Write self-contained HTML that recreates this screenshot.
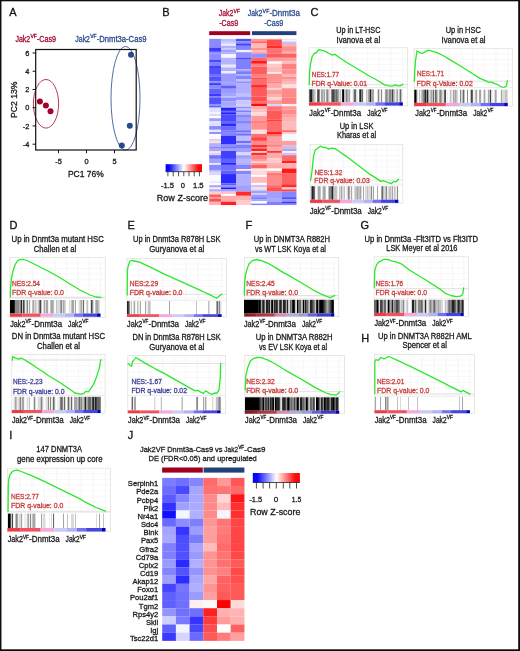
<!DOCTYPE html>
<html><head><meta charset="utf-8"><title>Figure</title>
<style>html,body{margin:0;padding:0;background:#fff;width:520px;height:651px;overflow:hidden;}.wrap{position:relative;width:520px;height:651px;}svg{position:absolute;left:0;top:0;display:block;font-family:"Liberation Sans", sans-serif;}svg.main{filter:blur(0.45px);}</style></head>
<body>
<div class="wrap">
<svg class="main" width="520" height="651" viewBox="0 0 520 651">
<rect x="0" y="0" width="520" height="651" fill="#fff"/>
<text x="9.20" y="15.80" font-size="11.00" fill="#111" stroke="#111" stroke-width="0.30">A</text>
<text x="162.30" y="16.00" font-size="11.00" fill="#111" stroke="#111" stroke-width="0.30">B</text>
<text x="310.40" y="16.20" font-size="11.00" fill="#111" stroke="#111" stroke-width="0.30">C</text>
<text x="9.50" y="228.70" font-size="11.00" fill="#111" stroke="#111" stroke-width="0.30">D</text>
<text x="127.50" y="229.20" font-size="11.00" fill="#111" stroke="#111" stroke-width="0.30">E</text>
<text x="245.50" y="229.00" font-size="11.00" fill="#111" stroke="#111" stroke-width="0.30">F</text>
<text x="360.50" y="229.00" font-size="11.00" fill="#111" stroke="#111" stroke-width="0.30">G</text>
<text x="361.20" y="342.00" font-size="11.00" fill="#111" stroke="#111" stroke-width="0.30">H</text>
<text x="9.20" y="438.80" font-size="11.00" fill="#111" stroke="#111" stroke-width="0.30">I</text>
<text x="127.70" y="438.80" font-size="11.00" fill="#111" stroke="#111" stroke-width="0.30">J</text>
<text x="15.40" y="41.80" font-size="8.30" fill="#a50b2f" textLength="14.80" lengthAdjust="spacingAndGlyphs" stroke="#a50b2f" stroke-width="0.30">Jak2</text>
<text x="30.40" y="38.31" font-size="5.15" fill="#a50b2f" textLength="6.50" lengthAdjust="spacingAndGlyphs" stroke="#a50b2f" stroke-width="0.30">VF</text>
<text x="36.90" y="41.80" font-size="8.30" fill="#a50b2f" textLength="19.20" lengthAdjust="spacingAndGlyphs" stroke="#a50b2f" stroke-width="0.30">-Cas9</text>
<text x="75.30" y="41.70" font-size="8.30" fill="#2c4b8c" textLength="14.70" lengthAdjust="spacingAndGlyphs" stroke="#2c4b8c" stroke-width="0.30">Jak2</text>
<text x="90.20" y="38.21" font-size="5.15" fill="#2c4b8c" textLength="6.50" lengthAdjust="spacingAndGlyphs" stroke="#2c4b8c" stroke-width="0.30">VF</text>
<text x="96.70" y="41.70" font-size="8.30" fill="#2c4b8c" textLength="49.80" lengthAdjust="spacingAndGlyphs" stroke="#2c4b8c" stroke-width="0.30">-Dnmt3a-Cas9</text>
<ellipse cx="46" cy="103.8" rx="12.6" ry="24.3" fill="none" stroke="#b3223f" stroke-width="0.9"/>
<ellipse cx="125.5" cy="98.3" rx="14.5" ry="51.9" fill="none" stroke="#3b5b99" stroke-width="0.9"/>
<rect x="35.7" y="49.5" width="100.5" height="100.5" fill="none" stroke="#111" stroke-width="1.2"/>
<line x1="32.60" y1="53.00" x2="35.70" y2="53.00" stroke="#111" stroke-width="1.00"/>
<text x="29.30" y="55.60" font-size="7.40" fill="#1a1a1a" text-anchor="end" stroke="#1a1a1a" stroke-width="0.30">6</text>
<line x1="32.60" y1="71.24" x2="35.70" y2="71.24" stroke="#111" stroke-width="1.00"/>
<text x="29.30" y="73.84" font-size="7.40" fill="#1a1a1a" text-anchor="end" stroke="#1a1a1a" stroke-width="0.30">4</text>
<line x1="32.60" y1="89.48" x2="35.70" y2="89.48" stroke="#111" stroke-width="1.00"/>
<text x="29.30" y="92.08" font-size="7.40" fill="#1a1a1a" text-anchor="end" stroke="#1a1a1a" stroke-width="0.30">2</text>
<line x1="32.60" y1="107.72" x2="35.70" y2="107.72" stroke="#111" stroke-width="1.00"/>
<text x="29.30" y="110.32" font-size="7.40" fill="#1a1a1a" text-anchor="end" stroke="#1a1a1a" stroke-width="0.30">0</text>
<line x1="32.60" y1="125.96" x2="35.70" y2="125.96" stroke="#111" stroke-width="1.00"/>
<text x="29.30" y="128.56" font-size="7.40" fill="#1a1a1a" text-anchor="end" stroke="#1a1a1a" stroke-width="0.30">-2</text>
<line x1="32.60" y1="144.20" x2="35.70" y2="144.20" stroke="#111" stroke-width="1.00"/>
<text x="29.30" y="146.80" font-size="7.40" fill="#1a1a1a" text-anchor="end" stroke="#1a1a1a" stroke-width="0.30">-4</text>
<line x1="58.50" y1="150.00" x2="58.50" y2="153.20" stroke="#111" stroke-width="1.00"/>
<text x="58.50" y="163.60" font-size="7.40" fill="#1a1a1a" text-anchor="middle" stroke="#1a1a1a" stroke-width="0.30">-5</text>
<line x1="86.50" y1="150.00" x2="86.50" y2="153.20" stroke="#111" stroke-width="1.00"/>
<text x="86.50" y="163.60" font-size="7.40" fill="#1a1a1a" text-anchor="middle" stroke="#1a1a1a" stroke-width="0.30">0</text>
<line x1="114.50" y1="150.00" x2="114.50" y2="153.20" stroke="#111" stroke-width="1.00"/>
<text x="114.50" y="163.60" font-size="7.40" fill="#1a1a1a" text-anchor="middle" stroke="#1a1a1a" stroke-width="0.30">5</text>
<text x="67.90" y="177.20" font-size="9.00" fill="#1a1a1a" textLength="35.90" lengthAdjust="spacingAndGlyphs" stroke="#1a1a1a" stroke-width="0.30">PC1 76%</text>
<text x="0" y="0" font-size="9.0" fill="#1a1a1a" stroke="#1a1a1a" stroke-width="0.30" textLength="36.5" lengthAdjust="spacingAndGlyphs" transform="translate(16.6,118.0) rotate(-90)">PC2 13%</text>
<circle cx="39.9" cy="101.4" r="3.0" fill="#a6002b"/>
<circle cx="45.9" cy="105.4" r="3.0" fill="#a6002b"/>
<circle cx="50.5" cy="111.3" r="3.0" fill="#a6002b"/>
<circle cx="131.0" cy="54.7" r="3.0" fill="#284a8c"/>
<circle cx="129.8" cy="125.7" r="3.0" fill="#284a8c"/>
<circle cx="121.8" cy="145.4" r="3.0" fill="#284a8c"/>
<rect x="209.20" y="38.85" width="11.85" height="8.82" fill="#8a8aff"/>
<rect x="209.20" y="47.62" width="11.85" height="4.21" fill="#3a3aff"/>
<rect x="209.20" y="51.77" width="11.85" height="1.90" fill="#8888ff"/>
<rect x="209.20" y="53.62" width="11.85" height="6.05" fill="#8c8cff"/>
<rect x="209.20" y="59.62" width="11.85" height="2.36" fill="#4545ff"/>
<rect x="209.20" y="61.93" width="11.85" height="3.74" fill="#8080ff"/>
<rect x="209.20" y="65.62" width="11.85" height="2.36" fill="#4040ff"/>
<rect x="209.20" y="67.93" width="11.85" height="6.05" fill="#5050ff"/>
<rect x="209.20" y="73.93" width="11.85" height="2.82" fill="#7070ff"/>
<rect x="209.20" y="76.70" width="11.85" height="2.36" fill="#5050ff"/>
<rect x="221.00" y="38.85" width="15.05" height="3.74" fill="#c0c0ff"/>
<rect x="221.00" y="42.54" width="15.05" height="1.44" fill="#d0d0ff"/>
<rect x="221.00" y="43.93" width="15.05" height="1.90" fill="#eeeeff"/>
<rect x="221.00" y="45.77" width="15.05" height="2.36" fill="#b0b0ff"/>
<rect x="221.00" y="48.08" width="15.05" height="1.90" fill="#c8c8ff"/>
<rect x="221.00" y="49.93" width="15.05" height="2.36" fill="#a0a0ff"/>
<rect x="221.00" y="52.24" width="15.05" height="1.90" fill="#b0b0ff"/>
<rect x="221.00" y="54.08" width="15.05" height="3.74" fill="#f5f5ff"/>
<rect x="221.00" y="57.78" width="15.05" height="6.98" fill="#b5b5ff"/>
<rect x="221.00" y="64.70" width="15.05" height="2.82" fill="#e8e8ff"/>
<rect x="221.00" y="67.47" width="15.05" height="3.74" fill="#b0b0ff"/>
<rect x="221.00" y="71.16" width="15.05" height="2.36" fill="#f0f0ff"/>
<rect x="221.00" y="73.47" width="15.05" height="5.59" fill="#9a9aff"/>
<rect x="236.00" y="38.85" width="15.25" height="2.36" fill="#4a4aff"/>
<rect x="236.00" y="41.16" width="15.25" height="2.36" fill="#8a8aff"/>
<rect x="236.00" y="43.46" width="15.25" height="2.36" fill="#4040ff"/>
<rect x="236.00" y="45.77" width="15.25" height="4.21" fill="#8585ff"/>
<rect x="236.00" y="49.93" width="15.25" height="2.36" fill="#f0f0ff"/>
<rect x="236.00" y="52.24" width="15.25" height="5.59" fill="#8f8fff"/>
<rect x="236.00" y="57.78" width="15.25" height="1.90" fill="#4848ff"/>
<rect x="236.00" y="59.62" width="15.25" height="9.75" fill="#8080ff"/>
<rect x="236.00" y="69.32" width="15.25" height="1.90" fill="#a8a8ff"/>
<rect x="236.00" y="71.16" width="15.25" height="2.82" fill="#7a7aff"/>
<rect x="236.00" y="73.93" width="15.25" height="1.90" fill="#b0b0ff"/>
<rect x="236.00" y="75.78" width="15.25" height="3.28" fill="#8585ff"/>
<rect x="251.20" y="38.85" width="15.75" height="2.36" fill="#ff9a9a"/>
<rect x="251.20" y="41.16" width="15.75" height="2.36" fill="#ff6a6a"/>
<rect x="251.20" y="43.46" width="15.75" height="4.67" fill="#ffbaba"/>
<rect x="251.20" y="48.08" width="15.75" height="1.90" fill="#ff8a8a"/>
<rect x="251.20" y="49.93" width="15.75" height="2.36" fill="#ffbcbc"/>
<rect x="251.20" y="52.24" width="15.75" height="1.44" fill="#ff9090"/>
<rect x="251.20" y="53.62" width="15.75" height="4.21" fill="#9090ff"/>
<rect x="251.20" y="57.78" width="15.75" height="3.28" fill="#ff6666"/>
<rect x="251.20" y="61.01" width="15.75" height="2.82" fill="#ff1a1a"/>
<rect x="251.20" y="63.78" width="15.75" height="2.82" fill="#ff8080"/>
<rect x="251.20" y="66.55" width="15.75" height="7.44" fill="#ff5c5c"/>
<rect x="251.20" y="73.93" width="15.75" height="3.74" fill="#ff8080"/>
<rect x="251.20" y="77.63" width="15.75" height="1.44" fill="#ff5050"/>
<rect x="266.90" y="38.85" width="15.05" height="0.97" fill="#ff9090"/>
<rect x="266.90" y="39.77" width="15.05" height="5.59" fill="#ff4c4c"/>
<rect x="266.90" y="45.31" width="15.05" height="2.82" fill="#ff2a2a"/>
<rect x="266.90" y="48.08" width="15.05" height="5.59" fill="#ff7070"/>
<rect x="266.90" y="53.62" width="15.05" height="4.21" fill="#ff5a5a"/>
<rect x="266.90" y="57.78" width="15.05" height="3.74" fill="#ff9a9a"/>
<rect x="266.90" y="61.47" width="15.05" height="2.36" fill="#f8f8ff"/>
<rect x="266.90" y="63.78" width="15.05" height="2.82" fill="#ffc8c8"/>
<rect x="266.90" y="66.55" width="15.05" height="5.59" fill="#ffbcbc"/>
<rect x="266.90" y="72.09" width="15.05" height="1.90" fill="#ffe8e8"/>
<rect x="266.90" y="73.93" width="15.05" height="5.13" fill="#ff9090"/>
<rect x="281.90" y="38.85" width="14.55" height="1.44" fill="#ffe0e0"/>
<rect x="281.90" y="40.23" width="14.55" height="1.44" fill="#f5f5ff"/>
<rect x="281.90" y="41.62" width="14.55" height="2.36" fill="#c0c0ff"/>
<rect x="281.90" y="43.93" width="14.55" height="2.36" fill="#ffb0b0"/>
<rect x="281.90" y="46.23" width="14.55" height="5.59" fill="#ff9090"/>
<rect x="281.90" y="51.77" width="14.55" height="1.90" fill="#ffb0b0"/>
<rect x="281.90" y="53.62" width="14.55" height="4.21" fill="#ff6060"/>
<rect x="281.90" y="57.78" width="14.55" height="3.74" fill="#ffa0a0"/>
<rect x="281.90" y="61.47" width="14.55" height="2.36" fill="#ffbcbc"/>
<rect x="281.90" y="63.78" width="14.55" height="5.59" fill="#ff8080"/>
<rect x="281.90" y="69.32" width="14.55" height="4.67" fill="#ff9090"/>
<rect x="281.90" y="73.93" width="14.55" height="2.82" fill="#ffb8b8"/>
<rect x="281.90" y="76.70" width="14.55" height="2.36" fill="#ff9090"/>
<rect x="209.20" y="79.00" width="11.85" height="2.36" fill="#5555ff"/>
<rect x="209.20" y="81.31" width="11.85" height="1.90" fill="#8a8aff"/>
<rect x="209.20" y="83.16" width="11.85" height="1.90" fill="#3a3aff"/>
<rect x="209.20" y="85.00" width="11.85" height="3.74" fill="#8a8aff"/>
<rect x="209.20" y="88.70" width="11.85" height="5.13" fill="#6060ff"/>
<rect x="209.20" y="93.77" width="11.85" height="2.82" fill="#3a3aff"/>
<rect x="209.20" y="96.54" width="11.85" height="1.44" fill="#8080ff"/>
<rect x="209.20" y="97.93" width="11.85" height="6.05" fill="#5050ff"/>
<rect x="209.20" y="103.93" width="11.85" height="1.90" fill="#9090ff"/>
<rect x="209.20" y="105.78" width="11.85" height="1.90" fill="#6060ff"/>
<rect x="209.20" y="107.62" width="11.85" height="4.67" fill="#e0e0ff"/>
<rect x="209.20" y="112.24" width="11.85" height="1.90" fill="#f5f5ff"/>
<rect x="209.20" y="114.09" width="11.85" height="1.90" fill="#d8d8ff"/>
<rect x="209.20" y="115.93" width="11.85" height="2.36" fill="#ffffff"/>
<rect x="209.20" y="118.24" width="11.85" height="2.82" fill="#a0a0ff"/>
<rect x="221.00" y="79.00" width="15.05" height="3.74" fill="#9a9aff"/>
<rect x="221.00" y="82.69" width="15.05" height="2.82" fill="#a0a0ff"/>
<rect x="221.00" y="85.46" width="15.05" height="3.28" fill="#5e5eff"/>
<rect x="221.00" y="88.70" width="15.05" height="5.13" fill="#9a9aff"/>
<rect x="221.00" y="93.77" width="15.05" height="2.82" fill="#a5a5ff"/>
<rect x="221.00" y="96.54" width="15.05" height="1.44" fill="#b8b8ff"/>
<rect x="221.00" y="97.93" width="15.05" height="3.28" fill="#9090ff"/>
<rect x="221.00" y="101.16" width="15.05" height="5.59" fill="#a8a8ff"/>
<rect x="221.00" y="106.70" width="15.05" height="0.97" fill="#b0b0ff"/>
<rect x="221.00" y="107.62" width="15.05" height="3.28" fill="#2525ff"/>
<rect x="221.00" y="110.86" width="15.05" height="1.44" fill="#6a6aff"/>
<rect x="221.00" y="112.24" width="15.05" height="2.36" fill="#2020ff"/>
<rect x="221.00" y="114.55" width="15.05" height="6.51" fill="#4a4aff"/>
<rect x="236.00" y="79.00" width="15.25" height="2.36" fill="#c0c0ff"/>
<rect x="236.00" y="81.31" width="15.25" height="2.36" fill="#9090ff"/>
<rect x="236.00" y="83.62" width="15.25" height="10.21" fill="#b0b0ff"/>
<rect x="236.00" y="93.77" width="15.25" height="2.82" fill="#c0c0ff"/>
<rect x="236.00" y="96.54" width="15.25" height="3.74" fill="#9a9aff"/>
<rect x="236.00" y="100.24" width="15.25" height="3.74" fill="#c8c8ff"/>
<rect x="236.00" y="103.93" width="15.25" height="2.82" fill="#d0d0ff"/>
<rect x="236.00" y="106.70" width="15.25" height="1.90" fill="#9090ff"/>
<rect x="236.00" y="108.55" width="15.25" height="1.90" fill="#c0c0ff"/>
<rect x="236.00" y="110.39" width="15.25" height="1.90" fill="#8080ff"/>
<rect x="236.00" y="112.24" width="15.25" height="2.82" fill="#b0b0ff"/>
<rect x="236.00" y="115.01" width="15.25" height="2.82" fill="#8585ff"/>
<rect x="236.00" y="117.78" width="15.25" height="3.28" fill="#a0a0ff"/>
<rect x="251.20" y="79.00" width="15.75" height="6.05" fill="#ff6a6a"/>
<rect x="251.20" y="85.00" width="15.75" height="2.82" fill="#ff2a2a"/>
<rect x="251.20" y="87.77" width="15.75" height="8.82" fill="#ff5a5a"/>
<rect x="251.20" y="96.54" width="15.75" height="4.67" fill="#ff5050"/>
<rect x="251.20" y="101.16" width="15.75" height="2.82" fill="#ff6a6a"/>
<rect x="251.20" y="103.93" width="15.75" height="2.36" fill="#ff0a0a"/>
<rect x="251.20" y="106.24" width="15.75" height="3.28" fill="#ffaaaa"/>
<rect x="251.20" y="109.47" width="15.75" height="2.82" fill="#ffc0c0"/>
<rect x="251.20" y="112.24" width="15.75" height="3.74" fill="#ffdada"/>
<rect x="251.20" y="115.93" width="15.75" height="5.13" fill="#ff9a9a"/>
<rect x="266.90" y="79.00" width="15.05" height="2.82" fill="#ff9090"/>
<rect x="266.90" y="81.77" width="15.05" height="1.90" fill="#ff8080"/>
<rect x="266.90" y="83.62" width="15.05" height="4.67" fill="#ffaaaa"/>
<rect x="266.90" y="88.23" width="15.05" height="1.90" fill="#ffcccc"/>
<rect x="266.90" y="90.08" width="15.05" height="4.67" fill="#ff9a9a"/>
<rect x="266.90" y="94.70" width="15.05" height="2.82" fill="#ffb0b0"/>
<rect x="266.90" y="97.47" width="15.05" height="2.82" fill="#ffd0d0"/>
<rect x="266.90" y="100.24" width="15.05" height="3.74" fill="#ff9a9a"/>
<rect x="266.90" y="103.93" width="15.05" height="2.36" fill="#d0d8ff"/>
<rect x="266.90" y="106.24" width="15.05" height="4.21" fill="#ff7070"/>
<rect x="266.90" y="110.39" width="15.05" height="9.28" fill="#ff5a5a"/>
<rect x="266.90" y="119.63" width="15.05" height="1.44" fill="#ff4040"/>
<rect x="281.90" y="79.00" width="14.55" height="2.82" fill="#ffaaaa"/>
<rect x="281.90" y="81.77" width="14.55" height="2.82" fill="#ffb8b8"/>
<rect x="281.90" y="84.54" width="14.55" height="3.74" fill="#ffe0e0"/>
<rect x="281.90" y="88.23" width="14.55" height="9.28" fill="#ff8a8a"/>
<rect x="281.90" y="97.47" width="14.55" height="6.51" fill="#ff8080"/>
<rect x="281.90" y="103.93" width="14.55" height="2.36" fill="#fff0f0"/>
<rect x="281.90" y="106.24" width="14.55" height="3.28" fill="#ff9a9a"/>
<rect x="281.90" y="109.47" width="14.55" height="4.67" fill="#ff8a8a"/>
<rect x="281.90" y="114.09" width="14.55" height="3.74" fill="#ffa0a0"/>
<rect x="281.90" y="117.78" width="14.55" height="3.28" fill="#ffb0b0"/>
<rect x="209.20" y="121.00" width="11.85" height="5.13" fill="#e0e0ff"/>
<rect x="209.20" y="126.08" width="11.85" height="3.74" fill="#8a8aff"/>
<rect x="209.20" y="129.77" width="11.85" height="2.36" fill="#e8e8ff"/>
<rect x="209.20" y="132.08" width="11.85" height="1.90" fill="#8a8aff"/>
<rect x="209.20" y="133.93" width="11.85" height="5.13" fill="#fafaff"/>
<rect x="209.20" y="139.01" width="11.85" height="1.90" fill="#d0d0ff"/>
<rect x="209.20" y="140.85" width="11.85" height="2.36" fill="#ffe0d8"/>
<rect x="209.20" y="143.16" width="11.85" height="3.74" fill="#b0b0ff"/>
<rect x="209.20" y="146.85" width="11.85" height="1.90" fill="#8a8aff"/>
<rect x="209.20" y="148.70" width="11.85" height="2.36" fill="#a8a8ff"/>
<rect x="209.20" y="151.01" width="11.85" height="1.90" fill="#ffe0d8"/>
<rect x="209.20" y="152.86" width="11.85" height="2.36" fill="#d8d8ff"/>
<rect x="209.20" y="155.16" width="11.85" height="3.74" fill="#7575ff"/>
<rect x="209.20" y="158.86" width="11.85" height="4.21" fill="#a0a0ff"/>
<rect x="221.00" y="121.00" width="15.05" height="2.36" fill="#6565ff"/>
<rect x="221.00" y="123.31" width="15.05" height="2.82" fill="#2a2aff"/>
<rect x="221.00" y="126.08" width="15.05" height="4.21" fill="#6a6aff"/>
<rect x="221.00" y="130.23" width="15.05" height="1.90" fill="#7575ff"/>
<rect x="221.00" y="132.08" width="15.05" height="3.74" fill="#8585ff"/>
<rect x="221.00" y="135.77" width="15.05" height="8.82" fill="#2e2eff"/>
<rect x="221.00" y="144.55" width="15.05" height="2.36" fill="#8a8aff"/>
<rect x="221.00" y="146.85" width="15.05" height="1.90" fill="#7575ff"/>
<rect x="221.00" y="148.70" width="15.05" height="2.36" fill="#a0a0ff"/>
<rect x="221.00" y="151.01" width="15.05" height="7.90" fill="#4040ff"/>
<rect x="221.00" y="158.86" width="15.05" height="4.21" fill="#6060ff"/>
<rect x="236.00" y="121.00" width="15.25" height="2.82" fill="#8585ff"/>
<rect x="236.00" y="123.77" width="15.25" height="6.51" fill="#a5a5ff"/>
<rect x="236.00" y="130.23" width="15.25" height="1.90" fill="#7070ff"/>
<rect x="236.00" y="132.08" width="15.25" height="1.90" fill="#9a9aff"/>
<rect x="236.00" y="133.93" width="15.25" height="1.90" fill="#7070ff"/>
<rect x="236.00" y="135.77" width="15.25" height="5.13" fill="#bdbdff"/>
<rect x="236.00" y="140.85" width="15.25" height="2.36" fill="#7070ff"/>
<rect x="236.00" y="143.16" width="15.25" height="1.90" fill="#b0b0ff"/>
<rect x="236.00" y="145.01" width="15.25" height="3.74" fill="#8080ff"/>
<rect x="236.00" y="148.70" width="15.25" height="3.74" fill="#a0a0ff"/>
<rect x="236.00" y="152.39" width="15.25" height="2.82" fill="#dadaff"/>
<rect x="236.00" y="155.16" width="15.25" height="3.74" fill="#a0a0ff"/>
<rect x="236.00" y="158.86" width="15.25" height="4.21" fill="#b8b8ff"/>
<rect x="251.20" y="121.00" width="15.75" height="2.82" fill="#ff8080"/>
<rect x="251.20" y="123.77" width="15.75" height="6.05" fill="#ff9090"/>
<rect x="251.20" y="129.77" width="15.75" height="4.21" fill="#ffe0e0"/>
<rect x="251.20" y="133.93" width="15.75" height="3.28" fill="#ff7070"/>
<rect x="251.20" y="137.16" width="15.75" height="3.74" fill="#ff4545"/>
<rect x="251.20" y="140.85" width="15.75" height="4.21" fill="#ff8a8a"/>
<rect x="251.20" y="145.01" width="15.75" height="2.36" fill="#ff3030"/>
<rect x="251.20" y="147.32" width="15.75" height="1.44" fill="#ff6060"/>
<rect x="251.20" y="148.70" width="15.75" height="2.36" fill="#ff2020"/>
<rect x="251.20" y="151.01" width="15.75" height="1.90" fill="#ffcccc"/>
<rect x="251.20" y="152.86" width="15.75" height="2.36" fill="#ff2a2a"/>
<rect x="251.20" y="155.16" width="15.75" height="4.67" fill="#ff8080"/>
<rect x="251.20" y="159.78" width="15.75" height="1.90" fill="#ffa0a0"/>
<rect x="251.20" y="161.63" width="15.75" height="1.44" fill="#ffd0d0"/>
<rect x="266.90" y="121.00" width="15.05" height="11.13" fill="#ff6a6a"/>
<rect x="266.90" y="132.08" width="15.05" height="1.90" fill="#ff1010"/>
<rect x="266.90" y="133.93" width="15.05" height="2.82" fill="#ff7070"/>
<rect x="266.90" y="136.70" width="15.05" height="4.21" fill="#ffa0a0"/>
<rect x="266.90" y="140.85" width="15.05" height="4.21" fill="#ff9a9a"/>
<rect x="266.90" y="145.01" width="15.05" height="1.90" fill="#ff8080"/>
<rect x="266.90" y="146.85" width="15.05" height="4.21" fill="#ffaaaa"/>
<rect x="266.90" y="151.01" width="15.05" height="1.90" fill="#ff3535"/>
<rect x="266.90" y="152.86" width="15.05" height="5.13" fill="#ffaaaa"/>
<rect x="266.90" y="157.93" width="15.05" height="1.90" fill="#ffcccc"/>
<rect x="266.90" y="159.78" width="15.05" height="3.28" fill="#ffc8c8"/>
<rect x="281.90" y="121.00" width="14.55" height="9.28" fill="#ffbcbc"/>
<rect x="281.90" y="130.23" width="14.55" height="1.90" fill="#ff6a6a"/>
<rect x="281.90" y="132.08" width="14.55" height="1.90" fill="#ffc8c8"/>
<rect x="281.90" y="133.93" width="14.55" height="6.98" fill="#f8f8ff"/>
<rect x="281.90" y="140.85" width="14.55" height="4.21" fill="#ffa0a0"/>
<rect x="281.90" y="145.01" width="14.55" height="1.90" fill="#c0c8ff"/>
<rect x="281.90" y="146.85" width="14.55" height="1.90" fill="#ffaaaa"/>
<rect x="281.90" y="148.70" width="14.55" height="2.36" fill="#a0a8ff"/>
<rect x="281.90" y="151.01" width="14.55" height="1.90" fill="#fff0f0"/>
<rect x="281.90" y="152.86" width="14.55" height="2.36" fill="#c0c8ff"/>
<rect x="281.90" y="155.16" width="14.55" height="5.59" fill="#ff6a6a"/>
<rect x="281.90" y="160.70" width="14.55" height="2.36" fill="#ff2020"/>
<rect x="209.20" y="163.00" width="11.85" height="1.90" fill="#e8e8ff"/>
<rect x="209.20" y="164.85" width="11.85" height="5.59" fill="#8a8aff"/>
<rect x="209.20" y="170.39" width="11.85" height="1.44" fill="#b0b0ff"/>
<rect x="209.20" y="171.77" width="11.85" height="3.28" fill="#d8d8ff"/>
<rect x="209.20" y="175.00" width="11.85" height="6.51" fill="#fafaff"/>
<rect x="209.20" y="181.47" width="11.85" height="1.44" fill="#e0e0ff"/>
<rect x="209.20" y="182.85" width="11.85" height="2.36" fill="#ffffff"/>
<rect x="209.20" y="185.16" width="11.85" height="2.36" fill="#a5a5ff"/>
<rect x="209.20" y="187.47" width="11.85" height="1.90" fill="#ffe8e0"/>
<rect x="209.20" y="189.32" width="11.85" height="2.36" fill="#a8a8ff"/>
<rect x="209.20" y="191.62" width="11.85" height="2.82" fill="#ffd0d0"/>
<rect x="209.20" y="194.39" width="11.85" height="2.82" fill="#ff6060"/>
<rect x="209.20" y="197.16" width="11.85" height="1.90" fill="#ff9090"/>
<rect x="209.20" y="199.01" width="11.85" height="2.82" fill="#ff5050"/>
<rect x="209.20" y="201.78" width="11.85" height="3.28" fill="#ffb0b0"/>
<rect x="221.00" y="163.00" width="15.05" height="1.90" fill="#2525ff"/>
<rect x="221.00" y="164.85" width="15.05" height="5.59" fill="#7070ff"/>
<rect x="221.00" y="170.39" width="15.05" height="3.74" fill="#6060ff"/>
<rect x="221.00" y="174.08" width="15.05" height="9.28" fill="#2a2aff"/>
<rect x="221.00" y="183.31" width="15.05" height="1.90" fill="#5a5aff"/>
<rect x="221.00" y="185.16" width="15.05" height="2.36" fill="#9090ff"/>
<rect x="221.00" y="187.47" width="15.05" height="1.90" fill="#1a1aff"/>
<rect x="221.00" y="189.32" width="15.05" height="2.36" fill="#a0a0ff"/>
<rect x="221.00" y="191.62" width="15.05" height="2.36" fill="#ffc0c0"/>
<rect x="221.00" y="193.93" width="15.05" height="1.90" fill="#ffffff"/>
<rect x="221.00" y="195.78" width="15.05" height="6.05" fill="#ffaaaa"/>
<rect x="221.00" y="201.78" width="15.05" height="3.28" fill="#ff2020"/>
<rect x="236.00" y="163.00" width="15.25" height="1.90" fill="#b0b0ff"/>
<rect x="236.00" y="164.85" width="15.25" height="4.21" fill="#8585ff"/>
<rect x="236.00" y="169.00" width="15.25" height="1.90" fill="#ffeae0"/>
<rect x="236.00" y="170.85" width="15.25" height="3.28" fill="#8585ff"/>
<rect x="236.00" y="174.08" width="15.25" height="11.13" fill="#b0b0ff"/>
<rect x="236.00" y="185.16" width="15.25" height="6.51" fill="#a0a0ff"/>
<rect x="236.00" y="191.62" width="15.25" height="4.21" fill="#ff2a2a"/>
<rect x="236.00" y="195.78" width="15.25" height="4.21" fill="#ffb0b0"/>
<rect x="236.00" y="199.93" width="15.25" height="5.13" fill="#ffcccc"/>
<rect x="251.20" y="163.00" width="15.75" height="1.90" fill="#ff9a9a"/>
<rect x="251.20" y="164.85" width="15.75" height="3.74" fill="#ff6060"/>
<rect x="251.20" y="168.54" width="15.75" height="1.90" fill="#ffe8e8"/>
<rect x="251.20" y="170.39" width="15.75" height="4.67" fill="#ffdada"/>
<rect x="251.20" y="175.00" width="15.75" height="1.90" fill="#ffffff"/>
<rect x="251.20" y="176.85" width="15.75" height="6.05" fill="#ffbcbc"/>
<rect x="251.20" y="182.85" width="15.75" height="2.36" fill="#fff8f8"/>
<rect x="251.20" y="185.16" width="15.75" height="1.90" fill="#c0c0ff"/>
<rect x="251.20" y="187.01" width="15.75" height="2.36" fill="#ffe0d8"/>
<rect x="251.20" y="189.32" width="15.75" height="1.44" fill="#d0d0ff"/>
<rect x="251.20" y="190.70" width="15.75" height="2.82" fill="#a0a0ff"/>
<rect x="251.20" y="193.47" width="15.75" height="1.44" fill="#d0d0ff"/>
<rect x="251.20" y="194.86" width="15.75" height="2.36" fill="#9a9aff"/>
<rect x="251.20" y="197.16" width="15.75" height="1.90" fill="#8080ff"/>
<rect x="251.20" y="199.01" width="15.75" height="2.36" fill="#a8a8ff"/>
<rect x="251.20" y="201.32" width="15.75" height="2.36" fill="#ffffff"/>
<rect x="251.20" y="203.63" width="15.75" height="1.44" fill="#8080ff"/>
<rect x="266.90" y="163.00" width="15.05" height="1.90" fill="#ffb0b0"/>
<rect x="266.90" y="164.85" width="15.05" height="3.74" fill="#ffaaaa"/>
<rect x="266.90" y="168.54" width="15.05" height="2.36" fill="#ffffff"/>
<rect x="266.90" y="170.85" width="15.05" height="2.36" fill="#ffaaaa"/>
<rect x="266.90" y="173.16" width="15.05" height="1.90" fill="#ff7070"/>
<rect x="266.90" y="175.00" width="15.05" height="10.21" fill="#ff8a8a"/>
<rect x="266.90" y="185.16" width="15.05" height="2.82" fill="#ff6a6a"/>
<rect x="266.90" y="187.93" width="15.05" height="3.74" fill="#ff5050"/>
<rect x="266.90" y="191.62" width="15.05" height="6.51" fill="#a0a0ff"/>
<rect x="266.90" y="198.09" width="15.05" height="3.74" fill="#a8a8ff"/>
<rect x="266.90" y="201.78" width="15.05" height="3.28" fill="#8080ff"/>
<rect x="281.90" y="163.00" width="14.55" height="5.59" fill="#ffb0b0"/>
<rect x="281.90" y="168.54" width="14.55" height="4.67" fill="#ff1a1a"/>
<rect x="281.90" y="173.16" width="14.55" height="11.13" fill="#ff6060"/>
<rect x="281.90" y="184.24" width="14.55" height="3.28" fill="#ff2a2a"/>
<rect x="281.90" y="187.47" width="14.55" height="1.90" fill="#ffd0d0"/>
<rect x="281.90" y="189.32" width="14.55" height="2.36" fill="#ff4848"/>
<rect x="281.90" y="191.62" width="14.55" height="5.59" fill="#8585ff"/>
<rect x="281.90" y="197.16" width="14.55" height="2.36" fill="#5050ff"/>
<rect x="281.90" y="199.47" width="14.55" height="2.36" fill="#9090ff"/>
<rect x="281.90" y="201.78" width="14.55" height="1.90" fill="#3535ff"/>
<rect x="281.90" y="203.63" width="14.55" height="1.44" fill="#8a8aff"/>
<rect x="209.20" y="31.20" width="41.00" height="3.90" fill="#a0001f"/>
<rect x="252.00" y="31.20" width="44.40" height="3.90" fill="#22407a"/>
<text x="218.80" y="16.30" font-size="8.50" fill="#a50b2f" textLength="14.60" lengthAdjust="spacingAndGlyphs" stroke="#a50b2f" stroke-width="0.30">Jak2</text>
<text x="233.60" y="12.73" font-size="5.27" fill="#a50b2f" textLength="6.40" lengthAdjust="spacingAndGlyphs" stroke="#a50b2f" stroke-width="0.30">VF</text>
<text x="219.20" y="26.40" font-size="8.60" fill="#a50b2f" textLength="19.00" lengthAdjust="spacingAndGlyphs" stroke="#a50b2f" stroke-width="0.30">-Cas9</text>
<text x="247.70" y="16.30" font-size="8.50" fill="#2c4b8c" textLength="14.70" lengthAdjust="spacingAndGlyphs" stroke="#2c4b8c" stroke-width="0.30">Jak2</text>
<text x="262.60" y="12.73" font-size="5.27" fill="#2c4b8c" textLength="6.80" lengthAdjust="spacingAndGlyphs" stroke="#2c4b8c" stroke-width="0.30">VF</text>
<text x="269.40" y="16.30" font-size="8.50" fill="#2c4b8c" textLength="30.60" lengthAdjust="spacingAndGlyphs" stroke="#2c4b8c" stroke-width="0.30">-Dnmt3a</text>
<text x="264.20" y="26.40" font-size="8.60" fill="#2c4b8c" textLength="19.00" lengthAdjust="spacingAndGlyphs" stroke="#2c4b8c" stroke-width="0.30">-Cas9</text>
<defs><linearGradient id="lgB" x1="0" x2="1" y1="0" y2="0"><stop offset="0" stop-color="#0000ff"/><stop offset="0.1" stop-color="#0a0aff"/><stop offset="0.5" stop-color="#ffffff"/><stop offset="0.9" stop-color="#ff0a0a"/><stop offset="1" stop-color="#ff0000"/></linearGradient></defs>
<rect x="165.60" y="164.20" width="36.40" height="7.50" fill="url(#lgB)"/>
<line x1="165.60" y1="171.70" x2="202.00" y2="171.70" stroke="#222" stroke-width="0.80"/>
<line x1="167.90" y1="171.70" x2="167.90" y2="176.30" stroke="#222" stroke-width="0.80"/>
<line x1="173.20" y1="171.70" x2="173.20" y2="176.30" stroke="#222" stroke-width="0.80"/>
<line x1="178.60" y1="171.70" x2="178.60" y2="176.30" stroke="#222" stroke-width="0.80"/>
<line x1="183.80" y1="171.70" x2="183.80" y2="176.30" stroke="#222" stroke-width="0.80"/>
<line x1="189.00" y1="171.70" x2="189.00" y2="176.30" stroke="#222" stroke-width="0.80"/>
<line x1="194.20" y1="171.70" x2="194.20" y2="176.30" stroke="#222" stroke-width="0.80"/>
<line x1="199.40" y1="171.70" x2="199.40" y2="176.30" stroke="#222" stroke-width="0.80"/>
<text x="160.90" y="187.60" font-size="7.50" fill="#1a1a1a" textLength="13.10" lengthAdjust="spacingAndGlyphs" stroke="#1a1a1a" stroke-width="0.30">-1.5</text>
<text x="182.90" y="187.60" font-size="7.50" fill="#1a1a1a" text-anchor="middle" stroke="#1a1a1a" stroke-width="0.30">0</text>
<text x="193.00" y="187.60" font-size="7.50" fill="#1a1a1a" textLength="10.60" lengthAdjust="spacingAndGlyphs" stroke="#1a1a1a" stroke-width="0.30">1.5</text>
<text x="156.80" y="201.20" font-size="9.50" fill="#1a1a1a" textLength="51.20" lengthAdjust="spacingAndGlyphs" stroke="#1a1a1a" stroke-width="0.30">Row Z-score</text>
<rect x="309.00" y="47.80" width="98.70" height="58.00" fill="#fff" stroke="#dcdcd6" stroke-width="0.7"/>
<line x1="320.73" y1="47.80" x2="320.73" y2="87.60" stroke="#f0f0f0" stroke-width="0.60"/>
<line x1="332.45" y1="47.80" x2="332.45" y2="87.60" stroke="#f0f0f0" stroke-width="0.60"/>
<line x1="344.18" y1="47.80" x2="344.18" y2="87.60" stroke="#f0f0f0" stroke-width="0.60"/>
<line x1="355.90" y1="47.80" x2="355.90" y2="87.60" stroke="#f0f0f0" stroke-width="0.60"/>
<line x1="367.63" y1="47.80" x2="367.63" y2="87.60" stroke="#f0f0f0" stroke-width="0.60"/>
<line x1="379.35" y1="47.80" x2="379.35" y2="87.60" stroke="#f0f0f0" stroke-width="0.60"/>
<line x1="391.08" y1="47.80" x2="391.08" y2="87.60" stroke="#f0f0f0" stroke-width="0.60"/>
<line x1="402.80" y1="47.80" x2="402.80" y2="87.60" stroke="#f0f0f0" stroke-width="0.60"/>
<line x1="309.00" y1="53.40" x2="407.70" y2="53.40" stroke="#f3f3f3" stroke-width="0.60"/>
<line x1="309.00" y1="59.00" x2="407.70" y2="59.00" stroke="#f3f3f3" stroke-width="0.60"/>
<line x1="309.00" y1="64.60" x2="407.70" y2="64.60" stroke="#f3f3f3" stroke-width="0.60"/>
<line x1="309.00" y1="70.20" x2="407.70" y2="70.20" stroke="#f3f3f3" stroke-width="0.60"/>
<line x1="309.00" y1="75.80" x2="407.70" y2="75.80" stroke="#f3f3f3" stroke-width="0.60"/>
<line x1="309.00" y1="81.40" x2="407.70" y2="81.40" stroke="#f3f3f3" stroke-width="0.60"/>
<line x1="309.00" y1="84.60" x2="407.70" y2="84.60" stroke="#d6d6d6" stroke-width="0.70"/>
<line x1="309.00" y1="87.60" x2="407.70" y2="87.60" stroke="#e2e2e2" stroke-width="0.70"/>
<rect x="309" y="89.30" width="1.02" height="13.00" fill="rgb(104,104,104)"/>
<rect x="310" y="89.30" width="1.02" height="13.00" fill="rgb(36,36,36)"/>
<rect x="311" y="89.30" width="1.02" height="13.00" fill="rgb(36,36,36)"/>
<rect x="312" y="89.30" width="1.02" height="13.00" fill="rgb(136,136,136)"/>
<rect x="313" y="89.30" width="1.02" height="13.00" fill="rgb(166,166,166)"/>
<rect x="314" y="89.30" width="1.02" height="13.00" fill="rgb(194,194,194)"/>
<rect x="315" y="89.30" width="1.02" height="13.00" fill="rgb(219,219,219)"/>
<rect x="317" y="89.30" width="1.02" height="13.00" fill="rgb(104,104,104)"/>
<rect x="318" y="89.30" width="1.02" height="13.00" fill="rgb(71,71,71)"/>
<rect x="319" y="89.30" width="1.02" height="13.00" fill="rgb(136,136,136)"/>
<rect x="320" y="89.30" width="1.02" height="13.00" fill="rgb(240,240,240)"/>
<rect x="321" y="89.30" width="1.02" height="13.00" fill="rgb(166,166,166)"/>
<rect x="322" y="89.30" width="1.02" height="13.00" fill="rgb(166,166,166)"/>
<rect x="323" y="89.30" width="1.02" height="13.00" fill="rgb(194,194,194)"/>
<rect x="324" y="89.30" width="1.02" height="13.00" fill="rgb(166,166,166)"/>
<rect x="325" y="89.30" width="1.02" height="13.00" fill="rgb(240,240,240)"/>
<rect x="326" y="89.30" width="1.02" height="13.00" fill="rgb(166,166,166)"/>
<rect x="327" y="89.30" width="1.02" height="13.00" fill="rgb(136,136,136)"/>
<rect x="328" y="89.30" width="1.02" height="13.00" fill="rgb(194,194,194)"/>
<rect x="329" y="89.30" width="1.02" height="13.00" fill="rgb(219,219,219)"/>
<rect x="330" y="89.30" width="1.02" height="13.00" fill="rgb(240,240,240)"/>
<rect x="331" y="89.30" width="1.02" height="13.00" fill="rgb(136,136,136)"/>
<rect x="332" y="89.30" width="1.02" height="13.00" fill="rgb(71,71,71)"/>
<rect x="333" y="89.30" width="1.02" height="13.00" fill="rgb(71,71,71)"/>
<rect x="334" y="89.30" width="1.02" height="13.00" fill="rgb(104,104,104)"/>
<rect x="335" y="89.30" width="1.02" height="13.00" fill="rgb(136,136,136)"/>
<rect x="336" y="89.30" width="1.02" height="13.00" fill="rgb(104,104,104)"/>
<rect x="337" y="89.30" width="1.02" height="13.00" fill="rgb(136,136,136)"/>
<rect x="338" y="89.30" width="1.02" height="13.00" fill="rgb(166,166,166)"/>
<rect x="339" y="89.30" width="1.02" height="13.00" fill="rgb(219,219,219)"/>
<rect x="340" y="89.30" width="1.02" height="13.00" fill="rgb(194,194,194)"/>
<rect x="341" y="89.30" width="1.02" height="13.00" fill="rgb(240,240,240)"/>
<rect x="342" y="89.30" width="1.02" height="13.00" fill="rgb(36,36,36)"/>
<rect x="343" y="89.30" width="1.02" height="13.00" fill="rgb(0,0,0)"/>
<rect x="344" y="89.30" width="1.02" height="13.00" fill="rgb(194,194,194)"/>
<rect x="345" y="89.30" width="1.02" height="13.00" fill="rgb(194,194,194)"/>
<rect x="346" y="89.30" width="1.02" height="13.00" fill="rgb(136,136,136)"/>
<rect x="347" y="89.30" width="1.02" height="13.00" fill="rgb(166,166,166)"/>
<rect x="348" y="89.30" width="1.02" height="13.00" fill="rgb(194,194,194)"/>
<rect x="349" y="89.30" width="1.02" height="13.00" fill="rgb(166,166,166)"/>
<rect x="350" y="89.30" width="1.02" height="13.00" fill="rgb(240,240,240)"/>
<rect x="352" y="89.30" width="1.02" height="13.00" fill="rgb(240,240,240)"/>
<rect x="353" y="89.30" width="1.02" height="13.00" fill="rgb(194,194,194)"/>
<rect x="354" y="89.30" width="1.02" height="13.00" fill="rgb(104,104,104)"/>
<rect x="355" y="89.30" width="1.02" height="13.00" fill="rgb(104,104,104)"/>
<rect x="356" y="89.30" width="1.02" height="13.00" fill="rgb(219,219,219)"/>
<rect x="357" y="89.30" width="1.02" height="13.00" fill="rgb(240,240,240)"/>
<rect x="359" y="89.30" width="1.02" height="13.00" fill="rgb(104,104,104)"/>
<rect x="360" y="89.30" width="1.02" height="13.00" fill="rgb(36,36,36)"/>
<rect x="361" y="89.30" width="1.02" height="13.00" fill="rgb(136,136,136)"/>
<rect x="362" y="89.30" width="1.02" height="13.00" fill="rgb(104,104,104)"/>
<rect x="363" y="89.30" width="1.02" height="13.00" fill="rgb(240,240,240)"/>
<rect x="366" y="89.30" width="1.02" height="13.00" fill="rgb(194,194,194)"/>
<rect x="367" y="89.30" width="1.02" height="13.00" fill="rgb(219,219,219)"/>
<rect x="368" y="89.30" width="1.02" height="13.00" fill="rgb(166,166,166)"/>
<rect x="369" y="89.30" width="1.02" height="13.00" fill="rgb(136,136,136)"/>
<rect x="370" y="89.30" width="1.02" height="13.00" fill="rgb(36,36,36)"/>
<rect x="371" y="89.30" width="1.02" height="13.00" fill="rgb(166,166,166)"/>
<rect x="372" y="89.30" width="1.02" height="13.00" fill="rgb(166,166,166)"/>
<rect x="373" y="89.30" width="1.02" height="13.00" fill="rgb(166,166,166)"/>
<rect x="377" y="89.30" width="1.02" height="13.00" fill="rgb(219,219,219)"/>
<rect x="378" y="89.30" width="1.02" height="13.00" fill="rgb(136,136,136)"/>
<rect x="379" y="89.30" width="1.02" height="13.00" fill="rgb(219,219,219)"/>
<rect x="380" y="89.30" width="1.02" height="13.00" fill="rgb(240,240,240)"/>
<rect x="381" y="89.30" width="1.02" height="13.00" fill="rgb(136,136,136)"/>
<rect x="382" y="89.30" width="1.02" height="13.00" fill="rgb(240,240,240)"/>
<rect x="384" y="89.30" width="1.02" height="13.00" fill="rgb(240,240,240)"/>
<rect x="385" y="89.30" width="1.02" height="13.00" fill="rgb(166,166,166)"/>
<rect x="386" y="89.30" width="1.02" height="13.00" fill="rgb(136,136,136)"/>
<rect x="387" y="89.30" width="1.02" height="13.00" fill="rgb(166,166,166)"/>
<rect x="388" y="89.30" width="1.02" height="13.00" fill="rgb(194,194,194)"/>
<rect x="389" y="89.30" width="1.02" height="13.00" fill="rgb(136,136,136)"/>
<rect x="390" y="89.30" width="1.02" height="13.00" fill="rgb(136,136,136)"/>
<rect x="391" y="89.30" width="1.02" height="13.00" fill="rgb(166,166,166)"/>
<rect x="392" y="89.30" width="1.02" height="13.00" fill="rgb(71,71,71)"/>
<rect x="393" y="89.30" width="1.02" height="13.00" fill="rgb(166,166,166)"/>
<rect x="394" y="89.30" width="1.02" height="13.00" fill="rgb(194,194,194)"/>
<rect x="395" y="89.30" width="1.02" height="13.00" fill="rgb(240,240,240)"/>
<rect x="396" y="89.30" width="1.02" height="13.00" fill="rgb(194,194,194)"/>
<rect x="397" y="89.30" width="1.02" height="13.00" fill="rgb(166,166,166)"/>
<rect x="398" y="89.30" width="1.02" height="13.00" fill="rgb(240,240,240)"/>
<rect x="399" y="89.30" width="1.02" height="13.00" fill="rgb(194,194,194)"/>
<rect x="400" y="89.30" width="1.02" height="13.00" fill="rgb(104,104,104)"/>
<rect x="401" y="89.30" width="1.02" height="13.00" fill="rgb(194,194,194)"/>
<rect x="402" y="89.30" width="1.02" height="13.00" fill="rgb(240,240,240)"/>
<rect x="309.00" y="102.30" width="12.79" height="3.30" fill="#ee3c46"/>
<rect x="321.76" y="102.30" width="19.07" height="3.30" fill="#f05262"/>
<rect x="340.80" y="102.30" width="13.26" height="3.30" fill="#f4a8dc"/>
<rect x="354.02" y="102.30" width="11.76" height="3.30" fill="#cacaf8"/>
<rect x="365.75" y="102.30" width="9.69" height="3.30" fill="#b2b2f4"/>
<rect x="375.41" y="102.30" width="8.94" height="3.30" fill="#7272f0"/>
<rect x="384.32" y="102.30" width="14.94" height="3.30" fill="#4444e2"/>
<rect x="399.24" y="102.30" width="3.59" height="3.30" fill="#0000c4"/>
<polyline points="309.20,84.40 309.60,72.00 310.50,64.00 312.00,57.00 314.00,53.50 316.00,53.00 317.50,51.00 319.00,49.60 323.00,50.60 326.00,51.60 329.00,53.50 332.00,55.00 335.00,54.40 340.00,58.00 346.00,62.00 356.00,68.00 366.00,74.00 370.00,76.50 375.10,79.00 380.10,82.00 384.20,84.60 387.20,85.60 391.30,86.10 394.30,85.60 395.40,84.80 397.40,85.80 399.90,85.80 403.00,84.40" fill="none" stroke="#2be82b" stroke-width="1.3" stroke-linejoin="round" stroke-linecap="round"/>
<text x="311.80" y="76.70" font-size="7.30" fill="#c83b3b" textLength="27.20" lengthAdjust="spacingAndGlyphs" stroke="#c83b3b" stroke-width="0.30">NES:1.77</text>
<text x="311.60" y="85.50" font-size="7.30" fill="#c83b3b" textLength="55.40" lengthAdjust="spacingAndGlyphs" stroke="#c83b3b" stroke-width="0.30">FDR q-Value: 0.01</text>
<text x="336.30" y="32.80" font-size="8.30" fill="#1a1a1a" textLength="44.10" lengthAdjust="spacingAndGlyphs" stroke="#1a1a1a" stroke-width="0.30">Up in LT-HSC</text>
<text x="336.50" y="43.00" font-size="8.30" fill="#1a1a1a" textLength="43.60" lengthAdjust="spacingAndGlyphs" stroke="#1a1a1a" stroke-width="0.30">Ivanova et al</text>
<text x="309.30" y="115.70" font-size="8.40" fill="#1a1a1a" textLength="15.20" lengthAdjust="spacingAndGlyphs" stroke="#1a1a1a" stroke-width="0.30">Jak2</text>
<text x="324.70" y="112.17" font-size="5.21" fill="#1a1a1a" textLength="5.80" lengthAdjust="spacingAndGlyphs" stroke="#1a1a1a" stroke-width="0.30">VF</text>
<text x="330.70" y="115.70" font-size="8.40" fill="#1a1a1a" textLength="30.50" lengthAdjust="spacingAndGlyphs" stroke="#1a1a1a" stroke-width="0.30">-Dnmt3a</text>
<text x="367.20" y="115.70" font-size="8.40" fill="#1a1a1a" textLength="14.00" lengthAdjust="spacingAndGlyphs" stroke="#1a1a1a" stroke-width="0.30">Jak2</text>
<text x="381.40" y="112.17" font-size="5.21" fill="#1a1a1a" textLength="6.20" lengthAdjust="spacingAndGlyphs" stroke="#1a1a1a" stroke-width="0.30">VF</text>
<rect x="414.10" y="48.30" width="98.20" height="57.90" fill="#fff" stroke="#dcdcd6" stroke-width="0.7"/>
<line x1="425.80" y1="48.30" x2="425.80" y2="87.60" stroke="#f0f0f0" stroke-width="0.60"/>
<line x1="437.50" y1="48.30" x2="437.50" y2="87.60" stroke="#f0f0f0" stroke-width="0.60"/>
<line x1="449.20" y1="48.30" x2="449.20" y2="87.60" stroke="#f0f0f0" stroke-width="0.60"/>
<line x1="460.90" y1="48.30" x2="460.90" y2="87.60" stroke="#f0f0f0" stroke-width="0.60"/>
<line x1="472.60" y1="48.30" x2="472.60" y2="87.60" stroke="#f0f0f0" stroke-width="0.60"/>
<line x1="484.30" y1="48.30" x2="484.30" y2="87.60" stroke="#f0f0f0" stroke-width="0.60"/>
<line x1="496.00" y1="48.30" x2="496.00" y2="87.60" stroke="#f0f0f0" stroke-width="0.60"/>
<line x1="507.70" y1="48.30" x2="507.70" y2="87.60" stroke="#f0f0f0" stroke-width="0.60"/>
<line x1="414.10" y1="53.90" x2="512.30" y2="53.90" stroke="#f3f3f3" stroke-width="0.60"/>
<line x1="414.10" y1="59.50" x2="512.30" y2="59.50" stroke="#f3f3f3" stroke-width="0.60"/>
<line x1="414.10" y1="65.10" x2="512.30" y2="65.10" stroke="#f3f3f3" stroke-width="0.60"/>
<line x1="414.10" y1="70.70" x2="512.30" y2="70.70" stroke="#f3f3f3" stroke-width="0.60"/>
<line x1="414.10" y1="76.30" x2="512.30" y2="76.30" stroke="#f3f3f3" stroke-width="0.60"/>
<line x1="414.10" y1="81.90" x2="512.30" y2="81.90" stroke="#f3f3f3" stroke-width="0.60"/>
<line x1="414.10" y1="81.10" x2="512.30" y2="81.10" stroke="#d6d6d6" stroke-width="0.70"/>
<line x1="414.10" y1="87.60" x2="512.30" y2="87.60" stroke="#e2e2e2" stroke-width="0.70"/>
<rect x="414" y="89.70" width="1.02" height="13.20" fill="rgb(71,71,71)"/>
<rect x="415" y="89.70" width="1.02" height="13.20" fill="rgb(0,0,0)"/>
<rect x="416" y="89.70" width="1.02" height="13.20" fill="rgb(104,104,104)"/>
<rect x="417" y="89.70" width="1.02" height="13.20" fill="rgb(219,219,219)"/>
<rect x="419" y="89.70" width="1.02" height="13.20" fill="rgb(194,194,194)"/>
<rect x="420" y="89.70" width="1.02" height="13.20" fill="rgb(240,240,240)"/>
<rect x="421" y="89.70" width="1.02" height="13.20" fill="rgb(194,194,194)"/>
<rect x="422" y="89.70" width="1.02" height="13.20" fill="rgb(166,166,166)"/>
<rect x="423" y="89.70" width="1.02" height="13.20" fill="rgb(136,136,136)"/>
<rect x="424" y="89.70" width="1.02" height="13.20" fill="rgb(104,104,104)"/>
<rect x="425" y="89.70" width="1.02" height="13.20" fill="rgb(36,36,36)"/>
<rect x="426" y="89.70" width="1.02" height="13.20" fill="rgb(136,136,136)"/>
<rect x="427" y="89.70" width="1.02" height="13.20" fill="rgb(36,36,36)"/>
<rect x="428" y="89.70" width="1.02" height="13.20" fill="rgb(166,166,166)"/>
<rect x="429" y="89.70" width="1.02" height="13.20" fill="rgb(219,219,219)"/>
<rect x="430" y="89.70" width="1.02" height="13.20" fill="rgb(194,194,194)"/>
<rect x="431" y="89.70" width="1.02" height="13.20" fill="rgb(166,166,166)"/>
<rect x="432" y="89.70" width="1.02" height="13.20" fill="rgb(194,194,194)"/>
<rect x="433" y="89.70" width="1.02" height="13.20" fill="rgb(104,104,104)"/>
<rect x="434" y="89.70" width="1.02" height="13.20" fill="rgb(219,219,219)"/>
<rect x="435" y="89.70" width="1.02" height="13.20" fill="rgb(104,104,104)"/>
<rect x="436" y="89.70" width="1.02" height="13.20" fill="rgb(136,136,136)"/>
<rect x="437" y="89.70" width="1.02" height="13.20" fill="rgb(194,194,194)"/>
<rect x="438" y="89.70" width="1.02" height="13.20" fill="rgb(240,240,240)"/>
<rect x="439" y="89.70" width="1.02" height="13.20" fill="rgb(166,166,166)"/>
<rect x="440" y="89.70" width="1.02" height="13.20" fill="rgb(136,136,136)"/>
<rect x="441" y="89.70" width="1.02" height="13.20" fill="rgb(166,166,166)"/>
<rect x="442" y="89.70" width="1.02" height="13.20" fill="rgb(219,219,219)"/>
<rect x="443" y="89.70" width="1.02" height="13.20" fill="rgb(219,219,219)"/>
<rect x="444" y="89.70" width="1.02" height="13.20" fill="rgb(104,104,104)"/>
<rect x="445" y="89.70" width="1.02" height="13.20" fill="rgb(71,71,71)"/>
<rect x="447" y="89.70" width="1.02" height="13.20" fill="rgb(240,240,240)"/>
<rect x="449" y="89.70" width="1.02" height="13.20" fill="rgb(240,240,240)"/>
<rect x="450" y="89.70" width="1.02" height="13.20" fill="rgb(194,194,194)"/>
<rect x="451" y="89.70" width="1.02" height="13.20" fill="rgb(219,219,219)"/>
<rect x="452" y="89.70" width="1.02" height="13.20" fill="rgb(240,240,240)"/>
<rect x="453" y="89.70" width="1.02" height="13.20" fill="rgb(166,166,166)"/>
<rect x="454" y="89.70" width="1.02" height="13.20" fill="rgb(194,194,194)"/>
<rect x="455" y="89.70" width="1.02" height="13.20" fill="rgb(166,166,166)"/>
<rect x="456" y="89.70" width="1.02" height="13.20" fill="rgb(194,194,194)"/>
<rect x="457" y="89.70" width="1.02" height="13.20" fill="rgb(219,219,219)"/>
<rect x="460" y="89.70" width="1.02" height="13.20" fill="rgb(136,136,136)"/>
<rect x="461" y="89.70" width="1.02" height="13.20" fill="rgb(219,219,219)"/>
<rect x="462" y="89.70" width="1.02" height="13.20" fill="rgb(194,194,194)"/>
<rect x="463" y="89.70" width="1.02" height="13.20" fill="rgb(104,104,104)"/>
<rect x="464" y="89.70" width="1.02" height="13.20" fill="rgb(194,194,194)"/>
<rect x="467" y="89.70" width="1.02" height="13.20" fill="rgb(136,136,136)"/>
<rect x="470" y="89.70" width="1.02" height="13.20" fill="rgb(194,194,194)"/>
<rect x="471" y="89.70" width="1.02" height="13.20" fill="rgb(71,71,71)"/>
<rect x="472" y="89.70" width="1.02" height="13.20" fill="rgb(104,104,104)"/>
<rect x="473" y="89.70" width="1.02" height="13.20" fill="rgb(240,240,240)"/>
<rect x="474" y="89.70" width="1.02" height="13.20" fill="rgb(240,240,240)"/>
<rect x="475" y="89.70" width="1.02" height="13.20" fill="rgb(194,194,194)"/>
<rect x="476" y="89.70" width="1.02" height="13.20" fill="rgb(166,166,166)"/>
<rect x="477" y="89.70" width="1.02" height="13.20" fill="rgb(240,240,240)"/>
<rect x="479" y="89.70" width="1.02" height="13.20" fill="rgb(166,166,166)"/>
<rect x="480" y="89.70" width="1.02" height="13.20" fill="rgb(166,166,166)"/>
<rect x="481" y="89.70" width="1.02" height="13.20" fill="rgb(240,240,240)"/>
<rect x="483" y="89.70" width="1.02" height="13.20" fill="rgb(219,219,219)"/>
<rect x="484" y="89.70" width="1.02" height="13.20" fill="rgb(166,166,166)"/>
<rect x="485" y="89.70" width="1.02" height="13.20" fill="rgb(219,219,219)"/>
<rect x="487" y="89.70" width="1.02" height="13.20" fill="rgb(240,240,240)"/>
<rect x="488" y="89.70" width="1.02" height="13.20" fill="rgb(166,166,166)"/>
<rect x="489" y="89.70" width="1.02" height="13.20" fill="rgb(194,194,194)"/>
<rect x="490" y="89.70" width="1.02" height="13.20" fill="rgb(71,71,71)"/>
<rect x="491" y="89.70" width="1.02" height="13.20" fill="rgb(219,219,219)"/>
<rect x="492" y="89.70" width="1.02" height="13.20" fill="rgb(240,240,240)"/>
<rect x="494" y="89.70" width="1.02" height="13.20" fill="rgb(219,219,219)"/>
<rect x="495" y="89.70" width="1.02" height="13.20" fill="rgb(166,166,166)"/>
<rect x="496" y="89.70" width="1.02" height="13.20" fill="rgb(194,194,194)"/>
<rect x="500" y="89.70" width="1.02" height="13.20" fill="rgb(240,240,240)"/>
<rect x="501" y="89.70" width="1.02" height="13.20" fill="rgb(166,166,166)"/>
<rect x="502" y="89.70" width="1.02" height="13.20" fill="rgb(219,219,219)"/>
<rect x="503" y="89.70" width="1.02" height="13.20" fill="rgb(219,219,219)"/>
<rect x="504" y="89.70" width="1.02" height="13.20" fill="rgb(219,219,219)"/>
<rect x="505" y="89.70" width="1.02" height="13.20" fill="rgb(194,194,194)"/>
<rect x="506" y="89.70" width="1.02" height="13.20" fill="rgb(194,194,194)"/>
<rect x="507" y="89.70" width="1.02" height="13.20" fill="rgb(219,219,219)"/>
<rect x="414.10" y="102.90" width="12.76" height="3.20" fill="#ee3c46"/>
<rect x="426.83" y="102.90" width="19.03" height="3.20" fill="#f05262"/>
<rect x="445.83" y="102.90" width="13.23" height="3.20" fill="#f4a8dc"/>
<rect x="459.03" y="102.90" width="11.73" height="3.20" fill="#cacaf8"/>
<rect x="470.73" y="102.90" width="9.67" height="3.20" fill="#b2b2f4"/>
<rect x="480.37" y="102.90" width="8.92" height="3.20" fill="#7272f0"/>
<rect x="489.26" y="102.90" width="14.91" height="3.20" fill="#4444e2"/>
<rect x="504.14" y="102.90" width="3.59" height="3.20" fill="#0000c4"/>
<polyline points="414.30,81.10 414.80,70.00 415.60,60.00 417.00,51.00 419.50,52.30 422.40,53.50 425.00,51.80 428.30,50.20 432.00,51.20 436.90,52.60 443.00,55.50 449.80,59.60 460.00,65.80 470.00,72.00 480.00,78.40 485.40,80.60 488.60,82.20 491.80,82.20 495.00,83.80 497.20,84.30 500.40,86.50 503.70,87.50 506.30,86.20 507.40,80.60" fill="none" stroke="#2be82b" stroke-width="1.3" stroke-linejoin="round" stroke-linecap="round"/>
<text x="417.00" y="76.40" font-size="7.30" fill="#c83b3b" textLength="27.00" lengthAdjust="spacingAndGlyphs" stroke="#c83b3b" stroke-width="0.30">NES:1.71</text>
<text x="416.80" y="85.60" font-size="7.30" fill="#c83b3b" textLength="55.90" lengthAdjust="spacingAndGlyphs" stroke="#c83b3b" stroke-width="0.30">FDR q-Value: 0.02</text>
<text x="445.70" y="32.80" font-size="8.30" fill="#1a1a1a" textLength="35.10" lengthAdjust="spacingAndGlyphs" stroke="#1a1a1a" stroke-width="0.30">Up in HSC</text>
<text x="441.60" y="43.00" font-size="8.30" fill="#1a1a1a" textLength="43.90" lengthAdjust="spacingAndGlyphs" stroke="#1a1a1a" stroke-width="0.30">Ivanova et al</text>
<text x="415.30" y="115.80" font-size="8.40" fill="#1a1a1a" textLength="15.20" lengthAdjust="spacingAndGlyphs" stroke="#1a1a1a" stroke-width="0.30">Jak2</text>
<text x="430.70" y="112.27" font-size="5.21" fill="#1a1a1a" textLength="5.80" lengthAdjust="spacingAndGlyphs" stroke="#1a1a1a" stroke-width="0.30">VF</text>
<text x="436.70" y="115.80" font-size="8.40" fill="#1a1a1a" textLength="30.50" lengthAdjust="spacingAndGlyphs" stroke="#1a1a1a" stroke-width="0.30">-Dnmt3a</text>
<text x="473.20" y="115.80" font-size="8.40" fill="#1a1a1a" textLength="14.00" lengthAdjust="spacingAndGlyphs" stroke="#1a1a1a" stroke-width="0.30">Jak2</text>
<text x="487.40" y="112.27" font-size="5.21" fill="#1a1a1a" textLength="6.20" lengthAdjust="spacingAndGlyphs" stroke="#1a1a1a" stroke-width="0.30">VF</text>
<rect x="310.10" y="144.30" width="92.70" height="58.90" fill="#fff" stroke="#dcdcd6" stroke-width="0.7"/>
<line x1="321.12" y1="144.30" x2="321.12" y2="185.00" stroke="#f0f0f0" stroke-width="0.60"/>
<line x1="332.15" y1="144.30" x2="332.15" y2="185.00" stroke="#f0f0f0" stroke-width="0.60"/>
<line x1="343.17" y1="144.30" x2="343.17" y2="185.00" stroke="#f0f0f0" stroke-width="0.60"/>
<line x1="354.20" y1="144.30" x2="354.20" y2="185.00" stroke="#f0f0f0" stroke-width="0.60"/>
<line x1="365.22" y1="144.30" x2="365.22" y2="185.00" stroke="#f0f0f0" stroke-width="0.60"/>
<line x1="376.25" y1="144.30" x2="376.25" y2="185.00" stroke="#f0f0f0" stroke-width="0.60"/>
<line x1="387.27" y1="144.30" x2="387.27" y2="185.00" stroke="#f0f0f0" stroke-width="0.60"/>
<line x1="398.30" y1="144.30" x2="398.30" y2="185.00" stroke="#f0f0f0" stroke-width="0.60"/>
<line x1="310.10" y1="149.90" x2="402.80" y2="149.90" stroke="#f3f3f3" stroke-width="0.60"/>
<line x1="310.10" y1="155.50" x2="402.80" y2="155.50" stroke="#f3f3f3" stroke-width="0.60"/>
<line x1="310.10" y1="161.10" x2="402.80" y2="161.10" stroke="#f3f3f3" stroke-width="0.60"/>
<line x1="310.10" y1="166.70" x2="402.80" y2="166.70" stroke="#f3f3f3" stroke-width="0.60"/>
<line x1="310.10" y1="172.30" x2="402.80" y2="172.30" stroke="#f3f3f3" stroke-width="0.60"/>
<line x1="310.10" y1="177.90" x2="402.80" y2="177.90" stroke="#f3f3f3" stroke-width="0.60"/>
<line x1="310.10" y1="183.50" x2="402.80" y2="183.50" stroke="#f3f3f3" stroke-width="0.60"/>
<line x1="310.10" y1="180.00" x2="402.80" y2="180.00" stroke="#d6d6d6" stroke-width="0.70"/>
<line x1="310.10" y1="185.00" x2="402.80" y2="185.00" stroke="#e2e2e2" stroke-width="0.70"/>
<rect x="310" y="186.20" width="1.02" height="13.50" fill="rgb(219,219,219)"/>
<rect x="311" y="186.20" width="1.02" height="13.50" fill="rgb(136,136,136)"/>
<rect x="312" y="186.20" width="1.02" height="13.50" fill="rgb(36,36,36)"/>
<rect x="313" y="186.20" width="1.02" height="13.50" fill="rgb(71,71,71)"/>
<rect x="314" y="186.20" width="1.02" height="13.50" fill="rgb(104,104,104)"/>
<rect x="315" y="186.20" width="1.02" height="13.50" fill="rgb(240,240,240)"/>
<rect x="317" y="186.20" width="1.02" height="13.50" fill="rgb(219,219,219)"/>
<rect x="318" y="186.20" width="1.02" height="13.50" fill="rgb(166,166,166)"/>
<rect x="319" y="186.20" width="1.02" height="13.50" fill="rgb(166,166,166)"/>
<rect x="320" y="186.20" width="1.02" height="13.50" fill="rgb(194,194,194)"/>
<rect x="322" y="186.20" width="1.02" height="13.50" fill="rgb(219,219,219)"/>
<rect x="323" y="186.20" width="1.02" height="13.50" fill="rgb(166,166,166)"/>
<rect x="324" y="186.20" width="1.02" height="13.50" fill="rgb(166,166,166)"/>
<rect x="325" y="186.20" width="1.02" height="13.50" fill="rgb(194,194,194)"/>
<rect x="328" y="186.20" width="1.02" height="13.50" fill="rgb(194,194,194)"/>
<rect x="329" y="186.20" width="1.02" height="13.50" fill="rgb(136,136,136)"/>
<rect x="330" y="186.20" width="1.02" height="13.50" fill="rgb(136,136,136)"/>
<rect x="331" y="186.20" width="1.02" height="13.50" fill="rgb(104,104,104)"/>
<rect x="332" y="186.20" width="1.02" height="13.50" fill="rgb(36,36,36)"/>
<rect x="333" y="186.20" width="1.02" height="13.50" fill="rgb(166,166,166)"/>
<rect x="334" y="186.20" width="1.02" height="13.50" fill="rgb(194,194,194)"/>
<rect x="335" y="186.20" width="1.02" height="13.50" fill="rgb(194,194,194)"/>
<rect x="336" y="186.20" width="1.02" height="13.50" fill="rgb(194,194,194)"/>
<rect x="337" y="186.20" width="1.02" height="13.50" fill="rgb(240,240,240)"/>
<rect x="339" y="186.20" width="1.02" height="13.50" fill="rgb(194,194,194)"/>
<rect x="340" y="186.20" width="1.02" height="13.50" fill="rgb(219,219,219)"/>
<rect x="341" y="186.20" width="1.02" height="13.50" fill="rgb(166,166,166)"/>
<rect x="342" y="186.20" width="1.02" height="13.50" fill="rgb(219,219,219)"/>
<rect x="343" y="186.20" width="1.02" height="13.50" fill="rgb(219,219,219)"/>
<rect x="344" y="186.20" width="1.02" height="13.50" fill="rgb(194,194,194)"/>
<rect x="346" y="186.20" width="1.02" height="13.50" fill="rgb(240,240,240)"/>
<rect x="347" y="186.20" width="1.02" height="13.50" fill="rgb(219,219,219)"/>
<rect x="348" y="186.20" width="1.02" height="13.50" fill="rgb(136,136,136)"/>
<rect x="349" y="186.20" width="1.02" height="13.50" fill="rgb(166,166,166)"/>
<rect x="350" y="186.20" width="1.02" height="13.50" fill="rgb(240,240,240)"/>
<rect x="351" y="186.20" width="1.02" height="13.50" fill="rgb(166,166,166)"/>
<rect x="352" y="186.20" width="1.02" height="13.50" fill="rgb(240,240,240)"/>
<rect x="354" y="186.20" width="1.02" height="13.50" fill="rgb(219,219,219)"/>
<rect x="355" y="186.20" width="1.02" height="13.50" fill="rgb(194,194,194)"/>
<rect x="356" y="186.20" width="1.02" height="13.50" fill="rgb(194,194,194)"/>
<rect x="357" y="186.20" width="1.02" height="13.50" fill="rgb(166,166,166)"/>
<rect x="358" y="186.20" width="1.02" height="13.50" fill="rgb(194,194,194)"/>
<rect x="359" y="186.20" width="1.02" height="13.50" fill="rgb(194,194,194)"/>
<rect x="360" y="186.20" width="1.02" height="13.50" fill="rgb(166,166,166)"/>
<rect x="361" y="186.20" width="1.02" height="13.50" fill="rgb(219,219,219)"/>
<rect x="363" y="186.20" width="1.02" height="13.50" fill="rgb(166,166,166)"/>
<rect x="365" y="186.20" width="1.02" height="13.50" fill="rgb(219,219,219)"/>
<rect x="366" y="186.20" width="1.02" height="13.50" fill="rgb(219,219,219)"/>
<rect x="367" y="186.20" width="1.02" height="13.50" fill="rgb(194,194,194)"/>
<rect x="368" y="186.20" width="1.02" height="13.50" fill="rgb(219,219,219)"/>
<rect x="369" y="186.20" width="1.02" height="13.50" fill="rgb(219,219,219)"/>
<rect x="370" y="186.20" width="1.02" height="13.50" fill="rgb(219,219,219)"/>
<rect x="371" y="186.20" width="1.02" height="13.50" fill="rgb(136,136,136)"/>
<rect x="372" y="186.20" width="1.02" height="13.50" fill="rgb(240,240,240)"/>
<rect x="373" y="186.20" width="1.02" height="13.50" fill="rgb(166,166,166)"/>
<rect x="377" y="186.20" width="1.02" height="13.50" fill="rgb(166,166,166)"/>
<rect x="381" y="186.20" width="1.02" height="13.50" fill="rgb(166,166,166)"/>
<rect x="382" y="186.20" width="1.02" height="13.50" fill="rgb(104,104,104)"/>
<rect x="383" y="186.20" width="1.02" height="13.50" fill="rgb(194,194,194)"/>
<rect x="384" y="186.20" width="1.02" height="13.50" fill="rgb(219,219,219)"/>
<rect x="385" y="186.20" width="1.02" height="13.50" fill="rgb(194,194,194)"/>
<rect x="386" y="186.20" width="1.02" height="13.50" fill="rgb(136,136,136)"/>
<rect x="387" y="186.20" width="1.02" height="13.50" fill="rgb(240,240,240)"/>
<rect x="388" y="186.20" width="1.02" height="13.50" fill="rgb(219,219,219)"/>
<rect x="389" y="186.20" width="1.02" height="13.50" fill="rgb(194,194,194)"/>
<rect x="390" y="186.20" width="1.02" height="13.50" fill="rgb(194,194,194)"/>
<rect x="391" y="186.20" width="1.02" height="13.50" fill="rgb(219,219,219)"/>
<rect x="392" y="186.20" width="1.02" height="13.50" fill="rgb(166,166,166)"/>
<rect x="393" y="186.20" width="1.02" height="13.50" fill="rgb(240,240,240)"/>
<rect x="394" y="186.20" width="1.02" height="13.50" fill="rgb(194,194,194)"/>
<rect x="395" y="186.20" width="1.02" height="13.50" fill="rgb(219,219,219)"/>
<rect x="396" y="186.20" width="1.02" height="13.50" fill="rgb(240,240,240)"/>
<rect x="397" y="186.20" width="1.02" height="13.50" fill="rgb(136,136,136)"/>
<rect x="310.10" y="199.70" width="12.03" height="3.20" fill="#ee3c46"/>
<rect x="322.10" y="199.70" width="17.93" height="3.20" fill="#f05262"/>
<rect x="340.00" y="199.70" width="12.47" height="3.20" fill="#f4a8dc"/>
<rect x="352.44" y="199.70" width="11.05" height="3.20" fill="#cacaf8"/>
<rect x="363.46" y="199.70" width="9.11" height="3.20" fill="#b2b2f4"/>
<rect x="372.55" y="199.70" width="8.41" height="3.20" fill="#7272f0"/>
<rect x="380.92" y="199.70" width="14.05" height="3.20" fill="#4444e2"/>
<rect x="394.95" y="199.70" width="3.38" height="3.20" fill="#0000c4"/>
<polyline points="310.50,180.30 311.20,177.10 312.50,166.90 313.50,156.10 315.10,150.20 316.75,149.10 318.50,147.50 320.50,146.20 323.20,147.50 325.90,147.50 328.60,149.10 331.80,148.10 335.00,148.60 338.30,150.75 345.80,156.10 358.00,165.30 370.00,174.40 375.40,177.60 380.75,181.40 382.90,180.60 389.40,183.00 391.50,183.50 393.70,181.40 395.80,182.00 398.50,179.20" fill="none" stroke="#2be82b" stroke-width="1.3" stroke-linejoin="round" stroke-linecap="round"/>
<text x="314.40" y="174.60" font-size="7.30" fill="#c83b3b" textLength="27.90" lengthAdjust="spacingAndGlyphs" stroke="#c83b3b" stroke-width="0.30">NES:1.32</text>
<text x="314.30" y="183.30" font-size="7.30" fill="#c83b3b" textLength="55.40" lengthAdjust="spacingAndGlyphs" stroke="#c83b3b" stroke-width="0.30">FDR q-value: 0.03</text>
<text x="339.70" y="128.50" font-size="8.30" fill="#1a1a1a" textLength="33.70" lengthAdjust="spacingAndGlyphs" stroke="#1a1a1a" stroke-width="0.30">Up in LSK</text>
<text x="337.00" y="138.20" font-size="8.30" fill="#1a1a1a" textLength="39.20" lengthAdjust="spacingAndGlyphs" stroke="#1a1a1a" stroke-width="0.30">Kharas et al</text>
<text x="309.90" y="213.70" font-size="8.40" fill="#1a1a1a" textLength="15.20" lengthAdjust="spacingAndGlyphs" stroke="#1a1a1a" stroke-width="0.30">Jak2</text>
<text x="325.30" y="210.17" font-size="5.21" fill="#1a1a1a" textLength="5.80" lengthAdjust="spacingAndGlyphs" stroke="#1a1a1a" stroke-width="0.30">VF</text>
<text x="331.30" y="213.70" font-size="8.40" fill="#1a1a1a" textLength="30.50" lengthAdjust="spacingAndGlyphs" stroke="#1a1a1a" stroke-width="0.30">-Dnmt3a</text>
<text x="367.80" y="213.70" font-size="8.40" fill="#1a1a1a" textLength="14.00" lengthAdjust="spacingAndGlyphs" stroke="#1a1a1a" stroke-width="0.30">Jak2</text>
<text x="382.00" y="210.17" font-size="5.21" fill="#1a1a1a" textLength="6.20" lengthAdjust="spacingAndGlyphs" stroke="#1a1a1a" stroke-width="0.30">VF</text>
<rect x="10.00" y="257.30" width="95.20" height="60.20" fill="#fff" stroke="#dcdcd6" stroke-width="0.7"/>
<line x1="21.31" y1="257.30" x2="21.31" y2="298.20" stroke="#f0f0f0" stroke-width="0.60"/>
<line x1="32.62" y1="257.30" x2="32.62" y2="298.20" stroke="#f0f0f0" stroke-width="0.60"/>
<line x1="43.94" y1="257.30" x2="43.94" y2="298.20" stroke="#f0f0f0" stroke-width="0.60"/>
<line x1="55.25" y1="257.30" x2="55.25" y2="298.20" stroke="#f0f0f0" stroke-width="0.60"/>
<line x1="66.56" y1="257.30" x2="66.56" y2="298.20" stroke="#f0f0f0" stroke-width="0.60"/>
<line x1="77.88" y1="257.30" x2="77.88" y2="298.20" stroke="#f0f0f0" stroke-width="0.60"/>
<line x1="89.19" y1="257.30" x2="89.19" y2="298.20" stroke="#f0f0f0" stroke-width="0.60"/>
<line x1="100.50" y1="257.30" x2="100.50" y2="298.20" stroke="#f0f0f0" stroke-width="0.60"/>
<line x1="10.00" y1="262.90" x2="105.20" y2="262.90" stroke="#f3f3f3" stroke-width="0.60"/>
<line x1="10.00" y1="268.50" x2="105.20" y2="268.50" stroke="#f3f3f3" stroke-width="0.60"/>
<line x1="10.00" y1="274.10" x2="105.20" y2="274.10" stroke="#f3f3f3" stroke-width="0.60"/>
<line x1="10.00" y1="279.70" x2="105.20" y2="279.70" stroke="#f3f3f3" stroke-width="0.60"/>
<line x1="10.00" y1="285.30" x2="105.20" y2="285.30" stroke="#f3f3f3" stroke-width="0.60"/>
<line x1="10.00" y1="290.90" x2="105.20" y2="290.90" stroke="#f3f3f3" stroke-width="0.60"/>
<line x1="10.00" y1="296.50" x2="105.20" y2="296.50" stroke="#f3f3f3" stroke-width="0.60"/>
<line x1="10.00" y1="297.50" x2="105.20" y2="297.50" stroke="#d6d6d6" stroke-width="0.70"/>
<line x1="10.00" y1="298.20" x2="105.20" y2="298.20" stroke="#e2e2e2" stroke-width="0.70"/>
<rect x="10" y="300.00" width="1.02" height="13.50" fill="rgb(0,0,0)"/>
<rect x="11" y="300.00" width="1.02" height="13.50" fill="rgb(0,0,0)"/>
<rect x="12" y="300.00" width="1.02" height="13.50" fill="rgb(0,0,0)"/>
<rect x="13" y="300.00" width="1.02" height="13.50" fill="rgb(0,0,0)"/>
<rect x="14" y="300.00" width="1.02" height="13.50" fill="rgb(36,36,36)"/>
<rect x="15" y="300.00" width="1.02" height="13.50" fill="rgb(136,136,136)"/>
<rect x="16" y="300.00" width="1.02" height="13.50" fill="rgb(136,136,136)"/>
<rect x="17" y="300.00" width="1.02" height="13.50" fill="rgb(136,136,136)"/>
<rect x="18" y="300.00" width="1.02" height="13.50" fill="rgb(136,136,136)"/>
<rect x="19" y="300.00" width="1.02" height="13.50" fill="rgb(166,166,166)"/>
<rect x="20" y="300.00" width="1.02" height="13.50" fill="rgb(136,136,136)"/>
<rect x="21" y="300.00" width="1.02" height="13.50" fill="rgb(36,36,36)"/>
<rect x="22" y="300.00" width="1.02" height="13.50" fill="rgb(194,194,194)"/>
<rect x="23" y="300.00" width="1.02" height="13.50" fill="rgb(71,71,71)"/>
<rect x="24" y="300.00" width="1.02" height="13.50" fill="rgb(136,136,136)"/>
<rect x="25" y="300.00" width="1.02" height="13.50" fill="rgb(240,240,240)"/>
<rect x="26" y="300.00" width="1.02" height="13.50" fill="rgb(194,194,194)"/>
<rect x="27" y="300.00" width="1.02" height="13.50" fill="rgb(136,136,136)"/>
<rect x="28" y="300.00" width="1.02" height="13.50" fill="rgb(240,240,240)"/>
<rect x="29" y="300.00" width="1.02" height="13.50" fill="rgb(166,166,166)"/>
<rect x="30" y="300.00" width="1.02" height="13.50" fill="rgb(240,240,240)"/>
<rect x="32" y="300.00" width="1.02" height="13.50" fill="rgb(194,194,194)"/>
<rect x="33" y="300.00" width="1.02" height="13.50" fill="rgb(166,166,166)"/>
<rect x="34" y="300.00" width="1.02" height="13.50" fill="rgb(219,219,219)"/>
<rect x="35" y="300.00" width="1.02" height="13.50" fill="rgb(194,194,194)"/>
<rect x="36" y="300.00" width="1.02" height="13.50" fill="rgb(219,219,219)"/>
<rect x="37" y="300.00" width="1.02" height="13.50" fill="rgb(240,240,240)"/>
<rect x="38" y="300.00" width="1.02" height="13.50" fill="rgb(194,194,194)"/>
<rect x="39" y="300.00" width="1.02" height="13.50" fill="rgb(136,136,136)"/>
<rect x="40" y="300.00" width="1.02" height="13.50" fill="rgb(71,71,71)"/>
<rect x="41" y="300.00" width="1.02" height="13.50" fill="rgb(194,194,194)"/>
<rect x="43" y="300.00" width="1.02" height="13.50" fill="rgb(219,219,219)"/>
<rect x="44" y="300.00" width="1.02" height="13.50" fill="rgb(166,166,166)"/>
<rect x="45" y="300.00" width="1.02" height="13.50" fill="rgb(219,219,219)"/>
<rect x="46" y="300.00" width="1.02" height="13.50" fill="rgb(166,166,166)"/>
<rect x="47" y="300.00" width="1.02" height="13.50" fill="rgb(166,166,166)"/>
<rect x="48" y="300.00" width="1.02" height="13.50" fill="rgb(240,240,240)"/>
<rect x="50" y="300.00" width="1.02" height="13.50" fill="rgb(194,194,194)"/>
<rect x="51" y="300.00" width="1.02" height="13.50" fill="rgb(166,166,166)"/>
<rect x="52" y="300.00" width="1.02" height="13.50" fill="rgb(166,166,166)"/>
<rect x="53" y="300.00" width="1.02" height="13.50" fill="rgb(194,194,194)"/>
<rect x="54" y="300.00" width="1.02" height="13.50" fill="rgb(240,240,240)"/>
<rect x="56" y="300.00" width="1.02" height="13.50" fill="rgb(194,194,194)"/>
<rect x="57" y="300.00" width="1.02" height="13.50" fill="rgb(219,219,219)"/>
<rect x="58" y="300.00" width="1.02" height="13.50" fill="rgb(219,219,219)"/>
<rect x="59" y="300.00" width="1.02" height="13.50" fill="rgb(219,219,219)"/>
<rect x="60" y="300.00" width="1.02" height="13.50" fill="rgb(166,166,166)"/>
<rect x="61" y="300.00" width="1.02" height="13.50" fill="rgb(136,136,136)"/>
<rect x="62" y="300.00" width="1.02" height="13.50" fill="rgb(219,219,219)"/>
<rect x="63" y="300.00" width="1.02" height="13.50" fill="rgb(166,166,166)"/>
<rect x="64" y="300.00" width="1.02" height="13.50" fill="rgb(194,194,194)"/>
<rect x="65" y="300.00" width="1.02" height="13.50" fill="rgb(219,219,219)"/>
<rect x="69" y="300.00" width="1.02" height="13.50" fill="rgb(219,219,219)"/>
<rect x="70" y="300.00" width="1.02" height="13.50" fill="rgb(240,240,240)"/>
<rect x="71" y="300.00" width="1.02" height="13.50" fill="rgb(194,194,194)"/>
<rect x="72" y="300.00" width="1.02" height="13.50" fill="rgb(166,166,166)"/>
<rect x="73" y="300.00" width="1.02" height="13.50" fill="rgb(166,166,166)"/>
<rect x="74" y="300.00" width="1.02" height="13.50" fill="rgb(240,240,240)"/>
<rect x="75" y="300.00" width="1.02" height="13.50" fill="rgb(166,166,166)"/>
<rect x="78" y="300.00" width="1.02" height="13.50" fill="rgb(240,240,240)"/>
<rect x="79" y="300.00" width="1.02" height="13.50" fill="rgb(219,219,219)"/>
<rect x="80" y="300.00" width="1.02" height="13.50" fill="rgb(194,194,194)"/>
<rect x="81" y="300.00" width="1.02" height="13.50" fill="rgb(166,166,166)"/>
<rect x="82" y="300.00" width="1.02" height="13.50" fill="rgb(219,219,219)"/>
<rect x="83" y="300.00" width="1.02" height="13.50" fill="rgb(104,104,104)"/>
<rect x="84" y="300.00" width="1.02" height="13.50" fill="rgb(240,240,240)"/>
<rect x="86" y="300.00" width="1.02" height="13.50" fill="rgb(219,219,219)"/>
<rect x="87" y="300.00" width="1.02" height="13.50" fill="rgb(194,194,194)"/>
<rect x="88" y="300.00" width="1.02" height="13.50" fill="rgb(240,240,240)"/>
<rect x="90" y="300.00" width="1.02" height="13.50" fill="rgb(219,219,219)"/>
<rect x="91" y="300.00" width="1.02" height="13.50" fill="rgb(71,71,71)"/>
<rect x="92" y="300.00" width="1.02" height="13.50" fill="rgb(136,136,136)"/>
<rect x="93" y="300.00" width="1.02" height="13.50" fill="rgb(219,219,219)"/>
<rect x="95" y="300.00" width="1.02" height="13.50" fill="rgb(194,194,194)"/>
<rect x="96" y="300.00" width="1.02" height="13.50" fill="rgb(166,166,166)"/>
<rect x="97" y="300.00" width="1.02" height="13.50" fill="rgb(166,166,166)"/>
<rect x="98" y="300.00" width="1.02" height="13.50" fill="rgb(194,194,194)"/>
<rect x="99" y="300.00" width="1.02" height="13.50" fill="rgb(219,219,219)"/>
<rect x="10.00" y="313.50" width="12.34" height="3.30" fill="#ee3c46"/>
<rect x="22.31" y="313.50" width="18.40" height="3.30" fill="#f05262"/>
<rect x="40.68" y="313.50" width="12.79" height="3.30" fill="#f4a8dc"/>
<rect x="53.44" y="313.50" width="11.34" height="3.30" fill="#cacaf8"/>
<rect x="64.75" y="313.50" width="9.35" height="3.30" fill="#b2b2f4"/>
<rect x="74.07" y="313.50" width="8.63" height="3.30" fill="#7272f0"/>
<rect x="82.67" y="313.50" width="14.42" height="3.30" fill="#4444e2"/>
<rect x="97.06" y="313.50" width="3.47" height="3.30" fill="#0000c4"/>
<polyline points="10.30,297.00 10.50,288.00 11.50,278.00 13.00,271.00 15.00,265.00 17.00,261.50 19.00,259.60 24.00,259.50 28.00,261.00 38.00,266.00 48.00,271.00 58.00,276.50 70.00,284.00 75.00,287.00 80.00,290.00 85.00,292.50 90.00,295.00 96.00,297.00 101.00,297.30" fill="none" stroke="#2be82b" stroke-width="1.3" stroke-linejoin="round" stroke-linecap="round"/>
<text x="12.00" y="285.80" font-size="7.30" fill="#c83b3b" textLength="28.00" lengthAdjust="spacingAndGlyphs" stroke="#c83b3b" stroke-width="0.30">NES:2.54</text>
<text x="12.00" y="294.80" font-size="7.30" fill="#c83b3b" textLength="51.90" lengthAdjust="spacingAndGlyphs" stroke="#c83b3b" stroke-width="0.30">FDR q-value: 0.0</text>
<text x="11.50" y="242.00" font-size="8.30" fill="#1a1a1a" textLength="92.30" lengthAdjust="spacingAndGlyphs" stroke="#1a1a1a" stroke-width="0.30">Up in Dnmt3a mutant HSC</text>
<text x="33.80" y="252.00" font-size="8.30" fill="#1a1a1a" textLength="42.50" lengthAdjust="spacingAndGlyphs" stroke="#1a1a1a" stroke-width="0.30">Challen et al</text>
<text x="10.20" y="326.70" font-size="8.40" fill="#1a1a1a" textLength="15.20" lengthAdjust="spacingAndGlyphs" stroke="#1a1a1a" stroke-width="0.30">Jak2</text>
<text x="25.60" y="323.17" font-size="5.21" fill="#1a1a1a" textLength="5.80" lengthAdjust="spacingAndGlyphs" stroke="#1a1a1a" stroke-width="0.30">VF</text>
<text x="31.60" y="326.70" font-size="8.40" fill="#1a1a1a" textLength="30.50" lengthAdjust="spacingAndGlyphs" stroke="#1a1a1a" stroke-width="0.30">-Dnmt3a</text>
<text x="68.10" y="326.70" font-size="8.40" fill="#1a1a1a" textLength="14.00" lengthAdjust="spacingAndGlyphs" stroke="#1a1a1a" stroke-width="0.30">Jak2</text>
<text x="82.30" y="323.17" font-size="5.21" fill="#1a1a1a" textLength="6.20" lengthAdjust="spacingAndGlyphs" stroke="#1a1a1a" stroke-width="0.30">VF</text>
<rect x="11.80" y="354.40" width="93.30" height="58.80" fill="#fff" stroke="#dcdcd6" stroke-width="0.7"/>
<line x1="22.90" y1="354.40" x2="22.90" y2="395.50" stroke="#f0f0f0" stroke-width="0.60"/>
<line x1="34.00" y1="354.40" x2="34.00" y2="395.50" stroke="#f0f0f0" stroke-width="0.60"/>
<line x1="45.10" y1="354.40" x2="45.10" y2="395.50" stroke="#f0f0f0" stroke-width="0.60"/>
<line x1="56.20" y1="354.40" x2="56.20" y2="395.50" stroke="#f0f0f0" stroke-width="0.60"/>
<line x1="67.30" y1="354.40" x2="67.30" y2="395.50" stroke="#f0f0f0" stroke-width="0.60"/>
<line x1="78.40" y1="354.40" x2="78.40" y2="395.50" stroke="#f0f0f0" stroke-width="0.60"/>
<line x1="89.50" y1="354.40" x2="89.50" y2="395.50" stroke="#f0f0f0" stroke-width="0.60"/>
<line x1="100.60" y1="354.40" x2="100.60" y2="395.50" stroke="#f0f0f0" stroke-width="0.60"/>
<line x1="11.80" y1="360.00" x2="105.10" y2="360.00" stroke="#f3f3f3" stroke-width="0.60"/>
<line x1="11.80" y1="365.60" x2="105.10" y2="365.60" stroke="#f3f3f3" stroke-width="0.60"/>
<line x1="11.80" y1="371.20" x2="105.10" y2="371.20" stroke="#f3f3f3" stroke-width="0.60"/>
<line x1="11.80" y1="376.80" x2="105.10" y2="376.80" stroke="#f3f3f3" stroke-width="0.60"/>
<line x1="11.80" y1="382.40" x2="105.10" y2="382.40" stroke="#f3f3f3" stroke-width="0.60"/>
<line x1="11.80" y1="388.00" x2="105.10" y2="388.00" stroke="#f3f3f3" stroke-width="0.60"/>
<line x1="11.80" y1="393.60" x2="105.10" y2="393.60" stroke="#f3f3f3" stroke-width="0.60"/>
<line x1="11.80" y1="360.00" x2="105.10" y2="360.00" stroke="#d6d6d6" stroke-width="0.70"/>
<line x1="11.80" y1="395.50" x2="105.10" y2="395.50" stroke="#e2e2e2" stroke-width="0.70"/>
<rect x="13" y="396.80" width="1.02" height="13.20" fill="rgb(240,240,240)"/>
<rect x="14" y="396.80" width="1.02" height="13.20" fill="rgb(219,219,219)"/>
<rect x="15" y="396.80" width="1.02" height="13.20" fill="rgb(166,166,166)"/>
<rect x="16" y="396.80" width="1.02" height="13.20" fill="rgb(194,194,194)"/>
<rect x="17" y="396.80" width="1.02" height="13.20" fill="rgb(240,240,240)"/>
<rect x="18" y="396.80" width="1.02" height="13.20" fill="rgb(219,219,219)"/>
<rect x="19" y="396.80" width="1.02" height="13.20" fill="rgb(194,194,194)"/>
<rect x="20" y="396.80" width="1.02" height="13.20" fill="rgb(136,136,136)"/>
<rect x="21" y="396.80" width="1.02" height="13.20" fill="rgb(219,219,219)"/>
<rect x="22" y="396.80" width="1.02" height="13.20" fill="rgb(166,166,166)"/>
<rect x="23" y="396.80" width="1.02" height="13.20" fill="rgb(166,166,166)"/>
<rect x="24" y="396.80" width="1.02" height="13.20" fill="rgb(240,240,240)"/>
<rect x="26" y="396.80" width="1.02" height="13.20" fill="rgb(240,240,240)"/>
<rect x="27" y="396.80" width="1.02" height="13.20" fill="rgb(219,219,219)"/>
<rect x="28" y="396.80" width="1.02" height="13.20" fill="rgb(240,240,240)"/>
<rect x="29" y="396.80" width="1.02" height="13.20" fill="rgb(194,194,194)"/>
<rect x="33" y="396.80" width="1.02" height="13.20" fill="rgb(219,219,219)"/>
<rect x="34" y="396.80" width="1.02" height="13.20" fill="rgb(136,136,136)"/>
<rect x="35" y="396.80" width="1.02" height="13.20" fill="rgb(219,219,219)"/>
<rect x="37" y="396.80" width="1.02" height="13.20" fill="rgb(240,240,240)"/>
<rect x="38" y="396.80" width="1.02" height="13.20" fill="rgb(219,219,219)"/>
<rect x="39" y="396.80" width="1.02" height="13.20" fill="rgb(219,219,219)"/>
<rect x="40" y="396.80" width="1.02" height="13.20" fill="rgb(194,194,194)"/>
<rect x="41" y="396.80" width="1.02" height="13.20" fill="rgb(136,136,136)"/>
<rect x="42" y="396.80" width="1.02" height="13.20" fill="rgb(194,194,194)"/>
<rect x="43" y="396.80" width="1.02" height="13.20" fill="rgb(240,240,240)"/>
<rect x="45" y="396.80" width="1.02" height="13.20" fill="rgb(240,240,240)"/>
<rect x="46" y="396.80" width="1.02" height="13.20" fill="rgb(219,219,219)"/>
<rect x="47" y="396.80" width="1.02" height="13.20" fill="rgb(219,219,219)"/>
<rect x="48" y="396.80" width="1.02" height="13.20" fill="rgb(136,136,136)"/>
<rect x="49" y="396.80" width="1.02" height="13.20" fill="rgb(240,240,240)"/>
<rect x="50" y="396.80" width="1.02" height="13.20" fill="rgb(136,136,136)"/>
<rect x="51" y="396.80" width="1.02" height="13.20" fill="rgb(240,240,240)"/>
<rect x="52" y="396.80" width="1.02" height="13.20" fill="rgb(219,219,219)"/>
<rect x="53" y="396.80" width="1.02" height="13.20" fill="rgb(104,104,104)"/>
<rect x="54" y="396.80" width="1.02" height="13.20" fill="rgb(166,166,166)"/>
<rect x="55" y="396.80" width="1.02" height="13.20" fill="rgb(240,240,240)"/>
<rect x="57" y="396.80" width="1.02" height="13.20" fill="rgb(240,240,240)"/>
<rect x="58" y="396.80" width="1.02" height="13.20" fill="rgb(240,240,240)"/>
<rect x="59" y="396.80" width="1.02" height="13.20" fill="rgb(219,219,219)"/>
<rect x="60" y="396.80" width="1.02" height="13.20" fill="rgb(136,136,136)"/>
<rect x="61" y="396.80" width="1.02" height="13.20" fill="rgb(104,104,104)"/>
<rect x="62" y="396.80" width="1.02" height="13.20" fill="rgb(136,136,136)"/>
<rect x="63" y="396.80" width="1.02" height="13.20" fill="rgb(219,219,219)"/>
<rect x="64" y="396.80" width="1.02" height="13.20" fill="rgb(104,104,104)"/>
<rect x="65" y="396.80" width="1.02" height="13.20" fill="rgb(219,219,219)"/>
<rect x="67" y="396.80" width="1.02" height="13.20" fill="rgb(194,194,194)"/>
<rect x="68" y="396.80" width="1.02" height="13.20" fill="rgb(104,104,104)"/>
<rect x="69" y="396.80" width="1.02" height="13.20" fill="rgb(194,194,194)"/>
<rect x="70" y="396.80" width="1.02" height="13.20" fill="rgb(219,219,219)"/>
<rect x="71" y="396.80" width="1.02" height="13.20" fill="rgb(104,104,104)"/>
<rect x="72" y="396.80" width="1.02" height="13.20" fill="rgb(219,219,219)"/>
<rect x="74" y="396.80" width="1.02" height="13.20" fill="rgb(166,166,166)"/>
<rect x="75" y="396.80" width="1.02" height="13.20" fill="rgb(166,166,166)"/>
<rect x="76" y="396.80" width="1.02" height="13.20" fill="rgb(166,166,166)"/>
<rect x="77" y="396.80" width="1.02" height="13.20" fill="rgb(194,194,194)"/>
<rect x="78" y="396.80" width="1.02" height="13.20" fill="rgb(166,166,166)"/>
<rect x="79" y="396.80" width="1.02" height="13.20" fill="rgb(104,104,104)"/>
<rect x="80" y="396.80" width="1.02" height="13.20" fill="rgb(166,166,166)"/>
<rect x="81" y="396.80" width="1.02" height="13.20" fill="rgb(136,136,136)"/>
<rect x="82" y="396.80" width="1.02" height="13.20" fill="rgb(194,194,194)"/>
<rect x="83" y="396.80" width="1.02" height="13.20" fill="rgb(194,194,194)"/>
<rect x="84" y="396.80" width="1.02" height="13.20" fill="rgb(136,136,136)"/>
<rect x="85" y="396.80" width="1.02" height="13.20" fill="rgb(36,36,36)"/>
<rect x="86" y="396.80" width="1.02" height="13.20" fill="rgb(166,166,166)"/>
<rect x="87" y="396.80" width="1.02" height="13.20" fill="rgb(166,166,166)"/>
<rect x="88" y="396.80" width="1.02" height="13.20" fill="rgb(104,104,104)"/>
<rect x="89" y="396.80" width="1.02" height="13.20" fill="rgb(104,104,104)"/>
<rect x="90" y="396.80" width="1.02" height="13.20" fill="rgb(104,104,104)"/>
<rect x="91" y="396.80" width="1.02" height="13.20" fill="rgb(166,166,166)"/>
<rect x="92" y="396.80" width="1.02" height="13.20" fill="rgb(71,71,71)"/>
<rect x="93" y="396.80" width="1.02" height="13.20" fill="rgb(36,36,36)"/>
<rect x="94" y="396.80" width="1.02" height="13.20" fill="rgb(136,136,136)"/>
<rect x="95" y="396.80" width="1.02" height="13.20" fill="rgb(36,36,36)"/>
<rect x="96" y="396.80" width="1.02" height="13.20" fill="rgb(71,71,71)"/>
<rect x="97" y="396.80" width="1.02" height="13.20" fill="rgb(104,104,104)"/>
<rect x="98" y="396.80" width="1.02" height="13.20" fill="rgb(104,104,104)"/>
<rect x="99" y="396.80" width="1.02" height="13.20" fill="rgb(104,104,104)"/>
<rect x="100" y="396.80" width="1.02" height="13.20" fill="rgb(136,136,136)"/>
<rect x="11.80" y="410.00" width="12.11" height="3.00" fill="#ee3c46"/>
<rect x="23.88" y="410.00" width="18.06" height="3.00" fill="#f05262"/>
<rect x="41.90" y="410.00" width="12.55" height="3.00" fill="#f4a8dc"/>
<rect x="54.42" y="410.00" width="11.13" height="3.00" fill="#cacaf8"/>
<rect x="65.52" y="410.00" width="9.18" height="3.00" fill="#b2b2f4"/>
<rect x="74.67" y="410.00" width="8.47" height="3.00" fill="#7272f0"/>
<rect x="83.11" y="410.00" width="14.15" height="3.00" fill="#4444e2"/>
<rect x="97.23" y="410.00" width="3.40" height="3.00" fill="#0000c4"/>
<polyline points="12.30,360.20 12.80,356.70 15.50,358.10 18.75,359.10 20.90,358.10 24.10,359.50 29.50,362.90 36.00,367.20 43.50,372.00 47.80,375.30 60.00,382.50 75.00,393.00 80.40,394.10 83.60,393.50 85.75,391.40 88.40,391.90 91.10,388.20 93.80,383.90 96.50,376.90 98.70,370.40 99.90,365.00 100.80,359.70" fill="none" stroke="#2be82b" stroke-width="1.3" stroke-linejoin="round" stroke-linecap="round"/>
<text x="12.90" y="384.30" font-size="7.30" fill="#3d3d96" textLength="29.60" lengthAdjust="spacingAndGlyphs" stroke="#3d3d96" stroke-width="0.30">NES:-2.23</text>
<text x="12.90" y="393.50" font-size="7.30" fill="#3d3d96" textLength="51.60" lengthAdjust="spacingAndGlyphs" stroke="#3d3d96" stroke-width="0.30">FDR q-value: 0.0</text>
<text x="11.80" y="338.80" font-size="8.30" fill="#1a1a1a" textLength="93.20" lengthAdjust="spacingAndGlyphs" stroke="#1a1a1a" stroke-width="0.30">DN in Dnmt3a mutant HSC</text>
<text x="37.00" y="348.80" font-size="8.30" fill="#1a1a1a" textLength="43.00" lengthAdjust="spacingAndGlyphs" stroke="#1a1a1a" stroke-width="0.30">Challen et al</text>
<text x="11.90" y="423.30" font-size="8.40" fill="#1a1a1a" textLength="15.20" lengthAdjust="spacingAndGlyphs" stroke="#1a1a1a" stroke-width="0.30">Jak2</text>
<text x="27.30" y="419.77" font-size="5.21" fill="#1a1a1a" textLength="5.80" lengthAdjust="spacingAndGlyphs" stroke="#1a1a1a" stroke-width="0.30">VF</text>
<text x="33.30" y="423.30" font-size="8.40" fill="#1a1a1a" textLength="30.50" lengthAdjust="spacingAndGlyphs" stroke="#1a1a1a" stroke-width="0.30">-Dnmt3a</text>
<text x="69.80" y="423.30" font-size="8.40" fill="#1a1a1a" textLength="14.00" lengthAdjust="spacingAndGlyphs" stroke="#1a1a1a" stroke-width="0.30">Jak2</text>
<text x="84.00" y="419.77" font-size="5.21" fill="#1a1a1a" textLength="6.20" lengthAdjust="spacingAndGlyphs" stroke="#1a1a1a" stroke-width="0.30">VF</text>
<rect x="127.00" y="258.50" width="99.60" height="58.40" fill="#fff" stroke="#dcdcd6" stroke-width="0.7"/>
<line x1="138.82" y1="258.50" x2="138.82" y2="300.30" stroke="#f0f0f0" stroke-width="0.60"/>
<line x1="150.65" y1="258.50" x2="150.65" y2="300.30" stroke="#f0f0f0" stroke-width="0.60"/>
<line x1="162.47" y1="258.50" x2="162.47" y2="300.30" stroke="#f0f0f0" stroke-width="0.60"/>
<line x1="174.30" y1="258.50" x2="174.30" y2="300.30" stroke="#f0f0f0" stroke-width="0.60"/>
<line x1="186.12" y1="258.50" x2="186.12" y2="300.30" stroke="#f0f0f0" stroke-width="0.60"/>
<line x1="197.95" y1="258.50" x2="197.95" y2="300.30" stroke="#f0f0f0" stroke-width="0.60"/>
<line x1="209.77" y1="258.50" x2="209.77" y2="300.30" stroke="#f0f0f0" stroke-width="0.60"/>
<line x1="221.60" y1="258.50" x2="221.60" y2="300.30" stroke="#f0f0f0" stroke-width="0.60"/>
<line x1="127.00" y1="264.10" x2="226.60" y2="264.10" stroke="#f3f3f3" stroke-width="0.60"/>
<line x1="127.00" y1="269.70" x2="226.60" y2="269.70" stroke="#f3f3f3" stroke-width="0.60"/>
<line x1="127.00" y1="275.30" x2="226.60" y2="275.30" stroke="#f3f3f3" stroke-width="0.60"/>
<line x1="127.00" y1="280.90" x2="226.60" y2="280.90" stroke="#f3f3f3" stroke-width="0.60"/>
<line x1="127.00" y1="286.50" x2="226.60" y2="286.50" stroke="#f3f3f3" stroke-width="0.60"/>
<line x1="127.00" y1="292.10" x2="226.60" y2="292.10" stroke="#f3f3f3" stroke-width="0.60"/>
<line x1="127.00" y1="297.70" x2="226.60" y2="297.70" stroke="#f3f3f3" stroke-width="0.60"/>
<line x1="127.00" y1="294.40" x2="226.60" y2="294.40" stroke="#d6d6d6" stroke-width="0.70"/>
<line x1="127.00" y1="300.30" x2="226.60" y2="300.30" stroke="#e2e2e2" stroke-width="0.70"/>
<rect x="127" y="301.10" width="1.02" height="13.10" fill="rgb(36,36,36)"/>
<rect x="128" y="301.10" width="1.02" height="13.10" fill="rgb(71,71,71)"/>
<rect x="129" y="301.10" width="1.02" height="13.10" fill="rgb(136,136,136)"/>
<rect x="130" y="301.10" width="1.02" height="13.10" fill="rgb(240,240,240)"/>
<rect x="131" y="301.10" width="1.02" height="13.10" fill="rgb(194,194,194)"/>
<rect x="133" y="301.10" width="1.02" height="13.10" fill="rgb(219,219,219)"/>
<rect x="134" y="301.10" width="1.02" height="13.10" fill="rgb(166,166,166)"/>
<rect x="135" y="301.10" width="1.02" height="13.10" fill="rgb(240,240,240)"/>
<rect x="137" y="301.10" width="1.02" height="13.10" fill="rgb(194,194,194)"/>
<rect x="138" y="301.10" width="1.02" height="13.10" fill="rgb(219,219,219)"/>
<rect x="139" y="301.10" width="1.02" height="13.10" fill="rgb(240,240,240)"/>
<rect x="140" y="301.10" width="1.02" height="13.10" fill="rgb(166,166,166)"/>
<rect x="145" y="301.10" width="1.02" height="13.10" fill="rgb(166,166,166)"/>
<rect x="146" y="301.10" width="1.02" height="13.10" fill="rgb(240,240,240)"/>
<rect x="147" y="301.10" width="1.02" height="13.10" fill="rgb(240,240,240)"/>
<rect x="148" y="301.10" width="1.02" height="13.10" fill="rgb(194,194,194)"/>
<rect x="149" y="301.10" width="1.02" height="13.10" fill="rgb(194,194,194)"/>
<rect x="150" y="301.10" width="1.02" height="13.10" fill="rgb(219,219,219)"/>
<rect x="169" y="301.10" width="1.02" height="13.10" fill="rgb(166,166,166)"/>
<rect x="196" y="301.10" width="1.02" height="13.10" fill="rgb(194,194,194)"/>
<rect x="208" y="301.10" width="1.02" height="13.10" fill="rgb(194,194,194)"/>
<rect x="209" y="301.10" width="1.02" height="13.10" fill="rgb(219,219,219)"/>
<rect x="216" y="301.10" width="1.02" height="13.10" fill="rgb(166,166,166)"/>
<rect x="217" y="301.10" width="1.02" height="13.10" fill="rgb(104,104,104)"/>
<rect x="218" y="301.10" width="1.02" height="13.10" fill="rgb(194,194,194)"/>
<rect x="219" y="301.10" width="1.02" height="13.10" fill="rgb(136,136,136)"/>
<rect x="220" y="301.10" width="1.02" height="13.10" fill="rgb(219,219,219)"/>
<rect x="221" y="301.10" width="1.02" height="13.10" fill="rgb(240,240,240)"/>
<rect x="127.00" y="314.20" width="12.90" height="2.70" fill="#ee3c46"/>
<rect x="139.87" y="314.20" width="19.23" height="2.70" fill="#f05262"/>
<rect x="159.07" y="314.20" width="13.37" height="2.70" fill="#f4a8dc"/>
<rect x="172.41" y="314.20" width="11.85" height="2.70" fill="#cacaf8"/>
<rect x="184.23" y="314.20" width="9.77" height="2.70" fill="#b2b2f4"/>
<rect x="193.98" y="314.20" width="9.02" height="2.70" fill="#7272f0"/>
<rect x="202.96" y="314.20" width="15.07" height="2.70" fill="#4444e2"/>
<rect x="218.01" y="314.20" width="3.62" height="2.70" fill="#0000c4"/>
<polyline points="127.20,294.90 127.40,270.10 128.30,265.80 129.90,261.00 131.50,260.50 134.75,261.00 140.10,262.40 150.90,267.40 163.80,273.90 180.00,281.20 200.00,290.10 203.70,292.00 209.20,294.40 216.50,298.30 221.60,294.30" fill="none" stroke="#2be82b" stroke-width="1.3" stroke-linejoin="round" stroke-linecap="round"/>
<text x="129.70" y="285.70" font-size="7.30" fill="#c83b3b" textLength="28.40" lengthAdjust="spacingAndGlyphs" stroke="#c83b3b" stroke-width="0.30">NES:2.29</text>
<text x="129.70" y="295.10" font-size="7.30" fill="#c83b3b" textLength="52.80" lengthAdjust="spacingAndGlyphs" stroke="#c83b3b" stroke-width="0.30">FDR q-value: 0.0</text>
<text x="133.00" y="242.00" font-size="8.30" fill="#1a1a1a" textLength="87.50" lengthAdjust="spacingAndGlyphs" stroke="#1a1a1a" stroke-width="0.30">Up in Dnmt3a R878H LSK</text>
<text x="149.30" y="252.00" font-size="8.30" fill="#1a1a1a" textLength="55.00" lengthAdjust="spacingAndGlyphs" stroke="#1a1a1a" stroke-width="0.30">Guryanova et al</text>
<text x="127.10" y="326.60" font-size="8.40" fill="#1a1a1a" textLength="15.20" lengthAdjust="spacingAndGlyphs" stroke="#1a1a1a" stroke-width="0.30">Jak2</text>
<text x="142.50" y="323.07" font-size="5.21" fill="#1a1a1a" textLength="5.80" lengthAdjust="spacingAndGlyphs" stroke="#1a1a1a" stroke-width="0.30">VF</text>
<text x="148.50" y="326.60" font-size="8.40" fill="#1a1a1a" textLength="30.50" lengthAdjust="spacingAndGlyphs" stroke="#1a1a1a" stroke-width="0.30">-Dnmt3a</text>
<text x="185.00" y="326.60" font-size="8.40" fill="#1a1a1a" textLength="14.00" lengthAdjust="spacingAndGlyphs" stroke="#1a1a1a" stroke-width="0.30">Jak2</text>
<text x="199.20" y="323.07" font-size="5.21" fill="#1a1a1a" textLength="6.20" lengthAdjust="spacingAndGlyphs" stroke="#1a1a1a" stroke-width="0.30">VF</text>
<rect x="127.80" y="355.40" width="97.60" height="58.00" fill="#fff" stroke="#dcdcd6" stroke-width="0.7"/>
<line x1="139.40" y1="355.40" x2="139.40" y2="395.50" stroke="#f0f0f0" stroke-width="0.60"/>
<line x1="151.00" y1="355.40" x2="151.00" y2="395.50" stroke="#f0f0f0" stroke-width="0.60"/>
<line x1="162.60" y1="355.40" x2="162.60" y2="395.50" stroke="#f0f0f0" stroke-width="0.60"/>
<line x1="174.20" y1="355.40" x2="174.20" y2="395.50" stroke="#f0f0f0" stroke-width="0.60"/>
<line x1="185.80" y1="355.40" x2="185.80" y2="395.50" stroke="#f0f0f0" stroke-width="0.60"/>
<line x1="197.40" y1="355.40" x2="197.40" y2="395.50" stroke="#f0f0f0" stroke-width="0.60"/>
<line x1="209.00" y1="355.40" x2="209.00" y2="395.50" stroke="#f0f0f0" stroke-width="0.60"/>
<line x1="220.60" y1="355.40" x2="220.60" y2="395.50" stroke="#f0f0f0" stroke-width="0.60"/>
<line x1="127.80" y1="361.00" x2="225.40" y2="361.00" stroke="#f3f3f3" stroke-width="0.60"/>
<line x1="127.80" y1="366.60" x2="225.40" y2="366.60" stroke="#f3f3f3" stroke-width="0.60"/>
<line x1="127.80" y1="372.20" x2="225.40" y2="372.20" stroke="#f3f3f3" stroke-width="0.60"/>
<line x1="127.80" y1="377.80" x2="225.40" y2="377.80" stroke="#f3f3f3" stroke-width="0.60"/>
<line x1="127.80" y1="383.40" x2="225.40" y2="383.40" stroke="#f3f3f3" stroke-width="0.60"/>
<line x1="127.80" y1="389.00" x2="225.40" y2="389.00" stroke="#f3f3f3" stroke-width="0.60"/>
<line x1="127.80" y1="363.50" x2="225.40" y2="363.50" stroke="#d6d6d6" stroke-width="0.70"/>
<line x1="127.80" y1="395.50" x2="225.40" y2="395.50" stroke="#e2e2e2" stroke-width="0.70"/>
<rect x="131" y="396.80" width="1.02" height="13.60" fill="rgb(194,194,194)"/>
<rect x="132" y="396.80" width="1.02" height="13.60" fill="rgb(104,104,104)"/>
<rect x="133" y="396.80" width="1.02" height="13.60" fill="rgb(240,240,240)"/>
<rect x="134" y="396.80" width="1.02" height="13.60" fill="rgb(166,166,166)"/>
<rect x="135" y="396.80" width="1.02" height="13.60" fill="rgb(166,166,166)"/>
<rect x="154" y="396.80" width="1.02" height="13.60" fill="rgb(219,219,219)"/>
<rect x="155" y="396.80" width="1.02" height="13.60" fill="rgb(240,240,240)"/>
<rect x="160" y="396.80" width="1.02" height="13.60" fill="rgb(240,240,240)"/>
<rect x="161" y="396.80" width="1.02" height="13.60" fill="rgb(194,194,194)"/>
<rect x="181" y="396.80" width="1.02" height="13.60" fill="rgb(219,219,219)"/>
<rect x="182" y="396.80" width="1.02" height="13.60" fill="rgb(194,194,194)"/>
<rect x="196" y="396.80" width="1.02" height="13.60" fill="rgb(166,166,166)"/>
<rect x="197" y="396.80" width="1.02" height="13.60" fill="rgb(136,136,136)"/>
<rect x="203" y="396.80" width="1.02" height="13.60" fill="rgb(166,166,166)"/>
<rect x="204" y="396.80" width="1.02" height="13.60" fill="rgb(240,240,240)"/>
<rect x="205" y="396.80" width="1.02" height="13.60" fill="rgb(166,166,166)"/>
<rect x="206" y="396.80" width="1.02" height="13.60" fill="rgb(219,219,219)"/>
<rect x="212" y="396.80" width="1.02" height="13.60" fill="rgb(219,219,219)"/>
<rect x="213" y="396.80" width="1.02" height="13.60" fill="rgb(240,240,240)"/>
<rect x="215" y="396.80" width="1.02" height="13.60" fill="rgb(240,240,240)"/>
<rect x="216" y="396.80" width="1.02" height="13.60" fill="rgb(194,194,194)"/>
<rect x="217" y="396.80" width="1.02" height="13.60" fill="rgb(194,194,194)"/>
<rect x="218" y="396.80" width="1.02" height="13.60" fill="rgb(166,166,166)"/>
<rect x="219" y="396.80" width="1.02" height="13.60" fill="rgb(136,136,136)"/>
<rect x="220" y="396.80" width="1.02" height="13.60" fill="rgb(166,166,166)"/>
<rect x="127.80" y="410.40" width="12.65" height="2.80" fill="#ee3c46"/>
<rect x="140.42" y="410.40" width="18.87" height="2.80" fill="#f05262"/>
<rect x="159.26" y="410.40" width="13.11" height="2.80" fill="#f4a8dc"/>
<rect x="172.34" y="410.40" width="11.63" height="2.80" fill="#cacaf8"/>
<rect x="183.94" y="410.40" width="9.59" height="2.80" fill="#b2b2f4"/>
<rect x="193.50" y="410.40" width="8.85" height="2.80" fill="#7272f0"/>
<rect x="202.32" y="410.40" width="14.79" height="2.80" fill="#4444e2"/>
<rect x="217.07" y="410.40" width="3.56" height="2.80" fill="#0000c4"/>
<polyline points="128.10,363.80 129.90,365.00 131.70,366.30 132.60,361.30 133.70,360.50 135.80,357.50 145.50,363.40 155.20,368.80 163.80,373.10 180.00,382.40 195.00,390.90 197.70,390.30 200.40,391.90 203.10,393.50 205.75,390.90 209.00,393.00 212.20,394.40 214.40,393.00 216.50,393.50 218.90,390.30 219.70,383.30 220.30,378.00 220.60,363.40" fill="none" stroke="#2be82b" stroke-width="1.3" stroke-linejoin="round" stroke-linecap="round"/>
<text x="131.40" y="383.70" font-size="7.30" fill="#3d3d96" textLength="30.60" lengthAdjust="spacingAndGlyphs" stroke="#3d3d96" stroke-width="0.30">NES:-1.67</text>
<text x="131.40" y="393.30" font-size="7.30" fill="#3d3d96" textLength="55.60" lengthAdjust="spacingAndGlyphs" stroke="#3d3d96" stroke-width="0.30">FDR q-value: 0.02</text>
<text x="132.50" y="339.50" font-size="8.30" fill="#1a1a1a" textLength="88.30" lengthAdjust="spacingAndGlyphs" stroke="#1a1a1a" stroke-width="0.30">DN in Dnmt3a R878H LSK</text>
<text x="149.30" y="350.00" font-size="8.30" fill="#1a1a1a" textLength="55.00" lengthAdjust="spacingAndGlyphs" stroke="#1a1a1a" stroke-width="0.30">Guryanova et al</text>
<text x="128.10" y="423.30" font-size="8.40" fill="#1a1a1a" textLength="15.20" lengthAdjust="spacingAndGlyphs" stroke="#1a1a1a" stroke-width="0.30">Jak2</text>
<text x="143.50" y="419.77" font-size="5.21" fill="#1a1a1a" textLength="5.80" lengthAdjust="spacingAndGlyphs" stroke="#1a1a1a" stroke-width="0.30">VF</text>
<text x="149.50" y="423.30" font-size="8.40" fill="#1a1a1a" textLength="30.50" lengthAdjust="spacingAndGlyphs" stroke="#1a1a1a" stroke-width="0.30">-Dnmt3a</text>
<text x="186.00" y="423.30" font-size="8.40" fill="#1a1a1a" textLength="14.00" lengthAdjust="spacingAndGlyphs" stroke="#1a1a1a" stroke-width="0.30">Jak2</text>
<text x="200.20" y="419.77" font-size="5.21" fill="#1a1a1a" textLength="6.20" lengthAdjust="spacingAndGlyphs" stroke="#1a1a1a" stroke-width="0.30">VF</text>
<rect x="244.30" y="257.30" width="94.50" height="59.40" fill="#fff" stroke="#dcdcd6" stroke-width="0.7"/>
<line x1="255.54" y1="257.30" x2="255.54" y2="298.80" stroke="#f0f0f0" stroke-width="0.60"/>
<line x1="266.78" y1="257.30" x2="266.78" y2="298.80" stroke="#f0f0f0" stroke-width="0.60"/>
<line x1="278.01" y1="257.30" x2="278.01" y2="298.80" stroke="#f0f0f0" stroke-width="0.60"/>
<line x1="289.25" y1="257.30" x2="289.25" y2="298.80" stroke="#f0f0f0" stroke-width="0.60"/>
<line x1="300.49" y1="257.30" x2="300.49" y2="298.80" stroke="#f0f0f0" stroke-width="0.60"/>
<line x1="311.73" y1="257.30" x2="311.73" y2="298.80" stroke="#f0f0f0" stroke-width="0.60"/>
<line x1="322.96" y1="257.30" x2="322.96" y2="298.80" stroke="#f0f0f0" stroke-width="0.60"/>
<line x1="334.20" y1="257.30" x2="334.20" y2="298.80" stroke="#f0f0f0" stroke-width="0.60"/>
<line x1="244.30" y1="262.90" x2="338.80" y2="262.90" stroke="#f3f3f3" stroke-width="0.60"/>
<line x1="244.30" y1="268.50" x2="338.80" y2="268.50" stroke="#f3f3f3" stroke-width="0.60"/>
<line x1="244.30" y1="274.10" x2="338.80" y2="274.10" stroke="#f3f3f3" stroke-width="0.60"/>
<line x1="244.30" y1="279.70" x2="338.80" y2="279.70" stroke="#f3f3f3" stroke-width="0.60"/>
<line x1="244.30" y1="285.30" x2="338.80" y2="285.30" stroke="#f3f3f3" stroke-width="0.60"/>
<line x1="244.30" y1="290.90" x2="338.80" y2="290.90" stroke="#f3f3f3" stroke-width="0.60"/>
<line x1="244.30" y1="296.50" x2="338.80" y2="296.50" stroke="#f3f3f3" stroke-width="0.60"/>
<line x1="244.30" y1="295.50" x2="338.80" y2="295.50" stroke="#d6d6d6" stroke-width="0.70"/>
<line x1="244.30" y1="298.80" x2="338.80" y2="298.80" stroke="#e2e2e2" stroke-width="0.70"/>
<rect x="244" y="299.80" width="1.02" height="13.50" fill="rgb(0,0,0)"/>
<rect x="245" y="299.80" width="1.02" height="13.50" fill="rgb(0,0,0)"/>
<rect x="246" y="299.80" width="1.02" height="13.50" fill="rgb(0,0,0)"/>
<rect x="247" y="299.80" width="1.02" height="13.50" fill="rgb(0,0,0)"/>
<rect x="248" y="299.80" width="1.02" height="13.50" fill="rgb(0,0,0)"/>
<rect x="249" y="299.80" width="1.02" height="13.50" fill="rgb(0,0,0)"/>
<rect x="250" y="299.80" width="1.02" height="13.50" fill="rgb(0,0,0)"/>
<rect x="251" y="299.80" width="1.02" height="13.50" fill="rgb(0,0,0)"/>
<rect x="252" y="299.80" width="1.02" height="13.50" fill="rgb(0,0,0)"/>
<rect x="253" y="299.80" width="1.02" height="13.50" fill="rgb(0,0,0)"/>
<rect x="254" y="299.80" width="1.02" height="13.50" fill="rgb(0,0,0)"/>
<rect x="255" y="299.80" width="1.02" height="13.50" fill="rgb(0,0,0)"/>
<rect x="256" y="299.80" width="1.02" height="13.50" fill="rgb(0,0,0)"/>
<rect x="257" y="299.80" width="1.02" height="13.50" fill="rgb(0,0,0)"/>
<rect x="258" y="299.80" width="1.02" height="13.50" fill="rgb(36,36,36)"/>
<rect x="259" y="299.80" width="1.02" height="13.50" fill="rgb(0,0,0)"/>
<rect x="260" y="299.80" width="1.02" height="13.50" fill="rgb(36,36,36)"/>
<rect x="261" y="299.80" width="1.02" height="13.50" fill="rgb(166,166,166)"/>
<rect x="262" y="299.80" width="1.02" height="13.50" fill="rgb(71,71,71)"/>
<rect x="263" y="299.80" width="1.02" height="13.50" fill="rgb(36,36,36)"/>
<rect x="264" y="299.80" width="1.02" height="13.50" fill="rgb(104,104,104)"/>
<rect x="265" y="299.80" width="1.02" height="13.50" fill="rgb(194,194,194)"/>
<rect x="266" y="299.80" width="1.02" height="13.50" fill="rgb(36,36,36)"/>
<rect x="267" y="299.80" width="1.02" height="13.50" fill="rgb(36,36,36)"/>
<rect x="268" y="299.80" width="1.02" height="13.50" fill="rgb(71,71,71)"/>
<rect x="269" y="299.80" width="1.02" height="13.50" fill="rgb(36,36,36)"/>
<rect x="270" y="299.80" width="1.02" height="13.50" fill="rgb(194,194,194)"/>
<rect x="271" y="299.80" width="1.02" height="13.50" fill="rgb(36,36,36)"/>
<rect x="272" y="299.80" width="1.02" height="13.50" fill="rgb(0,0,0)"/>
<rect x="273" y="299.80" width="1.02" height="13.50" fill="rgb(166,166,166)"/>
<rect x="274" y="299.80" width="1.02" height="13.50" fill="rgb(36,36,36)"/>
<rect x="275" y="299.80" width="1.02" height="13.50" fill="rgb(71,71,71)"/>
<rect x="276" y="299.80" width="1.02" height="13.50" fill="rgb(36,36,36)"/>
<rect x="277" y="299.80" width="1.02" height="13.50" fill="rgb(71,71,71)"/>
<rect x="278" y="299.80" width="1.02" height="13.50" fill="rgb(194,194,194)"/>
<rect x="279" y="299.80" width="1.02" height="13.50" fill="rgb(71,71,71)"/>
<rect x="280" y="299.80" width="1.02" height="13.50" fill="rgb(36,36,36)"/>
<rect x="281" y="299.80" width="1.02" height="13.50" fill="rgb(71,71,71)"/>
<rect x="282" y="299.80" width="1.02" height="13.50" fill="rgb(194,194,194)"/>
<rect x="283" y="299.80" width="1.02" height="13.50" fill="rgb(36,36,36)"/>
<rect x="284" y="299.80" width="1.02" height="13.50" fill="rgb(36,36,36)"/>
<rect x="285" y="299.80" width="1.02" height="13.50" fill="rgb(71,71,71)"/>
<rect x="286" y="299.80" width="1.02" height="13.50" fill="rgb(166,166,166)"/>
<rect x="287" y="299.80" width="1.02" height="13.50" fill="rgb(36,36,36)"/>
<rect x="288" y="299.80" width="1.02" height="13.50" fill="rgb(194,194,194)"/>
<rect x="289" y="299.80" width="1.02" height="13.50" fill="rgb(219,219,219)"/>
<rect x="290" y="299.80" width="1.02" height="13.50" fill="rgb(104,104,104)"/>
<rect x="291" y="299.80" width="1.02" height="13.50" fill="rgb(136,136,136)"/>
<rect x="292" y="299.80" width="1.02" height="13.50" fill="rgb(36,36,36)"/>
<rect x="293" y="299.80" width="1.02" height="13.50" fill="rgb(0,0,0)"/>
<rect x="294" y="299.80" width="1.02" height="13.50" fill="rgb(36,36,36)"/>
<rect x="295" y="299.80" width="1.02" height="13.50" fill="rgb(194,194,194)"/>
<rect x="296" y="299.80" width="1.02" height="13.50" fill="rgb(219,219,219)"/>
<rect x="297" y="299.80" width="1.02" height="13.50" fill="rgb(0,0,0)"/>
<rect x="298" y="299.80" width="1.02" height="13.50" fill="rgb(104,104,104)"/>
<rect x="299" y="299.80" width="1.02" height="13.50" fill="rgb(104,104,104)"/>
<rect x="300" y="299.80" width="1.02" height="13.50" fill="rgb(104,104,104)"/>
<rect x="301" y="299.80" width="1.02" height="13.50" fill="rgb(194,194,194)"/>
<rect x="302" y="299.80" width="1.02" height="13.50" fill="rgb(166,166,166)"/>
<rect x="303" y="299.80" width="1.02" height="13.50" fill="rgb(0,0,0)"/>
<rect x="304" y="299.80" width="1.02" height="13.50" fill="rgb(136,136,136)"/>
<rect x="305" y="299.80" width="1.02" height="13.50" fill="rgb(36,36,36)"/>
<rect x="306" y="299.80" width="1.02" height="13.50" fill="rgb(104,104,104)"/>
<rect x="307" y="299.80" width="1.02" height="13.50" fill="rgb(104,104,104)"/>
<rect x="308" y="299.80" width="1.02" height="13.50" fill="rgb(166,166,166)"/>
<rect x="309" y="299.80" width="1.02" height="13.50" fill="rgb(194,194,194)"/>
<rect x="310" y="299.80" width="1.02" height="13.50" fill="rgb(36,36,36)"/>
<rect x="311" y="299.80" width="1.02" height="13.50" fill="rgb(36,36,36)"/>
<rect x="312" y="299.80" width="1.02" height="13.50" fill="rgb(71,71,71)"/>
<rect x="313" y="299.80" width="1.02" height="13.50" fill="rgb(104,104,104)"/>
<rect x="314" y="299.80" width="1.02" height="13.50" fill="rgb(136,136,136)"/>
<rect x="315" y="299.80" width="1.02" height="13.50" fill="rgb(194,194,194)"/>
<rect x="316" y="299.80" width="1.02" height="13.50" fill="rgb(36,36,36)"/>
<rect x="317" y="299.80" width="1.02" height="13.50" fill="rgb(0,0,0)"/>
<rect x="318" y="299.80" width="1.02" height="13.50" fill="rgb(136,136,136)"/>
<rect x="319" y="299.80" width="1.02" height="13.50" fill="rgb(36,36,36)"/>
<rect x="320" y="299.80" width="1.02" height="13.50" fill="rgb(0,0,0)"/>
<rect x="321" y="299.80" width="1.02" height="13.50" fill="rgb(0,0,0)"/>
<rect x="322" y="299.80" width="1.02" height="13.50" fill="rgb(0,0,0)"/>
<rect x="323" y="299.80" width="1.02" height="13.50" fill="rgb(36,36,36)"/>
<rect x="324" y="299.80" width="1.02" height="13.50" fill="rgb(71,71,71)"/>
<rect x="325" y="299.80" width="1.02" height="13.50" fill="rgb(104,104,104)"/>
<rect x="326" y="299.80" width="1.02" height="13.50" fill="rgb(136,136,136)"/>
<rect x="327" y="299.80" width="1.02" height="13.50" fill="rgb(166,166,166)"/>
<rect x="328" y="299.80" width="1.02" height="13.50" fill="rgb(136,136,136)"/>
<rect x="329" y="299.80" width="1.02" height="13.50" fill="rgb(104,104,104)"/>
<rect x="330" y="299.80" width="1.02" height="13.50" fill="rgb(71,71,71)"/>
<rect x="331" y="299.80" width="1.02" height="13.50" fill="rgb(36,36,36)"/>
<rect x="332" y="299.80" width="1.02" height="13.50" fill="rgb(0,0,0)"/>
<rect x="333" y="299.80" width="1.02" height="13.50" fill="rgb(36,36,36)"/>
<rect x="244.30" y="313.30" width="12.26" height="3.20" fill="#ee3c46"/>
<rect x="256.53" y="313.30" width="18.28" height="3.20" fill="#f05262"/>
<rect x="274.78" y="313.30" width="12.71" height="3.20" fill="#f4a8dc"/>
<rect x="287.45" y="313.30" width="11.27" height="3.20" fill="#cacaf8"/>
<rect x="298.69" y="313.30" width="9.29" height="3.20" fill="#b2b2f4"/>
<rect x="307.95" y="313.30" width="8.57" height="3.20" fill="#7272f0"/>
<rect x="316.49" y="313.30" width="14.32" height="3.20" fill="#4444e2"/>
<rect x="330.78" y="313.30" width="3.45" height="3.20" fill="#0000c4"/>
<defs><linearGradient id="dkF1" x1="0" x2="1"><stop offset="0" stop-color="#000" stop-opacity="0.5"/><stop offset="0.2" stop-color="#000" stop-opacity="0.3"/><stop offset="0.4" stop-color="#000" stop-opacity="0.15"/><stop offset="1" stop-color="#000" stop-opacity="0.1"/></linearGradient></defs>
<rect x="244.30" y="313.30" width="89.90" height="3.20" fill="url(#dkF1)"/>
<polyline points="244.30,295.00 244.60,283.20 245.40,275.70 247.00,269.20 249.10,263.80 252.40,260.60 256.70,259.50 261.50,260.60 268.00,263.30 275.50,267.60 283.00,272.40 289.50,275.90 300.00,282.00 310.00,288.00 315.40,291.20 320.75,293.90 326.10,296.10 330.40,297.70 334.70,295.50" fill="none" stroke="#2be82b" stroke-width="1.3" stroke-linejoin="round" stroke-linecap="round"/>
<text x="246.20" y="285.80" font-size="7.30" fill="#c83b3b" textLength="28.60" lengthAdjust="spacingAndGlyphs" stroke="#c83b3b" stroke-width="0.30">NES:2.45</text>
<text x="246.20" y="295.20" font-size="7.30" fill="#c83b3b" textLength="51.80" lengthAdjust="spacingAndGlyphs" stroke="#c83b3b" stroke-width="0.30">FDR q-value: 0.0</text>
<text x="253.80" y="242.00" font-size="8.30" fill="#1a1a1a" textLength="76.20" lengthAdjust="spacingAndGlyphs" stroke="#1a1a1a" stroke-width="0.30">Up in DNMT3A R882H</text>
<text x="255.00" y="252.00" font-size="8.30" fill="#1a1a1a" textLength="71.00" lengthAdjust="spacingAndGlyphs" stroke="#1a1a1a" stroke-width="0.30">vs WT LSK Koya et al</text>
<text x="244.00" y="326.60" font-size="8.40" fill="#1a1a1a" textLength="15.20" lengthAdjust="spacingAndGlyphs" stroke="#1a1a1a" stroke-width="0.30">Jak2</text>
<text x="259.40" y="323.07" font-size="5.21" fill="#1a1a1a" textLength="5.80" lengthAdjust="spacingAndGlyphs" stroke="#1a1a1a" stroke-width="0.30">VF</text>
<text x="265.40" y="326.60" font-size="8.40" fill="#1a1a1a" textLength="30.50" lengthAdjust="spacingAndGlyphs" stroke="#1a1a1a" stroke-width="0.30">-Dnmt3a</text>
<text x="301.90" y="326.60" font-size="8.40" fill="#1a1a1a" textLength="14.00" lengthAdjust="spacingAndGlyphs" stroke="#1a1a1a" stroke-width="0.30">Jak2</text>
<text x="316.10" y="323.07" font-size="5.21" fill="#1a1a1a" textLength="6.20" lengthAdjust="spacingAndGlyphs" stroke="#1a1a1a" stroke-width="0.30">VF</text>
<rect x="244.80" y="355.50" width="99.60" height="58.20" fill="#fff" stroke="#dcdcd6" stroke-width="0.7"/>
<line x1="256.60" y1="355.50" x2="256.60" y2="396.30" stroke="#f0f0f0" stroke-width="0.60"/>
<line x1="268.40" y1="355.50" x2="268.40" y2="396.30" stroke="#f0f0f0" stroke-width="0.60"/>
<line x1="280.20" y1="355.50" x2="280.20" y2="396.30" stroke="#f0f0f0" stroke-width="0.60"/>
<line x1="292.00" y1="355.50" x2="292.00" y2="396.30" stroke="#f0f0f0" stroke-width="0.60"/>
<line x1="303.80" y1="355.50" x2="303.80" y2="396.30" stroke="#f0f0f0" stroke-width="0.60"/>
<line x1="315.60" y1="355.50" x2="315.60" y2="396.30" stroke="#f0f0f0" stroke-width="0.60"/>
<line x1="327.40" y1="355.50" x2="327.40" y2="396.30" stroke="#f0f0f0" stroke-width="0.60"/>
<line x1="339.20" y1="355.50" x2="339.20" y2="396.30" stroke="#f0f0f0" stroke-width="0.60"/>
<line x1="244.80" y1="361.10" x2="344.40" y2="361.10" stroke="#f3f3f3" stroke-width="0.60"/>
<line x1="244.80" y1="366.70" x2="344.40" y2="366.70" stroke="#f3f3f3" stroke-width="0.60"/>
<line x1="244.80" y1="372.30" x2="344.40" y2="372.30" stroke="#f3f3f3" stroke-width="0.60"/>
<line x1="244.80" y1="377.90" x2="344.40" y2="377.90" stroke="#f3f3f3" stroke-width="0.60"/>
<line x1="244.80" y1="383.50" x2="344.40" y2="383.50" stroke="#f3f3f3" stroke-width="0.60"/>
<line x1="244.80" y1="389.10" x2="344.40" y2="389.10" stroke="#f3f3f3" stroke-width="0.60"/>
<line x1="244.80" y1="394.70" x2="344.40" y2="394.70" stroke="#f3f3f3" stroke-width="0.60"/>
<line x1="244.80" y1="391.60" x2="344.40" y2="391.60" stroke="#d6d6d6" stroke-width="0.70"/>
<line x1="244.80" y1="396.30" x2="344.40" y2="396.30" stroke="#e2e2e2" stroke-width="0.70"/>
<rect x="245" y="397.30" width="1.02" height="13.45" fill="rgb(0,0,0)"/>
<rect x="246" y="397.30" width="1.02" height="13.45" fill="rgb(0,0,0)"/>
<rect x="247" y="397.30" width="1.02" height="13.45" fill="rgb(0,0,0)"/>
<rect x="248" y="397.30" width="1.02" height="13.45" fill="rgb(0,0,0)"/>
<rect x="249" y="397.30" width="1.02" height="13.45" fill="rgb(0,0,0)"/>
<rect x="250" y="397.30" width="1.02" height="13.45" fill="rgb(0,0,0)"/>
<rect x="251" y="397.30" width="1.02" height="13.45" fill="rgb(0,0,0)"/>
<rect x="252" y="397.30" width="1.02" height="13.45" fill="rgb(0,0,0)"/>
<rect x="253" y="397.30" width="1.02" height="13.45" fill="rgb(0,0,0)"/>
<rect x="254" y="397.30" width="1.02" height="13.45" fill="rgb(0,0,0)"/>
<rect x="255" y="397.30" width="1.02" height="13.45" fill="rgb(0,0,0)"/>
<rect x="256" y="397.30" width="1.02" height="13.45" fill="rgb(0,0,0)"/>
<rect x="257" y="397.30" width="1.02" height="13.45" fill="rgb(0,0,0)"/>
<rect x="258" y="397.30" width="1.02" height="13.45" fill="rgb(0,0,0)"/>
<rect x="259" y="397.30" width="1.02" height="13.45" fill="rgb(36,36,36)"/>
<rect x="260" y="397.30" width="1.02" height="13.45" fill="rgb(71,71,71)"/>
<rect x="261" y="397.30" width="1.02" height="13.45" fill="rgb(104,104,104)"/>
<rect x="262" y="397.30" width="1.02" height="13.45" fill="rgb(71,71,71)"/>
<rect x="263" y="397.30" width="1.02" height="13.45" fill="rgb(0,0,0)"/>
<rect x="264" y="397.30" width="1.02" height="13.45" fill="rgb(136,136,136)"/>
<rect x="265" y="397.30" width="1.02" height="13.45" fill="rgb(71,71,71)"/>
<rect x="266" y="397.30" width="1.02" height="13.45" fill="rgb(71,71,71)"/>
<rect x="267" y="397.30" width="1.02" height="13.45" fill="rgb(104,104,104)"/>
<rect x="268" y="397.30" width="1.02" height="13.45" fill="rgb(36,36,36)"/>
<rect x="269" y="397.30" width="1.02" height="13.45" fill="rgb(136,136,136)"/>
<rect x="270" y="397.30" width="1.02" height="13.45" fill="rgb(36,36,36)"/>
<rect x="271" y="397.30" width="1.02" height="13.45" fill="rgb(71,71,71)"/>
<rect x="272" y="397.30" width="1.02" height="13.45" fill="rgb(36,36,36)"/>
<rect x="273" y="397.30" width="1.02" height="13.45" fill="rgb(0,0,0)"/>
<rect x="274" y="397.30" width="1.02" height="13.45" fill="rgb(194,194,194)"/>
<rect x="275" y="397.30" width="1.02" height="13.45" fill="rgb(0,0,0)"/>
<rect x="276" y="397.30" width="1.02" height="13.45" fill="rgb(36,36,36)"/>
<rect x="277" y="397.30" width="1.02" height="13.45" fill="rgb(36,36,36)"/>
<rect x="278" y="397.30" width="1.02" height="13.45" fill="rgb(36,36,36)"/>
<rect x="279" y="397.30" width="1.02" height="13.45" fill="rgb(71,71,71)"/>
<rect x="280" y="397.30" width="1.02" height="13.45" fill="rgb(194,194,194)"/>
<rect x="281" y="397.30" width="1.02" height="13.45" fill="rgb(219,219,219)"/>
<rect x="282" y="397.30" width="1.02" height="13.45" fill="rgb(71,71,71)"/>
<rect x="283" y="397.30" width="1.02" height="13.45" fill="rgb(36,36,36)"/>
<rect x="284" y="397.30" width="1.02" height="13.45" fill="rgb(36,36,36)"/>
<rect x="285" y="397.30" width="1.02" height="13.45" fill="rgb(71,71,71)"/>
<rect x="286" y="397.30" width="1.02" height="13.45" fill="rgb(136,136,136)"/>
<rect x="287" y="397.30" width="1.02" height="13.45" fill="rgb(36,36,36)"/>
<rect x="288" y="397.30" width="1.02" height="13.45" fill="rgb(0,0,0)"/>
<rect x="289" y="397.30" width="1.02" height="13.45" fill="rgb(71,71,71)"/>
<rect x="290" y="397.30" width="1.02" height="13.45" fill="rgb(136,136,136)"/>
<rect x="291" y="397.30" width="1.02" height="13.45" fill="rgb(104,104,104)"/>
<rect x="292" y="397.30" width="1.02" height="13.45" fill="rgb(136,136,136)"/>
<rect x="293" y="397.30" width="1.02" height="13.45" fill="rgb(136,136,136)"/>
<rect x="294" y="397.30" width="1.02" height="13.45" fill="rgb(71,71,71)"/>
<rect x="295" y="397.30" width="1.02" height="13.45" fill="rgb(136,136,136)"/>
<rect x="296" y="397.30" width="1.02" height="13.45" fill="rgb(104,104,104)"/>
<rect x="297" y="397.30" width="1.02" height="13.45" fill="rgb(0,0,0)"/>
<rect x="298" y="397.30" width="1.02" height="13.45" fill="rgb(36,36,36)"/>
<rect x="299" y="397.30" width="1.02" height="13.45" fill="rgb(194,194,194)"/>
<rect x="300" y="397.30" width="1.02" height="13.45" fill="rgb(36,36,36)"/>
<rect x="301" y="397.30" width="1.02" height="13.45" fill="rgb(36,36,36)"/>
<rect x="302" y="397.30" width="1.02" height="13.45" fill="rgb(104,104,104)"/>
<rect x="303" y="397.30" width="1.02" height="13.45" fill="rgb(104,104,104)"/>
<rect x="304" y="397.30" width="1.02" height="13.45" fill="rgb(136,136,136)"/>
<rect x="305" y="397.30" width="1.02" height="13.45" fill="rgb(136,136,136)"/>
<rect x="306" y="397.30" width="1.02" height="13.45" fill="rgb(0,0,0)"/>
<rect x="307" y="397.30" width="1.02" height="13.45" fill="rgb(36,36,36)"/>
<rect x="308" y="397.30" width="1.02" height="13.45" fill="rgb(166,166,166)"/>
<rect x="309" y="397.30" width="1.02" height="13.45" fill="rgb(194,194,194)"/>
<rect x="310" y="397.30" width="1.02" height="13.45" fill="rgb(104,104,104)"/>
<rect x="311" y="397.30" width="1.02" height="13.45" fill="rgb(104,104,104)"/>
<rect x="312" y="397.30" width="1.02" height="13.45" fill="rgb(136,136,136)"/>
<rect x="313" y="397.30" width="1.02" height="13.45" fill="rgb(71,71,71)"/>
<rect x="314" y="397.30" width="1.02" height="13.45" fill="rgb(104,104,104)"/>
<rect x="315" y="397.30" width="1.02" height="13.45" fill="rgb(240,240,240)"/>
<rect x="316" y="397.30" width="1.02" height="13.45" fill="rgb(0,0,0)"/>
<rect x="317" y="397.30" width="1.02" height="13.45" fill="rgb(0,0,0)"/>
<rect x="318" y="397.30" width="1.02" height="13.45" fill="rgb(36,36,36)"/>
<rect x="319" y="397.30" width="1.02" height="13.45" fill="rgb(104,104,104)"/>
<rect x="320" y="397.30" width="1.02" height="13.45" fill="rgb(166,166,166)"/>
<rect x="321" y="397.30" width="1.02" height="13.45" fill="rgb(36,36,36)"/>
<rect x="322" y="397.30" width="1.02" height="13.45" fill="rgb(71,71,71)"/>
<rect x="323" y="397.30" width="1.02" height="13.45" fill="rgb(136,136,136)"/>
<rect x="324" y="397.30" width="1.02" height="13.45" fill="rgb(0,0,0)"/>
<rect x="325" y="397.30" width="1.02" height="13.45" fill="rgb(36,36,36)"/>
<rect x="326" y="397.30" width="1.02" height="13.45" fill="rgb(71,71,71)"/>
<rect x="327" y="397.30" width="1.02" height="13.45" fill="rgb(36,36,36)"/>
<rect x="328" y="397.30" width="1.02" height="13.45" fill="rgb(36,36,36)"/>
<rect x="329" y="397.30" width="1.02" height="13.45" fill="rgb(104,104,104)"/>
<rect x="330" y="397.30" width="1.02" height="13.45" fill="rgb(136,136,136)"/>
<rect x="331" y="397.30" width="1.02" height="13.45" fill="rgb(36,36,36)"/>
<rect x="332" y="397.30" width="1.02" height="13.45" fill="rgb(36,36,36)"/>
<rect x="333" y="397.30" width="1.02" height="13.45" fill="rgb(0,0,0)"/>
<rect x="334" y="397.30" width="1.02" height="13.45" fill="rgb(71,71,71)"/>
<rect x="335" y="397.30" width="1.02" height="13.45" fill="rgb(104,104,104)"/>
<rect x="336" y="397.30" width="1.02" height="13.45" fill="rgb(36,36,36)"/>
<rect x="337" y="397.30" width="1.02" height="13.45" fill="rgb(36,36,36)"/>
<rect x="338" y="397.30" width="1.02" height="13.45" fill="rgb(136,136,136)"/>
<rect x="244.80" y="410.75" width="12.87" height="2.95" fill="#ee3c46"/>
<rect x="257.64" y="410.75" width="19.19" height="2.95" fill="#f05262"/>
<rect x="276.80" y="410.75" width="13.34" height="2.95" fill="#f4a8dc"/>
<rect x="290.11" y="410.75" width="11.83" height="2.95" fill="#cacaf8"/>
<rect x="301.91" y="410.75" width="9.75" height="2.95" fill="#b2b2f4"/>
<rect x="311.64" y="410.75" width="9.00" height="2.95" fill="#7272f0"/>
<rect x="320.60" y="410.75" width="15.04" height="2.95" fill="#4444e2"/>
<rect x="335.61" y="410.75" width="3.62" height="2.95" fill="#0000c4"/>
<defs><linearGradient id="dkF2" x1="0" x2="1"><stop offset="0" stop-color="#000" stop-opacity="0.5"/><stop offset="0.2" stop-color="#000" stop-opacity="0.3"/><stop offset="0.4" stop-color="#000" stop-opacity="0.15"/><stop offset="1" stop-color="#000" stop-opacity="0.1"/></linearGradient></defs>
<rect x="244.80" y="410.75" width="94.40" height="2.95" fill="url(#dkF2)"/>
<polyline points="245.20,389.80 245.50,382.30 245.90,375.80 247.50,368.30 250.20,361.30 253.40,358.60 257.20,357.30 261.50,357.70 268.00,360.20 275.50,364.00 283.00,368.80 289.50,372.60 300.00,378.50 310.00,384.40 315.40,387.60 320.75,390.30 326.10,393.00 331.50,394.60 335.80,395.20 338.20,393.50 339.60,391.80" fill="none" stroke="#2be82b" stroke-width="1.3" stroke-linejoin="round" stroke-linecap="round"/>
<text x="246.20" y="384.00" font-size="7.30" fill="#c83b3b" textLength="28.40" lengthAdjust="spacingAndGlyphs" stroke="#c83b3b" stroke-width="0.30">NES:2.32</text>
<text x="246.20" y="393.40" font-size="7.30" fill="#c83b3b" textLength="51.80" lengthAdjust="spacingAndGlyphs" stroke="#c83b3b" stroke-width="0.30">FDR q-value: 0.0</text>
<text x="255.80" y="339.50" font-size="8.30" fill="#1a1a1a" textLength="76.70" lengthAdjust="spacingAndGlyphs" stroke="#1a1a1a" stroke-width="0.30">Up in DNMT3A R882H</text>
<text x="259.00" y="349.50" font-size="8.30" fill="#1a1a1a" textLength="68.00" lengthAdjust="spacingAndGlyphs" stroke="#1a1a1a" stroke-width="0.30">vs EV LSK Koya et al</text>
<text x="245.10" y="422.90" font-size="8.40" fill="#1a1a1a" textLength="15.20" lengthAdjust="spacingAndGlyphs" stroke="#1a1a1a" stroke-width="0.30">Jak2</text>
<text x="260.50" y="419.37" font-size="5.21" fill="#1a1a1a" textLength="5.80" lengthAdjust="spacingAndGlyphs" stroke="#1a1a1a" stroke-width="0.30">VF</text>
<text x="266.50" y="422.90" font-size="8.40" fill="#1a1a1a" textLength="30.50" lengthAdjust="spacingAndGlyphs" stroke="#1a1a1a" stroke-width="0.30">-Dnmt3a</text>
<text x="303.00" y="422.90" font-size="8.40" fill="#1a1a1a" textLength="14.00" lengthAdjust="spacingAndGlyphs" stroke="#1a1a1a" stroke-width="0.30">Jak2</text>
<text x="317.20" y="419.37" font-size="5.21" fill="#1a1a1a" textLength="6.20" lengthAdjust="spacingAndGlyphs" stroke="#1a1a1a" stroke-width="0.30">VF</text>
<rect x="374.10" y="256.80" width="94.40" height="59.50" fill="#fff" stroke="#dcdcd6" stroke-width="0.7"/>
<line x1="385.30" y1="256.80" x2="385.30" y2="298.80" stroke="#f0f0f0" stroke-width="0.60"/>
<line x1="396.50" y1="256.80" x2="396.50" y2="298.80" stroke="#f0f0f0" stroke-width="0.60"/>
<line x1="407.70" y1="256.80" x2="407.70" y2="298.80" stroke="#f0f0f0" stroke-width="0.60"/>
<line x1="418.90" y1="256.80" x2="418.90" y2="298.80" stroke="#f0f0f0" stroke-width="0.60"/>
<line x1="430.10" y1="256.80" x2="430.10" y2="298.80" stroke="#f0f0f0" stroke-width="0.60"/>
<line x1="441.30" y1="256.80" x2="441.30" y2="298.80" stroke="#f0f0f0" stroke-width="0.60"/>
<line x1="452.50" y1="256.80" x2="452.50" y2="298.80" stroke="#f0f0f0" stroke-width="0.60"/>
<line x1="463.70" y1="256.80" x2="463.70" y2="298.80" stroke="#f0f0f0" stroke-width="0.60"/>
<line x1="374.10" y1="262.40" x2="468.50" y2="262.40" stroke="#f3f3f3" stroke-width="0.60"/>
<line x1="374.10" y1="268.00" x2="468.50" y2="268.00" stroke="#f3f3f3" stroke-width="0.60"/>
<line x1="374.10" y1="273.60" x2="468.50" y2="273.60" stroke="#f3f3f3" stroke-width="0.60"/>
<line x1="374.10" y1="279.20" x2="468.50" y2="279.20" stroke="#f3f3f3" stroke-width="0.60"/>
<line x1="374.10" y1="284.80" x2="468.50" y2="284.80" stroke="#f3f3f3" stroke-width="0.60"/>
<line x1="374.10" y1="290.40" x2="468.50" y2="290.40" stroke="#f3f3f3" stroke-width="0.60"/>
<line x1="374.10" y1="296.00" x2="468.50" y2="296.00" stroke="#f3f3f3" stroke-width="0.60"/>
<line x1="374.10" y1="288.60" x2="468.50" y2="288.60" stroke="#d6d6d6" stroke-width="0.70"/>
<line x1="374.10" y1="298.80" x2="468.50" y2="298.80" stroke="#e2e2e2" stroke-width="0.70"/>
<rect x="374" y="299.80" width="1.02" height="13.10" fill="rgb(104,104,104)"/>
<rect x="375" y="299.80" width="1.02" height="13.10" fill="rgb(104,104,104)"/>
<rect x="376" y="299.80" width="1.02" height="13.10" fill="rgb(71,71,71)"/>
<rect x="377" y="299.80" width="1.02" height="13.10" fill="rgb(0,0,0)"/>
<rect x="378" y="299.80" width="1.02" height="13.10" fill="rgb(104,104,104)"/>
<rect x="379" y="299.80" width="1.02" height="13.10" fill="rgb(219,219,219)"/>
<rect x="380" y="299.80" width="1.02" height="13.10" fill="rgb(71,71,71)"/>
<rect x="381" y="299.80" width="1.02" height="13.10" fill="rgb(71,71,71)"/>
<rect x="382" y="299.80" width="1.02" height="13.10" fill="rgb(104,104,104)"/>
<rect x="383" y="299.80" width="1.02" height="13.10" fill="rgb(166,166,166)"/>
<rect x="384" y="299.80" width="1.02" height="13.10" fill="rgb(104,104,104)"/>
<rect x="385" y="299.80" width="1.02" height="13.10" fill="rgb(104,104,104)"/>
<rect x="386" y="299.80" width="1.02" height="13.10" fill="rgb(219,219,219)"/>
<rect x="387" y="299.80" width="1.02" height="13.10" fill="rgb(166,166,166)"/>
<rect x="388" y="299.80" width="1.02" height="13.10" fill="rgb(0,0,0)"/>
<rect x="389" y="299.80" width="1.02" height="13.10" fill="rgb(104,104,104)"/>
<rect x="390" y="299.80" width="1.02" height="13.10" fill="rgb(166,166,166)"/>
<rect x="391" y="299.80" width="1.02" height="13.10" fill="rgb(136,136,136)"/>
<rect x="392" y="299.80" width="1.02" height="13.10" fill="rgb(36,36,36)"/>
<rect x="393" y="299.80" width="1.02" height="13.10" fill="rgb(166,166,166)"/>
<rect x="394" y="299.80" width="1.02" height="13.10" fill="rgb(136,136,136)"/>
<rect x="395" y="299.80" width="1.02" height="13.10" fill="rgb(136,136,136)"/>
<rect x="396" y="299.80" width="1.02" height="13.10" fill="rgb(71,71,71)"/>
<rect x="397" y="299.80" width="1.02" height="13.10" fill="rgb(71,71,71)"/>
<rect x="398" y="299.80" width="1.02" height="13.10" fill="rgb(104,104,104)"/>
<rect x="399" y="299.80" width="1.02" height="13.10" fill="rgb(136,136,136)"/>
<rect x="400" y="299.80" width="1.02" height="13.10" fill="rgb(219,219,219)"/>
<rect x="401" y="299.80" width="1.02" height="13.10" fill="rgb(194,194,194)"/>
<rect x="402" y="299.80" width="1.02" height="13.10" fill="rgb(194,194,194)"/>
<rect x="403" y="299.80" width="1.02" height="13.10" fill="rgb(136,136,136)"/>
<rect x="404" y="299.80" width="1.02" height="13.10" fill="rgb(219,219,219)"/>
<rect x="405" y="299.80" width="1.02" height="13.10" fill="rgb(240,240,240)"/>
<rect x="406" y="299.80" width="1.02" height="13.10" fill="rgb(219,219,219)"/>
<rect x="407" y="299.80" width="1.02" height="13.10" fill="rgb(194,194,194)"/>
<rect x="408" y="299.80" width="1.02" height="13.10" fill="rgb(240,240,240)"/>
<rect x="411" y="299.80" width="1.02" height="13.10" fill="rgb(219,219,219)"/>
<rect x="412" y="299.80" width="1.02" height="13.10" fill="rgb(36,36,36)"/>
<rect x="413" y="299.80" width="1.02" height="13.10" fill="rgb(36,36,36)"/>
<rect x="414" y="299.80" width="1.02" height="13.10" fill="rgb(166,166,166)"/>
<rect x="415" y="299.80" width="1.02" height="13.10" fill="rgb(104,104,104)"/>
<rect x="416" y="299.80" width="1.02" height="13.10" fill="rgb(194,194,194)"/>
<rect x="417" y="299.80" width="1.02" height="13.10" fill="rgb(219,219,219)"/>
<rect x="418" y="299.80" width="1.02" height="13.10" fill="rgb(136,136,136)"/>
<rect x="419" y="299.80" width="1.02" height="13.10" fill="rgb(136,136,136)"/>
<rect x="420" y="299.80" width="1.02" height="13.10" fill="rgb(136,136,136)"/>
<rect x="421" y="299.80" width="1.02" height="13.10" fill="rgb(104,104,104)"/>
<rect x="422" y="299.80" width="1.02" height="13.10" fill="rgb(136,136,136)"/>
<rect x="423" y="299.80" width="1.02" height="13.10" fill="rgb(219,219,219)"/>
<rect x="424" y="299.80" width="1.02" height="13.10" fill="rgb(194,194,194)"/>
<rect x="425" y="299.80" width="1.02" height="13.10" fill="rgb(36,36,36)"/>
<rect x="426" y="299.80" width="1.02" height="13.10" fill="rgb(194,194,194)"/>
<rect x="427" y="299.80" width="1.02" height="13.10" fill="rgb(240,240,240)"/>
<rect x="428" y="299.80" width="1.02" height="13.10" fill="rgb(219,219,219)"/>
<rect x="429" y="299.80" width="1.02" height="13.10" fill="rgb(166,166,166)"/>
<rect x="430" y="299.80" width="1.02" height="13.10" fill="rgb(136,136,136)"/>
<rect x="431" y="299.80" width="1.02" height="13.10" fill="rgb(166,166,166)"/>
<rect x="432" y="299.80" width="1.02" height="13.10" fill="rgb(194,194,194)"/>
<rect x="433" y="299.80" width="1.02" height="13.10" fill="rgb(136,136,136)"/>
<rect x="434" y="299.80" width="1.02" height="13.10" fill="rgb(104,104,104)"/>
<rect x="435" y="299.80" width="1.02" height="13.10" fill="rgb(166,166,166)"/>
<rect x="436" y="299.80" width="1.02" height="13.10" fill="rgb(194,194,194)"/>
<rect x="437" y="299.80" width="1.02" height="13.10" fill="rgb(194,194,194)"/>
<rect x="438" y="299.80" width="1.02" height="13.10" fill="rgb(166,166,166)"/>
<rect x="439" y="299.80" width="1.02" height="13.10" fill="rgb(194,194,194)"/>
<rect x="440" y="299.80" width="1.02" height="13.10" fill="rgb(194,194,194)"/>
<rect x="441" y="299.80" width="1.02" height="13.10" fill="rgb(219,219,219)"/>
<rect x="442" y="299.80" width="1.02" height="13.10" fill="rgb(219,219,219)"/>
<rect x="444" y="299.80" width="1.02" height="13.10" fill="rgb(240,240,240)"/>
<rect x="445" y="299.80" width="1.02" height="13.10" fill="rgb(194,194,194)"/>
<rect x="446" y="299.80" width="1.02" height="13.10" fill="rgb(219,219,219)"/>
<rect x="447" y="299.80" width="1.02" height="13.10" fill="rgb(194,194,194)"/>
<rect x="448" y="299.80" width="1.02" height="13.10" fill="rgb(136,136,136)"/>
<rect x="449" y="299.80" width="1.02" height="13.10" fill="rgb(104,104,104)"/>
<rect x="450" y="299.80" width="1.02" height="13.10" fill="rgb(136,136,136)"/>
<rect x="451" y="299.80" width="1.02" height="13.10" fill="rgb(104,104,104)"/>
<rect x="452" y="299.80" width="1.02" height="13.10" fill="rgb(36,36,36)"/>
<rect x="453" y="299.80" width="1.02" height="13.10" fill="rgb(36,36,36)"/>
<rect x="454" y="299.80" width="1.02" height="13.10" fill="rgb(71,71,71)"/>
<rect x="455" y="299.80" width="1.02" height="13.10" fill="rgb(104,104,104)"/>
<rect x="456" y="299.80" width="1.02" height="13.10" fill="rgb(166,166,166)"/>
<rect x="457" y="299.80" width="1.02" height="13.10" fill="rgb(104,104,104)"/>
<rect x="458" y="299.80" width="1.02" height="13.10" fill="rgb(36,36,36)"/>
<rect x="459" y="299.80" width="1.02" height="13.10" fill="rgb(71,71,71)"/>
<rect x="460" y="299.80" width="1.02" height="13.10" fill="rgb(136,136,136)"/>
<rect x="461" y="299.80" width="1.02" height="13.10" fill="rgb(104,104,104)"/>
<rect x="462" y="299.80" width="1.02" height="13.10" fill="rgb(36,36,36)"/>
<rect x="463" y="299.80" width="1.02" height="13.10" fill="rgb(104,104,104)"/>
<rect x="374.10" y="312.90" width="12.22" height="3.10" fill="#ee3c46"/>
<rect x="386.29" y="312.90" width="18.22" height="3.10" fill="#f05262"/>
<rect x="404.47" y="312.90" width="12.66" height="3.10" fill="#f4a8dc"/>
<rect x="417.11" y="312.90" width="11.23" height="3.10" fill="#cacaf8"/>
<rect x="428.31" y="312.90" width="9.26" height="3.10" fill="#b2b2f4"/>
<rect x="437.54" y="312.90" width="8.54" height="3.10" fill="#7272f0"/>
<rect x="446.05" y="312.90" width="14.28" height="3.10" fill="#4444e2"/>
<rect x="460.30" y="312.90" width="3.43" height="3.10" fill="#0000c4"/>
<polyline points="374.30,287.50 374.50,278.00 374.80,270.30 376.50,264.90 378.60,262.20 380.75,261.10 384.00,259.30 388.30,259.70 391.50,260.80 396.90,262.20 402.30,264.40 409.80,270.30 425.00,279.50 440.00,289.10 445.40,293.40 450.75,295.50 456.10,296.60 460.40,296.10 462.60,294.50 463.70,288.00" fill="none" stroke="#2be82b" stroke-width="1.3" stroke-linejoin="round" stroke-linecap="round"/>
<text x="375.60" y="285.70" font-size="7.30" fill="#c83b3b" textLength="27.60" lengthAdjust="spacingAndGlyphs" stroke="#c83b3b" stroke-width="0.30">NES:1.76</text>
<text x="375.60" y="295.00" font-size="7.30" fill="#c83b3b" textLength="51.50" lengthAdjust="spacingAndGlyphs" stroke="#c83b3b" stroke-width="0.30">FDR q-value: 0.0</text>
<text x="364.50" y="242.00" font-size="8.30" fill="#1a1a1a" textLength="113.50" lengthAdjust="spacingAndGlyphs" stroke="#1a1a1a" stroke-width="0.30">Up in Dnmt3a -Flt3ITD vs Flt3ITD</text>
<text x="386.30" y="251.30" font-size="8.30" fill="#1a1a1a" textLength="71.20" lengthAdjust="spacingAndGlyphs" stroke="#1a1a1a" stroke-width="0.30">LSK Meyer et al 2016</text>
<text x="374.40" y="326.10" font-size="8.40" fill="#1a1a1a" textLength="15.20" lengthAdjust="spacingAndGlyphs" stroke="#1a1a1a" stroke-width="0.30">Jak2</text>
<text x="389.80" y="322.57" font-size="5.21" fill="#1a1a1a" textLength="5.80" lengthAdjust="spacingAndGlyphs" stroke="#1a1a1a" stroke-width="0.30">VF</text>
<text x="395.80" y="326.10" font-size="8.40" fill="#1a1a1a" textLength="30.50" lengthAdjust="spacingAndGlyphs" stroke="#1a1a1a" stroke-width="0.30">-Dnmt3a</text>
<text x="432.30" y="326.10" font-size="8.40" fill="#1a1a1a" textLength="14.00" lengthAdjust="spacingAndGlyphs" stroke="#1a1a1a" stroke-width="0.30">Jak2</text>
<text x="446.50" y="322.57" font-size="5.21" fill="#1a1a1a" textLength="6.20" lengthAdjust="spacingAndGlyphs" stroke="#1a1a1a" stroke-width="0.30">VF</text>
<rect x="374.50" y="354.50" width="100.10" height="58.70" fill="#fff" stroke="#dcdcd6" stroke-width="0.7"/>
<line x1="386.43" y1="354.50" x2="386.43" y2="396.20" stroke="#f0f0f0" stroke-width="0.60"/>
<line x1="398.35" y1="354.50" x2="398.35" y2="396.20" stroke="#f0f0f0" stroke-width="0.60"/>
<line x1="410.28" y1="354.50" x2="410.28" y2="396.20" stroke="#f0f0f0" stroke-width="0.60"/>
<line x1="422.20" y1="354.50" x2="422.20" y2="396.20" stroke="#f0f0f0" stroke-width="0.60"/>
<line x1="434.13" y1="354.50" x2="434.13" y2="396.20" stroke="#f0f0f0" stroke-width="0.60"/>
<line x1="446.05" y1="354.50" x2="446.05" y2="396.20" stroke="#f0f0f0" stroke-width="0.60"/>
<line x1="457.98" y1="354.50" x2="457.98" y2="396.20" stroke="#f0f0f0" stroke-width="0.60"/>
<line x1="469.90" y1="354.50" x2="469.90" y2="396.20" stroke="#f0f0f0" stroke-width="0.60"/>
<line x1="374.50" y1="360.10" x2="474.60" y2="360.10" stroke="#f3f3f3" stroke-width="0.60"/>
<line x1="374.50" y1="365.70" x2="474.60" y2="365.70" stroke="#f3f3f3" stroke-width="0.60"/>
<line x1="374.50" y1="371.30" x2="474.60" y2="371.30" stroke="#f3f3f3" stroke-width="0.60"/>
<line x1="374.50" y1="376.90" x2="474.60" y2="376.90" stroke="#f3f3f3" stroke-width="0.60"/>
<line x1="374.50" y1="382.50" x2="474.60" y2="382.50" stroke="#f3f3f3" stroke-width="0.60"/>
<line x1="374.50" y1="388.10" x2="474.60" y2="388.10" stroke="#f3f3f3" stroke-width="0.60"/>
<line x1="374.50" y1="393.70" x2="474.60" y2="393.70" stroke="#f3f3f3" stroke-width="0.60"/>
<line x1="374.50" y1="394.00" x2="474.60" y2="394.00" stroke="#d6d6d6" stroke-width="0.70"/>
<line x1="374.50" y1="396.20" x2="474.60" y2="396.20" stroke="#e2e2e2" stroke-width="0.70"/>
<rect x="375" y="396.80" width="1.02" height="13.40" fill="rgb(166,166,166)"/>
<rect x="380" y="396.80" width="1.02" height="13.40" fill="rgb(166,166,166)"/>
<rect x="385" y="396.80" width="1.02" height="13.40" fill="rgb(136,136,136)"/>
<rect x="386" y="396.80" width="1.02" height="13.40" fill="rgb(194,194,194)"/>
<rect x="387" y="396.80" width="1.02" height="13.40" fill="rgb(166,166,166)"/>
<rect x="388" y="396.80" width="1.02" height="13.40" fill="rgb(194,194,194)"/>
<rect x="397" y="396.80" width="1.02" height="13.40" fill="rgb(194,194,194)"/>
<rect x="400" y="396.80" width="1.02" height="13.40" fill="rgb(219,219,219)"/>
<rect x="408" y="396.80" width="1.02" height="13.40" fill="rgb(194,194,194)"/>
<rect x="417" y="396.80" width="1.02" height="13.40" fill="rgb(194,194,194)"/>
<rect x="459" y="396.80" width="1.02" height="13.40" fill="rgb(194,194,194)"/>
<rect x="462" y="396.80" width="1.02" height="13.40" fill="rgb(166,166,166)"/>
<rect x="374.50" y="410.20" width="13.00" height="3.00" fill="#ee3c46"/>
<rect x="387.47" y="410.20" width="19.40" height="3.00" fill="#f05262"/>
<rect x="406.84" y="410.20" width="13.48" height="3.00" fill="#f4a8dc"/>
<rect x="420.29" y="410.20" width="11.95" height="3.00" fill="#cacaf8"/>
<rect x="432.22" y="410.20" width="9.86" height="3.00" fill="#b2b2f4"/>
<rect x="442.04" y="410.20" width="9.09" height="3.00" fill="#7272f0"/>
<rect x="451.11" y="410.20" width="15.20" height="3.00" fill="#4444e2"/>
<rect x="466.27" y="410.20" width="3.66" height="3.00" fill="#0000c4"/>
<polyline points="374.80,393.50 374.80,361.80 375.90,359.50 378.10,360.50 380.75,357.50 384.00,358.80 388.80,356.50 396.90,360.20 409.80,366.10 425.00,373.60 440.00,381.20 450.75,386.60 458.80,390.60 461.00,391.90 463.10,390.30 464.70,391.40 469.90,394.10" fill="none" stroke="#2be82b" stroke-width="1.3" stroke-linejoin="round" stroke-linecap="round"/>
<text x="376.90" y="383.90" font-size="7.30" fill="#c83b3b" textLength="27.30" lengthAdjust="spacingAndGlyphs" stroke="#c83b3b" stroke-width="0.30">NES:2.01</text>
<text x="376.90" y="393.30" font-size="7.30" fill="#c83b3b" textLength="52.60" lengthAdjust="spacingAndGlyphs" stroke="#c83b3b" stroke-width="0.30">FDR q-value: 0.0</text>
<text x="378.00" y="338.80" font-size="8.30" fill="#1a1a1a" textLength="93.80" lengthAdjust="spacingAndGlyphs" stroke="#1a1a1a" stroke-width="0.30">Up in DNMT3A R882H AML</text>
<text x="402.50" y="348.30" font-size="8.30" fill="#1a1a1a" textLength="44.50" lengthAdjust="spacingAndGlyphs" stroke="#1a1a1a" stroke-width="0.30">Spencer et al</text>
<text x="374.70" y="422.90" font-size="8.40" fill="#1a1a1a" textLength="15.20" lengthAdjust="spacingAndGlyphs" stroke="#1a1a1a" stroke-width="0.30">Jak2</text>
<text x="390.10" y="419.37" font-size="5.21" fill="#1a1a1a" textLength="5.80" lengthAdjust="spacingAndGlyphs" stroke="#1a1a1a" stroke-width="0.30">VF</text>
<text x="396.10" y="422.90" font-size="8.40" fill="#1a1a1a" textLength="30.50" lengthAdjust="spacingAndGlyphs" stroke="#1a1a1a" stroke-width="0.30">-Dnmt3a</text>
<text x="432.60" y="422.90" font-size="8.40" fill="#1a1a1a" textLength="14.00" lengthAdjust="spacingAndGlyphs" stroke="#1a1a1a" stroke-width="0.30">Jak2</text>
<text x="446.80" y="419.37" font-size="5.21" fill="#1a1a1a" textLength="6.20" lengthAdjust="spacingAndGlyphs" stroke="#1a1a1a" stroke-width="0.30">VF</text>
<rect x="7.40" y="468.20" width="103.00" height="63.50" fill="#fff" stroke="#dcdcd6" stroke-width="0.7"/>
<line x1="19.66" y1="468.20" x2="19.66" y2="512.30" stroke="#f0f0f0" stroke-width="0.60"/>
<line x1="31.93" y1="468.20" x2="31.93" y2="512.30" stroke="#f0f0f0" stroke-width="0.60"/>
<line x1="44.19" y1="468.20" x2="44.19" y2="512.30" stroke="#f0f0f0" stroke-width="0.60"/>
<line x1="56.45" y1="468.20" x2="56.45" y2="512.30" stroke="#f0f0f0" stroke-width="0.60"/>
<line x1="68.71" y1="468.20" x2="68.71" y2="512.30" stroke="#f0f0f0" stroke-width="0.60"/>
<line x1="80.98" y1="468.20" x2="80.98" y2="512.30" stroke="#f0f0f0" stroke-width="0.60"/>
<line x1="93.24" y1="468.20" x2="93.24" y2="512.30" stroke="#f0f0f0" stroke-width="0.60"/>
<line x1="105.50" y1="468.20" x2="105.50" y2="512.30" stroke="#f0f0f0" stroke-width="0.60"/>
<line x1="7.40" y1="473.80" x2="110.40" y2="473.80" stroke="#f3f3f3" stroke-width="0.60"/>
<line x1="7.40" y1="479.40" x2="110.40" y2="479.40" stroke="#f3f3f3" stroke-width="0.60"/>
<line x1="7.40" y1="485.00" x2="110.40" y2="485.00" stroke="#f3f3f3" stroke-width="0.60"/>
<line x1="7.40" y1="490.60" x2="110.40" y2="490.60" stroke="#f3f3f3" stroke-width="0.60"/>
<line x1="7.40" y1="496.20" x2="110.40" y2="496.20" stroke="#f3f3f3" stroke-width="0.60"/>
<line x1="7.40" y1="501.80" x2="110.40" y2="501.80" stroke="#f3f3f3" stroke-width="0.60"/>
<line x1="7.40" y1="507.40" x2="110.40" y2="507.40" stroke="#f3f3f3" stroke-width="0.60"/>
<line x1="7.40" y1="511.30" x2="110.40" y2="511.30" stroke="#d6d6d6" stroke-width="0.70"/>
<line x1="7.40" y1="512.30" x2="110.40" y2="512.30" stroke="#e2e2e2" stroke-width="0.70"/>
<rect x="8" y="513.60" width="1.02" height="14.40" fill="rgb(0,0,0)"/>
<rect x="9" y="513.60" width="1.02" height="14.40" fill="rgb(0,0,0)"/>
<rect x="10" y="513.60" width="1.02" height="14.40" fill="rgb(71,71,71)"/>
<rect x="11" y="513.60" width="1.02" height="14.40" fill="rgb(194,194,194)"/>
<rect x="12" y="513.60" width="1.02" height="14.40" fill="rgb(71,71,71)"/>
<rect x="13" y="513.60" width="1.02" height="14.40" fill="rgb(240,240,240)"/>
<rect x="15" y="513.60" width="1.02" height="14.40" fill="rgb(194,194,194)"/>
<rect x="16" y="513.60" width="1.02" height="14.40" fill="rgb(136,136,136)"/>
<rect x="17" y="513.60" width="1.02" height="14.40" fill="rgb(166,166,166)"/>
<rect x="18" y="513.60" width="1.02" height="14.40" fill="rgb(240,240,240)"/>
<rect x="19" y="513.60" width="1.02" height="14.40" fill="rgb(219,219,219)"/>
<rect x="20" y="513.60" width="1.02" height="14.40" fill="rgb(219,219,219)"/>
<rect x="21" y="513.60" width="1.02" height="14.40" fill="rgb(166,166,166)"/>
<rect x="22" y="513.60" width="1.02" height="14.40" fill="rgb(240,240,240)"/>
<rect x="24" y="513.60" width="1.02" height="14.40" fill="rgb(240,240,240)"/>
<rect x="25" y="513.60" width="1.02" height="14.40" fill="rgb(240,240,240)"/>
<rect x="26" y="513.60" width="1.02" height="14.40" fill="rgb(240,240,240)"/>
<rect x="27" y="513.60" width="1.02" height="14.40" fill="rgb(194,194,194)"/>
<rect x="28" y="513.60" width="1.02" height="14.40" fill="rgb(166,166,166)"/>
<rect x="29" y="513.60" width="1.02" height="14.40" fill="rgb(240,240,240)"/>
<rect x="30" y="513.60" width="1.02" height="14.40" fill="rgb(136,136,136)"/>
<rect x="31" y="513.60" width="1.02" height="14.40" fill="rgb(240,240,240)"/>
<rect x="32" y="513.60" width="1.02" height="14.40" fill="rgb(194,194,194)"/>
<rect x="33" y="513.60" width="1.02" height="14.40" fill="rgb(166,166,166)"/>
<rect x="34" y="513.60" width="1.02" height="14.40" fill="rgb(166,166,166)"/>
<rect x="35" y="513.60" width="1.02" height="14.40" fill="rgb(219,219,219)"/>
<rect x="41" y="513.60" width="1.02" height="14.40" fill="rgb(166,166,166)"/>
<rect x="42" y="513.60" width="1.02" height="14.40" fill="rgb(240,240,240)"/>
<rect x="43" y="513.60" width="1.02" height="14.40" fill="rgb(219,219,219)"/>
<rect x="44" y="513.60" width="1.02" height="14.40" fill="rgb(219,219,219)"/>
<rect x="45" y="513.60" width="1.02" height="14.40" fill="rgb(240,240,240)"/>
<rect x="49" y="513.60" width="1.02" height="14.40" fill="rgb(240,240,240)"/>
<rect x="51" y="513.60" width="1.02" height="14.40" fill="rgb(219,219,219)"/>
<rect x="53" y="513.60" width="1.02" height="14.40" fill="rgb(104,104,104)"/>
<rect x="54" y="513.60" width="1.02" height="14.40" fill="rgb(240,240,240)"/>
<rect x="63" y="513.60" width="1.02" height="14.40" fill="rgb(166,166,166)"/>
<rect x="67" y="513.60" width="1.02" height="14.40" fill="rgb(194,194,194)"/>
<rect x="71" y="513.60" width="1.02" height="14.40" fill="rgb(219,219,219)"/>
<rect x="72" y="513.60" width="1.02" height="14.40" fill="rgb(219,219,219)"/>
<rect x="73" y="513.60" width="1.02" height="14.40" fill="rgb(219,219,219)"/>
<rect x="75" y="513.60" width="1.02" height="14.40" fill="rgb(194,194,194)"/>
<rect x="96" y="513.60" width="1.02" height="14.40" fill="rgb(219,219,219)"/>
<rect x="99" y="513.60" width="1.02" height="14.40" fill="rgb(166,166,166)"/>
<rect x="103" y="513.60" width="1.02" height="14.40" fill="rgb(194,194,194)"/>
<rect x="7.40" y="528.00" width="13.37" height="3.50" fill="#ee3c46"/>
<rect x="20.74" y="528.00" width="19.94" height="3.50" fill="#f05262"/>
<rect x="40.66" y="528.00" width="13.86" height="3.50" fill="#f4a8dc"/>
<rect x="54.49" y="528.00" width="12.29" height="3.50" fill="#cacaf8"/>
<rect x="66.75" y="528.00" width="10.13" height="3.50" fill="#b2b2f4"/>
<rect x="76.85" y="528.00" width="9.35" height="3.50" fill="#7272f0"/>
<rect x="86.17" y="528.00" width="15.63" height="3.50" fill="#4444e2"/>
<rect x="101.77" y="528.00" width="3.76" height="3.50" fill="#0000c4"/>
<polyline points="8.10,511.30 8.30,485.50 8.80,479.00 9.90,474.75 11.50,472.60 13.70,470.70 17.40,470.20 21.20,471.50 30.90,475.30 43.80,481.20 60.00,489.20 80.00,498.90 85.40,502.20 90.75,504.90 96.10,507.50 101.50,509.70 105.50,511.10" fill="none" stroke="#2be82b" stroke-width="1.3" stroke-linejoin="round" stroke-linecap="round"/>
<text x="11.10" y="498.80" font-size="7.30" fill="#c83b3b" textLength="27.80" lengthAdjust="spacingAndGlyphs" stroke="#c83b3b" stroke-width="0.30">NES:2.77</text>
<text x="11.10" y="508.10" font-size="7.30" fill="#c83b3b" textLength="52.20" lengthAdjust="spacingAndGlyphs" stroke="#c83b3b" stroke-width="0.30">FDR q-value: 0.0</text>
<text x="36.30" y="452.00" font-size="8.30" fill="#1a1a1a" textLength="45.70" lengthAdjust="spacingAndGlyphs" stroke="#1a1a1a" stroke-width="0.30">147 DNMT3A</text>
<text x="17.00" y="461.80" font-size="8.30" fill="#1a1a1a" textLength="85.50" lengthAdjust="spacingAndGlyphs" stroke="#1a1a1a" stroke-width="0.30">gene expression up core</text>
<text x="7.70" y="542.30" font-size="8.40" fill="#1a1a1a" textLength="15.20" lengthAdjust="spacingAndGlyphs" stroke="#1a1a1a" stroke-width="0.30">Jak2</text>
<text x="23.10" y="538.77" font-size="5.21" fill="#1a1a1a" textLength="5.80" lengthAdjust="spacingAndGlyphs" stroke="#1a1a1a" stroke-width="0.30">VF</text>
<text x="29.10" y="542.30" font-size="8.40" fill="#1a1a1a" textLength="30.50" lengthAdjust="spacingAndGlyphs" stroke="#1a1a1a" stroke-width="0.30">-Dnmt3a</text>
<text x="65.60" y="542.30" font-size="8.40" fill="#1a1a1a" textLength="14.00" lengthAdjust="spacingAndGlyphs" stroke="#1a1a1a" stroke-width="0.30">Jak2</text>
<text x="79.80" y="538.77" font-size="5.21" fill="#1a1a1a" textLength="6.20" lengthAdjust="spacingAndGlyphs" stroke="#1a1a1a" stroke-width="0.30">VF</text>
<rect x="162.20" y="477.90" width="13.75" height="8.20" fill="#7c7cff"/>
<rect x="175.90" y="477.90" width="13.75" height="8.20" fill="#7070ff"/>
<rect x="189.60" y="477.90" width="13.75" height="8.20" fill="#8585ff"/>
<rect x="203.30" y="477.90" width="13.75" height="8.20" fill="#ff6b6b"/>
<rect x="217.00" y="477.90" width="13.75" height="8.20" fill="#ff9999"/>
<rect x="230.70" y="477.90" width="13.75" height="8.20" fill="#ff5555"/>
<rect x="162.20" y="486.04" width="13.75" height="8.20" fill="#6c6cff"/>
<rect x="175.90" y="486.04" width="13.75" height="8.20" fill="#4848ff"/>
<rect x="189.60" y="486.04" width="13.75" height="8.20" fill="#a5a5ff"/>
<rect x="203.30" y="486.04" width="13.75" height="8.20" fill="#ff7070"/>
<rect x="217.00" y="486.04" width="13.75" height="8.20" fill="#ff7575"/>
<rect x="230.70" y="486.04" width="13.75" height="8.20" fill="#ff6a6a"/>
<rect x="162.20" y="494.19" width="13.75" height="8.20" fill="#5a5aff"/>
<rect x="175.90" y="494.19" width="13.75" height="8.20" fill="#8585ff"/>
<rect x="189.60" y="494.19" width="13.75" height="8.20" fill="#a8a8ff"/>
<rect x="203.30" y="494.19" width="13.75" height="8.20" fill="#ff8a8a"/>
<rect x="217.00" y="494.19" width="13.75" height="8.20" fill="#ffd5d5"/>
<rect x="230.70" y="494.19" width="13.75" height="8.20" fill="#ff1515"/>
<rect x="162.20" y="502.33" width="13.75" height="8.20" fill="#3030ff"/>
<rect x="175.90" y="502.33" width="13.75" height="8.20" fill="#a0a0ff"/>
<rect x="189.60" y="502.33" width="13.75" height="8.20" fill="#aaaaff"/>
<rect x="203.30" y="502.33" width="13.75" height="8.20" fill="#ff8a8a"/>
<rect x="217.00" y="502.33" width="13.75" height="8.20" fill="#ffbcbc"/>
<rect x="230.70" y="502.33" width="13.75" height="8.20" fill="#ff3030"/>
<rect x="162.20" y="510.48" width="13.75" height="8.20" fill="#1010ff"/>
<rect x="175.90" y="510.48" width="13.75" height="8.20" fill="#f5f5ff"/>
<rect x="189.60" y="510.48" width="13.75" height="8.20" fill="#b0b0ff"/>
<rect x="203.30" y="510.48" width="13.75" height="8.20" fill="#ff8a8a"/>
<rect x="217.00" y="510.48" width="13.75" height="8.20" fill="#f5f5ff"/>
<rect x="230.70" y="510.48" width="13.75" height="8.20" fill="#ff3030"/>
<rect x="162.20" y="518.62" width="13.75" height="8.20" fill="#6a6aff"/>
<rect x="175.90" y="518.62" width="13.75" height="8.20" fill="#8d8dff"/>
<rect x="189.60" y="518.62" width="13.75" height="8.20" fill="#8080ff"/>
<rect x="203.30" y="518.62" width="13.75" height="8.20" fill="#ff9696"/>
<rect x="217.00" y="518.62" width="13.75" height="8.20" fill="#ff7575"/>
<rect x="230.70" y="518.62" width="13.75" height="8.20" fill="#ff4545"/>
<rect x="162.20" y="526.77" width="13.75" height="8.20" fill="#a5a5ff"/>
<rect x="175.90" y="526.77" width="13.75" height="8.20" fill="#3535ff"/>
<rect x="189.60" y="526.77" width="13.75" height="8.20" fill="#9d9dff"/>
<rect x="203.30" y="526.77" width="13.75" height="8.20" fill="#ff9f9f"/>
<rect x="217.00" y="526.77" width="13.75" height="8.20" fill="#ff7a7a"/>
<rect x="230.70" y="526.77" width="13.75" height="8.20" fill="#ff4545"/>
<rect x="162.20" y="534.91" width="13.75" height="8.20" fill="#aaaaff"/>
<rect x="175.90" y="534.91" width="13.75" height="8.20" fill="#4d4dff"/>
<rect x="189.60" y="534.91" width="13.75" height="8.20" fill="#7b7bff"/>
<rect x="203.30" y="534.91" width="13.75" height="8.20" fill="#ff9c9c"/>
<rect x="217.00" y="534.91" width="13.75" height="8.20" fill="#ff7373"/>
<rect x="230.70" y="534.91" width="13.75" height="8.20" fill="#ff4545"/>
<rect x="162.20" y="543.06" width="13.75" height="8.20" fill="#8080ff"/>
<rect x="175.90" y="543.06" width="13.75" height="8.20" fill="#4f4fff"/>
<rect x="189.60" y="543.06" width="13.75" height="8.20" fill="#a6a6ff"/>
<rect x="203.30" y="543.06" width="13.75" height="8.20" fill="#ffbcbc"/>
<rect x="217.00" y="543.06" width="13.75" height="8.20" fill="#ff6a6a"/>
<rect x="230.70" y="543.06" width="13.75" height="8.20" fill="#ff4545"/>
<rect x="162.20" y="551.20" width="13.75" height="8.20" fill="#7f7fff"/>
<rect x="175.90" y="551.20" width="13.75" height="8.20" fill="#5050ff"/>
<rect x="189.60" y="551.20" width="13.75" height="8.20" fill="#9a9aff"/>
<rect x="203.30" y="551.20" width="13.75" height="8.20" fill="#ff9494"/>
<rect x="217.00" y="551.20" width="13.75" height="8.20" fill="#ff7373"/>
<rect x="230.70" y="551.20" width="13.75" height="8.20" fill="#ff4848"/>
<rect x="162.20" y="559.35" width="13.75" height="8.20" fill="#9b9bff"/>
<rect x="175.90" y="559.35" width="13.75" height="8.20" fill="#2a2aff"/>
<rect x="189.60" y="559.35" width="13.75" height="8.20" fill="#b0b0ff"/>
<rect x="203.30" y="559.35" width="13.75" height="8.20" fill="#ff9494"/>
<rect x="217.00" y="559.35" width="13.75" height="8.20" fill="#ff7070"/>
<rect x="230.70" y="559.35" width="13.75" height="8.20" fill="#ff5a5a"/>
<rect x="162.20" y="567.50" width="13.75" height="8.20" fill="#8484ff"/>
<rect x="175.90" y="567.50" width="13.75" height="8.20" fill="#5252ff"/>
<rect x="189.60" y="567.50" width="13.75" height="8.20" fill="#9494ff"/>
<rect x="203.30" y="567.50" width="13.75" height="8.20" fill="#ff9090"/>
<rect x="217.00" y="567.50" width="13.75" height="8.20" fill="#ff8080"/>
<rect x="230.70" y="567.50" width="13.75" height="8.20" fill="#ff4848"/>
<rect x="162.20" y="575.64" width="13.75" height="8.20" fill="#a0a0ff"/>
<rect x="175.90" y="575.64" width="13.75" height="8.20" fill="#2c2cff"/>
<rect x="189.60" y="575.64" width="13.75" height="8.20" fill="#a8a8ff"/>
<rect x="203.30" y="575.64" width="13.75" height="8.20" fill="#ffa8a8"/>
<rect x="217.00" y="575.64" width="13.75" height="8.20" fill="#ff6262"/>
<rect x="230.70" y="575.64" width="13.75" height="8.20" fill="#ff5050"/>
<rect x="162.20" y="583.78" width="13.75" height="8.20" fill="#4545ff"/>
<rect x="175.90" y="583.78" width="13.75" height="8.20" fill="#7575ff"/>
<rect x="189.60" y="583.78" width="13.75" height="8.20" fill="#b0b0ff"/>
<rect x="203.30" y="583.78" width="13.75" height="8.20" fill="#ff9494"/>
<rect x="217.00" y="583.78" width="13.75" height="8.20" fill="#ff6060"/>
<rect x="230.70" y="583.78" width="13.75" height="8.20" fill="#ff5a5a"/>
<rect x="162.20" y="591.93" width="13.75" height="8.20" fill="#6060ff"/>
<rect x="175.90" y="591.93" width="13.75" height="8.20" fill="#7070ff"/>
<rect x="189.60" y="591.93" width="13.75" height="8.20" fill="#9c9cff"/>
<rect x="203.30" y="591.93" width="13.75" height="8.20" fill="#ffa0a0"/>
<rect x="217.00" y="591.93" width="13.75" height="8.20" fill="#ff5a5a"/>
<rect x="230.70" y="591.93" width="13.75" height="8.20" fill="#ff5a5a"/>
<rect x="162.20" y="600.07" width="13.75" height="8.20" fill="#6060ff"/>
<rect x="175.90" y="600.07" width="13.75" height="8.20" fill="#7070ff"/>
<rect x="189.60" y="600.07" width="13.75" height="8.20" fill="#fff0f0"/>
<rect x="203.30" y="600.07" width="13.75" height="8.20" fill="#fffafa"/>
<rect x="217.00" y="600.07" width="13.75" height="8.20" fill="#ff0000"/>
<rect x="230.70" y="600.07" width="13.75" height="8.20" fill="#ffdada"/>
<rect x="162.20" y="608.22" width="13.75" height="8.20" fill="#9494ff"/>
<rect x="175.90" y="608.22" width="13.75" height="8.20" fill="#7070ff"/>
<rect x="189.60" y="608.22" width="13.75" height="8.20" fill="#7070ff"/>
<rect x="203.30" y="608.22" width="13.75" height="8.20" fill="#ff2020"/>
<rect x="217.00" y="608.22" width="13.75" height="8.20" fill="#ffb0b0"/>
<rect x="230.70" y="608.22" width="13.75" height="8.20" fill="#ffb4b4"/>
<rect x="162.20" y="616.37" width="13.75" height="8.20" fill="#d0d0ff"/>
<rect x="175.90" y="616.37" width="13.75" height="8.20" fill="#7a7aff"/>
<rect x="189.60" y="616.37" width="13.75" height="8.20" fill="#3535ff"/>
<rect x="203.30" y="616.37" width="13.75" height="8.20" fill="#ff3c3c"/>
<rect x="217.00" y="616.37" width="13.75" height="8.20" fill="#ff9c9c"/>
<rect x="230.70" y="616.37" width="13.75" height="8.20" fill="#ffb0b0"/>
<rect x="162.20" y="624.51" width="13.75" height="8.20" fill="#6060ff"/>
<rect x="175.90" y="624.51" width="13.75" height="8.20" fill="#f5f5ff"/>
<rect x="189.60" y="624.51" width="13.75" height="8.20" fill="#4848ff"/>
<rect x="203.30" y="624.51" width="13.75" height="8.20" fill="#ff4c4c"/>
<rect x="217.00" y="624.51" width="13.75" height="8.20" fill="#ffffff"/>
<rect x="230.70" y="624.51" width="13.75" height="8.20" fill="#ff6060"/>
<rect x="162.20" y="632.65" width="13.75" height="8.20" fill="#3838ff"/>
<rect x="175.90" y="632.65" width="13.75" height="8.20" fill="#d5d5ff"/>
<rect x="189.60" y="632.65" width="13.75" height="8.20" fill="#6a6aff"/>
<rect x="203.30" y="632.65" width="13.75" height="8.20" fill="#ff5a5a"/>
<rect x="217.00" y="632.65" width="13.75" height="8.20" fill="#ff7c7c"/>
<rect x="230.70" y="632.65" width="13.75" height="8.20" fill="#ffa0a0"/>
<text x="0" y="0" font-size="7.9" fill="#1a1a1a" stroke="#1a1a1a" stroke-width="0.30" text-anchor="end" transform="translate(158.2,486.34) scale(0.96,1)">Serpinh1</text>
<text x="0" y="0" font-size="7.9" fill="#1a1a1a" stroke="#1a1a1a" stroke-width="0.30" text-anchor="end" transform="translate(158.2,494.49) scale(0.96,1)">Pde2a</text>
<text x="0" y="0" font-size="7.9" fill="#1a1a1a" stroke="#1a1a1a" stroke-width="0.30" text-anchor="end" transform="translate(158.2,502.63) scale(0.96,1)">Pcbp4</text>
<text x="0" y="0" font-size="7.9" fill="#1a1a1a" stroke="#1a1a1a" stroke-width="0.30" text-anchor="end" transform="translate(158.2,510.78) scale(0.96,1)">Plk2</text>
<text x="0" y="0" font-size="7.9" fill="#1a1a1a" stroke="#1a1a1a" stroke-width="0.30" text-anchor="end" transform="translate(158.2,518.92) scale(0.96,1)">Nr4a1</text>
<text x="0" y="0" font-size="7.9" fill="#1a1a1a" stroke="#1a1a1a" stroke-width="0.30" text-anchor="end" transform="translate(158.2,527.07) scale(0.96,1)">Sdc4</text>
<text x="0" y="0" font-size="7.9" fill="#1a1a1a" stroke="#1a1a1a" stroke-width="0.30" text-anchor="end" transform="translate(158.2,535.21) scale(0.96,1)">Blnk</text>
<text x="0" y="0" font-size="7.9" fill="#1a1a1a" stroke="#1a1a1a" stroke-width="0.30" text-anchor="end" transform="translate(158.2,543.36) scale(0.96,1)">Pax5</text>
<text x="0" y="0" font-size="7.9" fill="#1a1a1a" stroke="#1a1a1a" stroke-width="0.30" text-anchor="end" transform="translate(158.2,551.50) scale(0.96,1)">Gfra2</text>
<text x="0" y="0" font-size="7.9" fill="#1a1a1a" stroke="#1a1a1a" stroke-width="0.30" text-anchor="end" transform="translate(158.2,559.65) scale(0.96,1)">Cd79a</text>
<text x="0" y="0" font-size="7.9" fill="#1a1a1a" stroke="#1a1a1a" stroke-width="0.30" text-anchor="end" transform="translate(158.2,567.79) scale(0.96,1)">Cplx2</text>
<text x="0" y="0" font-size="7.9" fill="#1a1a1a" stroke="#1a1a1a" stroke-width="0.30" text-anchor="end" transform="translate(158.2,575.94) scale(0.96,1)">Cd19</text>
<text x="0" y="0" font-size="7.9" fill="#1a1a1a" stroke="#1a1a1a" stroke-width="0.30" text-anchor="end" transform="translate(158.2,584.08) scale(0.96,1)">Akap12</text>
<text x="0" y="0" font-size="7.9" fill="#1a1a1a" stroke="#1a1a1a" stroke-width="0.30" text-anchor="end" transform="translate(158.2,592.23) scale(0.96,1)">Foxo1</text>
<text x="0" y="0" font-size="7.9" fill="#1a1a1a" stroke="#1a1a1a" stroke-width="0.30" text-anchor="end" transform="translate(158.2,600.37) scale(0.96,1)">Pou2af1</text>
<text x="0" y="0" font-size="7.9" fill="#1a1a1a" stroke="#1a1a1a" stroke-width="0.30" text-anchor="end" transform="translate(158.2,608.52) scale(0.96,1)">Tgm2</text>
<text x="0" y="0" font-size="7.9" fill="#1a1a1a" stroke="#1a1a1a" stroke-width="0.30" text-anchor="end" transform="translate(158.2,616.66) scale(0.96,1)">Rps4y2</text>
<text x="0" y="0" font-size="7.9" fill="#1a1a1a" stroke="#1a1a1a" stroke-width="0.30" text-anchor="end" transform="translate(158.2,624.81) scale(0.96,1)">Skil</text>
<text x="0" y="0" font-size="7.9" fill="#1a1a1a" stroke="#1a1a1a" stroke-width="0.30" text-anchor="end" transform="translate(158.2,632.95) scale(0.96,1)">Igj</text>
<text x="0" y="0" font-size="7.9" fill="#1a1a1a" stroke="#1a1a1a" stroke-width="0.30" text-anchor="end" transform="translate(158.2,641.10) scale(0.96,1)">Tsc22d1</text>
<rect x="162.10" y="467.50" width="40.70" height="5.10" fill="#a0001f"/>
<rect x="203.60" y="467.50" width="40.80" height="5.10" fill="#22407a"/>
<text x="140.00" y="452.20" font-size="8.10" fill="#1a1a1a" textLength="82.50" lengthAdjust="spacingAndGlyphs" stroke="#1a1a1a" stroke-width="0.30">Jak2VF Dnmt3a-Cas9 vs</text>
<text x="224.30" y="452.20" font-size="8.10" fill="#1a1a1a" textLength="13.70" lengthAdjust="spacingAndGlyphs" stroke="#1a1a1a" stroke-width="0.30">Jak2</text>
<text x="238.20" y="448.80" font-size="5.02" fill="#1a1a1a" textLength="6.10" lengthAdjust="spacingAndGlyphs" stroke="#1a1a1a" stroke-width="0.30">VF</text>
<text x="244.30" y="452.20" font-size="8.10" fill="#1a1a1a" textLength="21.20" lengthAdjust="spacingAndGlyphs" stroke="#1a1a1a" stroke-width="0.30">-Cas9</text>
<text x="148.50" y="461.20" font-size="8.10" fill="#1a1a1a" textLength="108.30" lengthAdjust="spacingAndGlyphs" stroke="#1a1a1a" stroke-width="0.30">DE (FDR&lt;0.05) and upregulated</text>
<defs><linearGradient id="lgJ" x1="0" x2="1" y1="0" y2="0"><stop offset="0" stop-color="#0000ff"/><stop offset="0.1" stop-color="#0a0aff"/><stop offset="0.5" stop-color="#ffffff"/><stop offset="0.9" stop-color="#ff0a0a"/><stop offset="1" stop-color="#ff0000"/></linearGradient></defs>
<rect x="252.80" y="473.00" width="47.10" height="9.50" fill="url(#lgJ)"/>
<line x1="252.80" y1="482.50" x2="299.90" y2="482.50" stroke="#222" stroke-width="0.80"/>
<line x1="256.40" y1="482.50" x2="256.40" y2="488.50" stroke="#222" stroke-width="0.80"/>
<line x1="263.10" y1="482.50" x2="263.10" y2="488.50" stroke="#222" stroke-width="0.80"/>
<line x1="269.60" y1="482.50" x2="269.60" y2="488.50" stroke="#222" stroke-width="0.80"/>
<line x1="276.30" y1="482.50" x2="276.30" y2="488.50" stroke="#222" stroke-width="0.80"/>
<line x1="283.30" y1="482.50" x2="283.30" y2="488.50" stroke="#222" stroke-width="0.80"/>
<line x1="289.80" y1="482.50" x2="289.80" y2="488.50" stroke="#222" stroke-width="0.80"/>
<line x1="296.50" y1="482.50" x2="296.50" y2="488.50" stroke="#222" stroke-width="0.80"/>
<text x="249.40" y="501.70" font-size="8.00" fill="#1a1a1a" textLength="12.80" lengthAdjust="spacingAndGlyphs" stroke="#1a1a1a" stroke-width="0.30">-1.5</text>
<text x="276.00" y="501.70" font-size="8.00" fill="#1a1a1a" text-anchor="middle" stroke="#1a1a1a" stroke-width="0.30">0</text>
<text x="291.80" y="501.70" font-size="8.00" fill="#1a1a1a" textLength="9.40" lengthAdjust="spacingAndGlyphs" stroke="#1a1a1a" stroke-width="0.30">1.5</text>
<text x="250.00" y="515.00" font-size="9.80" fill="#1a1a1a" textLength="50.40" lengthAdjust="spacingAndGlyphs" stroke="#1a1a1a" stroke-width="0.30">Row Z-score</text>
</svg>
<svg class="ov" width="520" height="651" viewBox="0 0 520 651"><rect x="0" y="0" width="1.45" height="651" fill="#0d0d0d"/><rect x="0" y="0" width="520" height="1.3" fill="#0d0d0d"/><rect x="518.2" y="0" width="1.8" height="651" fill="#0d0d0d"/><rect x="0" y="649.3" width="520" height="1.7" fill="#0d0d0d"/></svg>
</div>
</body></html>
